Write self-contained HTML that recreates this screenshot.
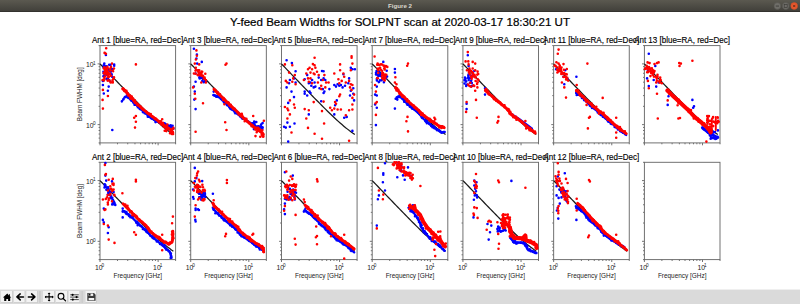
<!DOCTYPE html>
<html><head><meta charset="utf-8"><style>
html,body{margin:0;padding:0;width:800px;height:304px;overflow:hidden;background:#fff}
svg{display:block}
text{font-family:"Liberation Sans", sans-serif;fill:#000}
</style></head><body>
<svg width="800" height="304" viewBox="0 0 800 304">
<defs>
<linearGradient id="tb" x1="0" y1="0" x2="0" y2="1">
<stop offset="0" stop-color="#5b5950"/><stop offset="1" stop-color="#3f3e39"/>
</linearGradient>
</defs>
<rect x="0" y="0" width="800" height="12" fill="url(#tb)"/>
<rect x="0" y="11" width="800" height="1" fill="#33322e"/>
<text x="400" y="8.3" text-anchor="middle" font-size="5.6" font-weight="bold" style="fill:#dcd8cf" textLength="24" lengthAdjust="spacingAndGlyphs">Figure 2</text>
<circle cx="777.4" cy="6" r="3.4" fill="#6f6e69" stroke="#55544f" stroke-width="0.6"/>
<rect x="775.8" y="5.6" width="3.2" height="0.9" fill="#3c3b37"/>
<circle cx="785.7" cy="6" r="3.4" fill="#6f6e69" stroke="#55544f" stroke-width="0.6"/>
<rect x="784.2" y="4.5" width="3" height="3" fill="none" stroke="#3c3b37" stroke-width="0.7"/>
<circle cx="794.2" cy="6" r="3.4" fill="#e8582d" stroke="#c94a25" stroke-width="0.5"/>
<path d="M793.1 4.9l2.2 2.2M795.3 4.9l-2.2 2.2" stroke="#5a2a1a" stroke-width="0.8"/>
<text x="400" y="25.9" text-anchor="middle" font-size="10.8" textLength="340" lengthAdjust="spacingAndGlyphs" stroke="#000" stroke-width="0.2">Y-feed Beam Widths for SOLPNT scan at 2020-03-17 18:30:21 UT</text>
<path d="M100.00 142.90v2.4 M158.11 142.90v2.4 M117.49 142.90v1.4 M127.72 142.90v1.4 M134.98 142.90v1.4 M140.62 142.90v1.4 M145.22 142.90v1.4 M149.11 142.90v1.4 M152.48 142.90v1.4 M155.45 142.90v1.4 M175.60 142.90v1.4 M100.00 124.62h-2.4 M100.00 63.88h-2.4 M100.00 142.90h-1.4 M100.00 138.09h-1.4 M100.00 134.03h-1.4 M100.00 130.50h-1.4 M100.00 127.40h-1.4 M100.00 106.33h-1.4 M100.00 95.64h-1.4 M100.00 88.05h-1.4 M100.00 82.17h-1.4 M100.00 77.36h-1.4 M100.00 73.29h-1.4 M100.00 69.77h-1.4 M100.00 66.66h-1.4 M100.00 45.60h-1.4" stroke="#000" stroke-width="0.55" fill="none"/>
<rect x="100.00" y="45.60" width="75.6" height="97.3" fill="none" stroke="#6a6a6a" stroke-width="0.95"/>
<text x="137.60" y="43.40" text-anchor="middle" font-size="8.4" textLength="91.2" lengthAdjust="spacingAndGlyphs" stroke="#000" stroke-width="0.15">Ant 1 [blue=RA, red=Dec]</text>
<text x="85.90" y="66.88" font-size="6.8" style="fill:#222">10</text><text x="93.00" y="64.68" font-size="4.7" style="fill:#222">1</text>
<text x="85.90" y="127.62" font-size="6.8" style="fill:#222">10</text><text x="93.00" y="125.42" font-size="4.7" style="fill:#222">0</text>
<text transform="translate(82.20 94.35) rotate(-90)" text-anchor="middle" font-size="6.6" textLength="54" lengthAdjust="spacingAndGlyphs" style="fill:#222">Beam FWHM [deg]</text>
<path d="M190.73 142.90v2.4 M248.84 142.90v2.4 M208.23 142.90v1.4 M218.46 142.90v1.4 M225.72 142.90v1.4 M231.35 142.90v1.4 M235.95 142.90v1.4 M239.84 142.90v1.4 M243.21 142.90v1.4 M246.18 142.90v1.4 M266.33 142.90v1.4 M190.73 124.62h-2.4 M190.73 63.88h-2.4 M190.73 142.90h-1.4 M190.73 138.09h-1.4 M190.73 134.03h-1.4 M190.73 130.50h-1.4 M190.73 127.40h-1.4 M190.73 106.33h-1.4 M190.73 95.64h-1.4 M190.73 88.05h-1.4 M190.73 82.17h-1.4 M190.73 77.36h-1.4 M190.73 73.29h-1.4 M190.73 69.77h-1.4 M190.73 66.66h-1.4 M190.73 45.60h-1.4" stroke="#000" stroke-width="0.55" fill="none"/>
<rect x="190.73" y="45.60" width="75.6" height="97.3" fill="none" stroke="#6a6a6a" stroke-width="0.95"/>
<text x="228.33" y="43.40" text-anchor="middle" font-size="8.4" textLength="91.2" lengthAdjust="spacingAndGlyphs" stroke="#000" stroke-width="0.15">Ant 3 [blue=RA, red=Dec]</text>
<path d="M281.47 142.90v2.4 M339.57 142.90v2.4 M298.96 142.90v1.4 M309.19 142.90v1.4 M316.45 142.90v1.4 M322.08 142.90v1.4 M326.68 142.90v1.4 M330.57 142.90v1.4 M333.94 142.90v1.4 M336.91 142.90v1.4 M357.07 142.90v1.4 M281.47 124.62h-2.4 M281.47 63.88h-2.4 M281.47 142.90h-1.4 M281.47 138.09h-1.4 M281.47 134.03h-1.4 M281.47 130.50h-1.4 M281.47 127.40h-1.4 M281.47 106.33h-1.4 M281.47 95.64h-1.4 M281.47 88.05h-1.4 M281.47 82.17h-1.4 M281.47 77.36h-1.4 M281.47 73.29h-1.4 M281.47 69.77h-1.4 M281.47 66.66h-1.4 M281.47 45.60h-1.4" stroke="#000" stroke-width="0.55" fill="none"/>
<rect x="281.47" y="45.60" width="75.6" height="97.3" fill="none" stroke="#6a6a6a" stroke-width="0.95"/>
<text x="319.07" y="43.40" text-anchor="middle" font-size="8.4" textLength="91.2" lengthAdjust="spacingAndGlyphs" stroke="#000" stroke-width="0.15">Ant 5 [blue=RA, red=Dec]</text>
<path d="M372.20 142.90v2.4 M430.31 142.90v2.4 M389.69 142.90v1.4 M399.92 142.90v1.4 M407.18 142.90v1.4 M412.81 142.90v1.4 M417.42 142.90v1.4 M421.31 142.90v1.4 M424.68 142.90v1.4 M427.65 142.90v1.4 M447.80 142.90v1.4 M372.20 124.62h-2.4 M372.20 63.88h-2.4 M372.20 142.90h-1.4 M372.20 138.09h-1.4 M372.20 134.03h-1.4 M372.20 130.50h-1.4 M372.20 127.40h-1.4 M372.20 106.33h-1.4 M372.20 95.64h-1.4 M372.20 88.05h-1.4 M372.20 82.17h-1.4 M372.20 77.36h-1.4 M372.20 73.29h-1.4 M372.20 69.77h-1.4 M372.20 66.66h-1.4 M372.20 45.60h-1.4" stroke="#000" stroke-width="0.55" fill="none"/>
<rect x="372.20" y="45.60" width="75.6" height="97.3" fill="none" stroke="#6a6a6a" stroke-width="0.95"/>
<text x="409.80" y="43.40" text-anchor="middle" font-size="8.4" textLength="91.2" lengthAdjust="spacingAndGlyphs" stroke="#000" stroke-width="0.15">Ant 7 [blue=RA, red=Dec]</text>
<path d="M462.93 142.90v2.4 M521.04 142.90v2.4 M480.42 142.90v1.4 M490.66 142.90v1.4 M497.92 142.90v1.4 M503.55 142.90v1.4 M508.15 142.90v1.4 M512.04 142.90v1.4 M515.41 142.90v1.4 M518.38 142.90v1.4 M538.53 142.90v1.4 M462.93 124.62h-2.4 M462.93 63.88h-2.4 M462.93 142.90h-1.4 M462.93 138.09h-1.4 M462.93 134.03h-1.4 M462.93 130.50h-1.4 M462.93 127.40h-1.4 M462.93 106.33h-1.4 M462.93 95.64h-1.4 M462.93 88.05h-1.4 M462.93 82.17h-1.4 M462.93 77.36h-1.4 M462.93 73.29h-1.4 M462.93 69.77h-1.4 M462.93 66.66h-1.4 M462.93 45.60h-1.4" stroke="#000" stroke-width="0.55" fill="none"/>
<rect x="462.93" y="45.60" width="75.6" height="97.3" fill="none" stroke="#6a6a6a" stroke-width="0.95"/>
<text x="500.53" y="43.40" text-anchor="middle" font-size="8.4" textLength="91.2" lengthAdjust="spacingAndGlyphs" stroke="#000" stroke-width="0.15">Ant 9 [blue=RA, red=Dec]</text>
<path d="M553.66 142.90v2.4 M611.77 142.90v2.4 M571.16 142.90v1.4 M581.39 142.90v1.4 M588.65 142.90v1.4 M594.28 142.90v1.4 M598.88 142.90v1.4 M602.77 142.90v1.4 M606.14 142.90v1.4 M609.11 142.90v1.4 M629.26 142.90v1.4 M553.66 124.62h-2.4 M553.66 63.88h-2.4 M553.66 142.90h-1.4 M553.66 138.09h-1.4 M553.66 134.03h-1.4 M553.66 130.50h-1.4 M553.66 127.40h-1.4 M553.66 106.33h-1.4 M553.66 95.64h-1.4 M553.66 88.05h-1.4 M553.66 82.17h-1.4 M553.66 77.36h-1.4 M553.66 73.29h-1.4 M553.66 69.77h-1.4 M553.66 66.66h-1.4 M553.66 45.60h-1.4" stroke="#000" stroke-width="0.55" fill="none"/>
<rect x="553.66" y="45.60" width="75.6" height="97.3" fill="none" stroke="#6a6a6a" stroke-width="0.95"/>
<text x="591.26" y="43.40" text-anchor="middle" font-size="8.4" textLength="95.8" lengthAdjust="spacingAndGlyphs" stroke="#000" stroke-width="0.15">Ant 11 [blue=RA, red=Dec]</text>
<path d="M644.40 142.90v2.4 M702.51 142.90v2.4 M661.89 142.90v1.4 M672.12 142.90v1.4 M679.38 142.90v1.4 M685.01 142.90v1.4 M689.61 142.90v1.4 M693.50 142.90v1.4 M696.87 142.90v1.4 M699.85 142.90v1.4 M720.00 142.90v1.4 M644.40 124.62h-2.4 M644.40 63.88h-2.4 M644.40 142.90h-1.4 M644.40 138.09h-1.4 M644.40 134.03h-1.4 M644.40 130.50h-1.4 M644.40 127.40h-1.4 M644.40 106.33h-1.4 M644.40 95.64h-1.4 M644.40 88.05h-1.4 M644.40 82.17h-1.4 M644.40 77.36h-1.4 M644.40 73.29h-1.4 M644.40 69.77h-1.4 M644.40 66.66h-1.4 M644.40 45.60h-1.4" stroke="#000" stroke-width="0.55" fill="none"/>
<rect x="644.40" y="45.60" width="75.6" height="97.3" fill="none" stroke="#6a6a6a" stroke-width="0.95"/>
<text x="682.00" y="43.40" text-anchor="middle" font-size="8.4" textLength="95.8" lengthAdjust="spacingAndGlyphs" stroke="#000" stroke-width="0.15">Ant 13 [blue=RA, red=Dec]</text>
<path d="M100.00 259.60v2.4 M158.11 259.60v2.4 M117.49 259.60v1.4 M127.72 259.60v1.4 M134.98 259.60v1.4 M140.62 259.60v1.4 M145.22 259.60v1.4 M149.11 259.60v1.4 M152.48 259.60v1.4 M155.45 259.60v1.4 M175.60 259.60v1.4 M100.00 241.32h-2.4 M100.00 180.58h-2.4 M100.00 259.60h-1.4 M100.00 254.79h-1.4 M100.00 250.73h-1.4 M100.00 247.20h-1.4 M100.00 244.10h-1.4 M100.00 223.03h-1.4 M100.00 212.34h-1.4 M100.00 204.75h-1.4 M100.00 198.87h-1.4 M100.00 194.06h-1.4 M100.00 189.99h-1.4 M100.00 186.47h-1.4 M100.00 183.36h-1.4 M100.00 162.30h-1.4" stroke="#000" stroke-width="0.55" fill="none"/>
<rect x="100.00" y="162.30" width="75.6" height="97.3" fill="none" stroke="#6a6a6a" stroke-width="0.95"/>
<text x="137.60" y="160.10" text-anchor="middle" font-size="8.4" textLength="91.2" lengthAdjust="spacingAndGlyphs" stroke="#000" stroke-width="0.15">Ant 2 [blue=RA, red=Dec]</text>
<text x="85.90" y="183.58" font-size="6.8" style="fill:#222">10</text><text x="93.00" y="181.38" font-size="4.7" style="fill:#222">1</text>
<text x="85.90" y="244.32" font-size="6.8" style="fill:#222">10</text><text x="93.00" y="242.12" font-size="4.7" style="fill:#222">0</text>
<text transform="translate(82.20 211.05) rotate(-90)" text-anchor="middle" font-size="6.6" textLength="54" lengthAdjust="spacingAndGlyphs" style="fill:#222">Beam FWHM [deg]</text>
<text x="95.00" y="269.90" font-size="6.8" style="fill:#222">10</text><text x="101.60" y="267.30" font-size="4.7" style="fill:#222">0</text>
<text x="153.11" y="269.90" font-size="6.8" style="fill:#222">10</text><text x="159.71" y="267.30" font-size="4.7" style="fill:#222">1</text>
<text x="137.80" y="277.90" text-anchor="middle" font-size="6.5" textLength="48.6" lengthAdjust="spacingAndGlyphs" style="fill:#222">Frequency [GHz]</text>
<path d="M190.73 259.60v2.4 M248.84 259.60v2.4 M208.23 259.60v1.4 M218.46 259.60v1.4 M225.72 259.60v1.4 M231.35 259.60v1.4 M235.95 259.60v1.4 M239.84 259.60v1.4 M243.21 259.60v1.4 M246.18 259.60v1.4 M266.33 259.60v1.4 M190.73 241.32h-2.4 M190.73 180.58h-2.4 M190.73 259.60h-1.4 M190.73 254.79h-1.4 M190.73 250.73h-1.4 M190.73 247.20h-1.4 M190.73 244.10h-1.4 M190.73 223.03h-1.4 M190.73 212.34h-1.4 M190.73 204.75h-1.4 M190.73 198.87h-1.4 M190.73 194.06h-1.4 M190.73 189.99h-1.4 M190.73 186.47h-1.4 M190.73 183.36h-1.4 M190.73 162.30h-1.4" stroke="#000" stroke-width="0.55" fill="none"/>
<rect x="190.73" y="162.30" width="75.6" height="97.3" fill="none" stroke="#6a6a6a" stroke-width="0.95"/>
<text x="228.33" y="160.10" text-anchor="middle" font-size="8.4" textLength="91.2" lengthAdjust="spacingAndGlyphs" stroke="#000" stroke-width="0.15">Ant 4 [blue=RA, red=Dec]</text>
<text x="185.73" y="269.90" font-size="6.8" style="fill:#222">10</text><text x="192.33" y="267.30" font-size="4.7" style="fill:#222">0</text>
<text x="243.84" y="269.90" font-size="6.8" style="fill:#222">10</text><text x="250.44" y="267.30" font-size="4.7" style="fill:#222">1</text>
<text x="228.53" y="277.90" text-anchor="middle" font-size="6.5" textLength="48.6" lengthAdjust="spacingAndGlyphs" style="fill:#222">Frequency [GHz]</text>
<path d="M281.47 259.60v2.4 M339.57 259.60v2.4 M298.96 259.60v1.4 M309.19 259.60v1.4 M316.45 259.60v1.4 M322.08 259.60v1.4 M326.68 259.60v1.4 M330.57 259.60v1.4 M333.94 259.60v1.4 M336.91 259.60v1.4 M357.07 259.60v1.4 M281.47 241.32h-2.4 M281.47 180.58h-2.4 M281.47 259.60h-1.4 M281.47 254.79h-1.4 M281.47 250.73h-1.4 M281.47 247.20h-1.4 M281.47 244.10h-1.4 M281.47 223.03h-1.4 M281.47 212.34h-1.4 M281.47 204.75h-1.4 M281.47 198.87h-1.4 M281.47 194.06h-1.4 M281.47 189.99h-1.4 M281.47 186.47h-1.4 M281.47 183.36h-1.4 M281.47 162.30h-1.4" stroke="#000" stroke-width="0.55" fill="none"/>
<rect x="281.47" y="162.30" width="75.6" height="97.3" fill="none" stroke="#6a6a6a" stroke-width="0.95"/>
<text x="319.07" y="160.10" text-anchor="middle" font-size="8.4" textLength="91.2" lengthAdjust="spacingAndGlyphs" stroke="#000" stroke-width="0.15">Ant 6 [blue=RA, red=Dec]</text>
<text x="276.47" y="269.90" font-size="6.8" style="fill:#222">10</text><text x="283.07" y="267.30" font-size="4.7" style="fill:#222">0</text>
<text x="334.57" y="269.90" font-size="6.8" style="fill:#222">10</text><text x="341.17" y="267.30" font-size="4.7" style="fill:#222">1</text>
<text x="319.27" y="277.90" text-anchor="middle" font-size="6.5" textLength="48.6" lengthAdjust="spacingAndGlyphs" style="fill:#222">Frequency [GHz]</text>
<path d="M372.20 259.60v2.4 M430.31 259.60v2.4 M389.69 259.60v1.4 M399.92 259.60v1.4 M407.18 259.60v1.4 M412.81 259.60v1.4 M417.42 259.60v1.4 M421.31 259.60v1.4 M424.68 259.60v1.4 M427.65 259.60v1.4 M447.80 259.60v1.4 M372.20 241.32h-2.4 M372.20 180.58h-2.4 M372.20 259.60h-1.4 M372.20 254.79h-1.4 M372.20 250.73h-1.4 M372.20 247.20h-1.4 M372.20 244.10h-1.4 M372.20 223.03h-1.4 M372.20 212.34h-1.4 M372.20 204.75h-1.4 M372.20 198.87h-1.4 M372.20 194.06h-1.4 M372.20 189.99h-1.4 M372.20 186.47h-1.4 M372.20 183.36h-1.4 M372.20 162.30h-1.4" stroke="#000" stroke-width="0.55" fill="none"/>
<rect x="372.20" y="162.30" width="75.6" height="97.3" fill="none" stroke="#6a6a6a" stroke-width="0.95"/>
<text x="409.80" y="160.10" text-anchor="middle" font-size="8.4" textLength="91.2" lengthAdjust="spacingAndGlyphs" stroke="#000" stroke-width="0.15">Ant 8 [blue=RA, red=Dec]</text>
<text x="367.20" y="269.90" font-size="6.8" style="fill:#222">10</text><text x="373.80" y="267.30" font-size="4.7" style="fill:#222">0</text>
<text x="425.31" y="269.90" font-size="6.8" style="fill:#222">10</text><text x="431.91" y="267.30" font-size="4.7" style="fill:#222">1</text>
<text x="410.00" y="277.90" text-anchor="middle" font-size="6.5" textLength="48.6" lengthAdjust="spacingAndGlyphs" style="fill:#222">Frequency [GHz]</text>
<path d="M462.93 259.60v2.4 M521.04 259.60v2.4 M480.42 259.60v1.4 M490.66 259.60v1.4 M497.92 259.60v1.4 M503.55 259.60v1.4 M508.15 259.60v1.4 M512.04 259.60v1.4 M515.41 259.60v1.4 M518.38 259.60v1.4 M538.53 259.60v1.4 M462.93 241.32h-2.4 M462.93 180.58h-2.4 M462.93 259.60h-1.4 M462.93 254.79h-1.4 M462.93 250.73h-1.4 M462.93 247.20h-1.4 M462.93 244.10h-1.4 M462.93 223.03h-1.4 M462.93 212.34h-1.4 M462.93 204.75h-1.4 M462.93 198.87h-1.4 M462.93 194.06h-1.4 M462.93 189.99h-1.4 M462.93 186.47h-1.4 M462.93 183.36h-1.4 M462.93 162.30h-1.4" stroke="#000" stroke-width="0.55" fill="none"/>
<rect x="462.93" y="162.30" width="75.6" height="97.3" fill="none" stroke="#6a6a6a" stroke-width="0.95"/>
<text x="500.53" y="160.10" text-anchor="middle" font-size="8.4" textLength="95.8" lengthAdjust="spacingAndGlyphs" stroke="#000" stroke-width="0.15">Ant 10 [blue=RA, red=Dec]</text>
<text x="457.93" y="269.90" font-size="6.8" style="fill:#222">10</text><text x="464.53" y="267.30" font-size="4.7" style="fill:#222">0</text>
<text x="516.04" y="269.90" font-size="6.8" style="fill:#222">10</text><text x="522.64" y="267.30" font-size="4.7" style="fill:#222">1</text>
<text x="500.73" y="277.90" text-anchor="middle" font-size="6.5" textLength="48.6" lengthAdjust="spacingAndGlyphs" style="fill:#222">Frequency [GHz]</text>
<path d="M553.66 259.60v2.4 M611.77 259.60v2.4 M571.16 259.60v1.4 M581.39 259.60v1.4 M588.65 259.60v1.4 M594.28 259.60v1.4 M598.88 259.60v1.4 M602.77 259.60v1.4 M606.14 259.60v1.4 M609.11 259.60v1.4 M629.26 259.60v1.4 M553.66 241.32h-2.4 M553.66 180.58h-2.4 M553.66 259.60h-1.4 M553.66 254.79h-1.4 M553.66 250.73h-1.4 M553.66 247.20h-1.4 M553.66 244.10h-1.4 M553.66 223.03h-1.4 M553.66 212.34h-1.4 M553.66 204.75h-1.4 M553.66 198.87h-1.4 M553.66 194.06h-1.4 M553.66 189.99h-1.4 M553.66 186.47h-1.4 M553.66 183.36h-1.4 M553.66 162.30h-1.4" stroke="#000" stroke-width="0.55" fill="none"/>
<rect x="553.66" y="162.30" width="75.6" height="97.3" fill="none" stroke="#6a6a6a" stroke-width="0.95"/>
<text x="591.26" y="160.10" text-anchor="middle" font-size="8.4" textLength="95.8" lengthAdjust="spacingAndGlyphs" stroke="#000" stroke-width="0.15">Ant 12 [blue=RA, red=Dec]</text>
<text x="548.66" y="269.90" font-size="6.8" style="fill:#222">10</text><text x="555.26" y="267.30" font-size="4.7" style="fill:#222">0</text>
<text x="606.77" y="269.90" font-size="6.8" style="fill:#222">10</text><text x="613.37" y="267.30" font-size="4.7" style="fill:#222">1</text>
<text x="591.46" y="277.90" text-anchor="middle" font-size="6.5" textLength="48.6" lengthAdjust="spacingAndGlyphs" style="fill:#222">Frequency [GHz]</text>
<path d="M644.40 259.60v2.4 M702.51 259.60v2.4 M661.89 259.60v1.4 M672.12 259.60v1.4 M679.38 259.60v1.4 M685.01 259.60v1.4 M689.61 259.60v1.4 M693.50 259.60v1.4 M696.87 259.60v1.4 M699.85 259.60v1.4 M720.00 259.60v1.4 M644.40 241.32h-2.4 M644.40 180.58h-2.4 M644.40 259.60h-1.4 M644.40 254.79h-1.4 M644.40 250.73h-1.4 M644.40 247.20h-1.4 M644.40 244.10h-1.4 M644.40 223.03h-1.4 M644.40 212.34h-1.4 M644.40 204.75h-1.4 M644.40 198.87h-1.4 M644.40 194.06h-1.4 M644.40 189.99h-1.4 M644.40 186.47h-1.4 M644.40 183.36h-1.4 M644.40 162.30h-1.4" stroke="#000" stroke-width="0.55" fill="none"/>
<rect x="644.40" y="162.30" width="75.6" height="97.3" fill="none" stroke="#6a6a6a" stroke-width="0.95"/>
<text x="639.40" y="269.90" font-size="6.8" style="fill:#222">10</text><text x="646.00" y="267.30" font-size="4.7" style="fill:#222">0</text>
<text x="697.51" y="269.90" font-size="6.8" style="fill:#222">10</text><text x="704.11" y="267.30" font-size="4.7" style="fill:#222">1</text>
<text x="682.20" y="277.90" text-anchor="middle" font-size="6.5" textLength="48.6" lengthAdjust="spacingAndGlyphs" style="fill:#222">Frequency [GHz]</text>
<path d="M100.00 63.86 L101.83 65.77 L103.67 67.69 L105.50 69.60 L107.34 71.51 L109.17 73.42 L111.00 75.33 L112.84 77.24 L114.67 79.14 L116.51 81.05 L118.34 82.95 L120.17 84.85 L122.01 86.75 L123.84 88.65 L125.68 90.54 L127.51 92.43 L129.34 94.32 L131.18 96.20 L133.01 98.07 L134.85 99.94 L136.68 101.80 L138.51 103.65 L140.35 105.50 L142.18 107.33 L144.01 109.15 L145.85 110.95 L147.68 112.74 L149.52 114.51 L151.35 116.26 L153.18 117.99 L155.02 119.69 L156.85 121.36 L158.69 122.99 L160.52 124.59 L162.35 126.15 L164.19 127.67 L166.02 129.13 L167.86 130.55 L169.69 131.91 L171.52 133.21 L173.36 134.45 M190.73 63.86 L192.57 65.77 L194.40 67.69 L196.23 69.60 L198.07 71.51 L199.90 73.42 L201.74 75.33 L203.57 77.24 L205.40 79.14 L207.24 81.05 L209.07 82.95 L210.91 84.85 L212.74 86.75 L214.57 88.65 L216.41 90.54 L218.24 92.43 L220.08 94.32 L221.91 96.20 L223.74 98.07 L225.58 99.94 L227.41 101.80 L229.25 103.65 L231.08 105.50 L232.91 107.33 L234.75 109.15 L236.58 110.95 L238.42 112.74 L240.25 114.51 L242.08 116.26 L243.92 117.99 L245.75 119.69 L247.59 121.36 L249.42 122.99 L251.25 124.59 L253.09 126.15 L254.92 127.67 L256.76 129.13 L258.59 130.55 L260.42 131.91 L262.26 133.21 L264.09 134.45 M281.47 63.86 L283.30 65.77 L285.13 67.69 L286.97 69.60 L288.80 71.51 L290.64 73.42 L292.47 75.33 L294.30 77.24 L296.14 79.14 L297.97 81.05 L299.81 82.95 L301.64 84.85 L303.47 86.75 L305.31 88.65 L307.14 90.54 L308.98 92.43 L310.81 94.32 L312.64 96.20 L314.48 98.07 L316.31 99.94 L318.15 101.80 L319.98 103.65 L321.81 105.50 L323.65 107.33 L325.48 109.15 L327.31 110.95 L329.15 112.74 L330.98 114.51 L332.82 116.26 L334.65 117.99 L336.48 119.69 L338.32 121.36 L340.15 122.99 L341.99 124.59 L343.82 126.15 L345.65 127.67 L347.49 129.13 L349.32 130.55 L351.16 131.91 L352.99 133.21 L354.82 134.45 M372.20 63.86 L374.03 65.77 L375.87 67.69 L377.70 69.60 L379.53 71.51 L381.37 73.42 L383.20 75.33 L385.04 77.24 L386.87 79.14 L388.70 81.05 L390.54 82.95 L392.37 84.85 L394.21 86.75 L396.04 88.65 L397.87 90.54 L399.71 92.43 L401.54 94.32 L403.38 96.20 L405.21 98.07 L407.04 99.94 L408.88 101.80 L410.71 103.65 L412.55 105.50 L414.38 107.33 L416.21 109.15 L418.05 110.95 L419.88 112.74 L421.72 114.51 L423.55 116.26 L425.38 117.99 L427.22 119.69 L429.05 121.36 L430.89 122.99 L432.72 124.59 L434.55 126.15 L436.39 127.67 L438.22 129.13 L440.06 130.55 L441.89 131.91 L443.72 133.21 L445.56 134.45 M462.93 63.86 L464.77 65.77 L466.60 67.69 L468.43 69.60 L470.27 71.51 L472.10 73.42 L473.94 75.33 L475.77 77.24 L477.60 79.14 L479.44 81.05 L481.27 82.95 L483.11 84.85 L484.94 86.75 L486.77 88.65 L488.61 90.54 L490.44 92.43 L492.28 94.32 L494.11 96.20 L495.94 98.07 L497.78 99.94 L499.61 101.80 L501.45 103.65 L503.28 105.50 L505.11 107.33 L506.95 109.15 L508.78 110.95 L510.61 112.74 L512.45 114.51 L514.28 116.26 L516.12 117.99 L517.95 119.69 L519.78 121.36 L521.62 122.99 L523.45 124.59 L525.29 126.15 L527.12 127.67 L528.95 129.13 L530.79 130.55 L532.62 131.91 L534.46 133.21 L536.29 134.45 M553.66 63.86 L555.50 65.77 L557.33 67.69 L559.17 69.60 L561.00 71.51 L562.83 73.42 L564.67 75.33 L566.50 77.24 L568.34 79.14 L570.17 81.05 L572.00 82.95 L573.84 84.85 L575.67 86.75 L577.51 88.65 L579.34 90.54 L581.17 92.43 L583.01 94.32 L584.84 96.20 L586.68 98.07 L588.51 99.94 L590.34 101.80 L592.18 103.65 L594.01 105.50 L595.85 107.33 L597.68 109.15 L599.51 110.95 L601.35 112.74 L603.18 114.51 L605.02 116.26 L606.85 117.99 L608.68 119.69 L610.52 121.36 L612.35 122.99 L614.19 124.59 L616.02 126.15 L617.85 127.67 L619.69 129.13 L621.52 130.55 L623.36 131.91 L625.19 133.21 L627.02 134.45 M644.40 63.86 L646.23 65.77 L648.07 67.69 L649.90 69.60 L651.73 71.51 L653.57 73.42 L655.40 75.33 L657.24 77.24 L659.07 79.14 L660.90 81.05 L662.74 82.95 L664.57 84.85 L666.41 86.75 L668.24 88.65 L670.07 90.54 L671.91 92.43 L673.74 94.32 L675.58 96.20 L677.41 98.07 L679.24 99.94 L681.08 101.80 L682.91 103.65 L684.75 105.50 L686.58 107.33 L688.41 109.15 L690.25 110.95 L692.08 112.74 L693.91 114.51 L695.75 116.26 L697.58 117.99 L699.42 119.69 L701.25 121.36 L703.08 122.99 L704.92 124.59 L706.75 126.15 L708.59 127.67 L710.42 129.13 L712.25 130.55 L714.09 131.91 L715.92 133.21 L717.76 134.45 M100.00 180.56 L101.83 182.47 L103.67 184.39 L105.50 186.30 L107.34 188.21 L109.17 190.12 L111.00 192.03 L112.84 193.94 L114.67 195.84 L116.51 197.75 L118.34 199.65 L120.17 201.55 L122.01 203.45 L123.84 205.35 L125.68 207.24 L127.51 209.13 L129.34 211.02 L131.18 212.90 L133.01 214.77 L134.85 216.64 L136.68 218.50 L138.51 220.35 L140.35 222.20 L142.18 224.03 L144.01 225.85 L145.85 227.65 L147.68 229.44 L149.52 231.21 L151.35 232.96 L153.18 234.69 L155.02 236.39 L156.85 238.06 L158.69 239.69 L160.52 241.29 L162.35 242.85 L164.19 244.37 L166.02 245.83 L167.86 247.25 L169.69 248.61 L171.52 249.91 L173.36 251.15 M190.73 180.56 L192.57 182.47 L194.40 184.39 L196.23 186.30 L198.07 188.21 L199.90 190.12 L201.74 192.03 L203.57 193.94 L205.40 195.84 L207.24 197.75 L209.07 199.65 L210.91 201.55 L212.74 203.45 L214.57 205.35 L216.41 207.24 L218.24 209.13 L220.08 211.02 L221.91 212.90 L223.74 214.77 L225.58 216.64 L227.41 218.50 L229.25 220.35 L231.08 222.20 L232.91 224.03 L234.75 225.85 L236.58 227.65 L238.42 229.44 L240.25 231.21 L242.08 232.96 L243.92 234.69 L245.75 236.39 L247.59 238.06 L249.42 239.69 L251.25 241.29 L253.09 242.85 L254.92 244.37 L256.76 245.83 L258.59 247.25 L260.42 248.61 L262.26 249.91 L264.09 251.15 M281.47 180.56 L283.30 182.47 L285.13 184.39 L286.97 186.30 L288.80 188.21 L290.64 190.12 L292.47 192.03 L294.30 193.94 L296.14 195.84 L297.97 197.75 L299.81 199.65 L301.64 201.55 L303.47 203.45 L305.31 205.35 L307.14 207.24 L308.98 209.13 L310.81 211.02 L312.64 212.90 L314.48 214.77 L316.31 216.64 L318.15 218.50 L319.98 220.35 L321.81 222.20 L323.65 224.03 L325.48 225.85 L327.31 227.65 L329.15 229.44 L330.98 231.21 L332.82 232.96 L334.65 234.69 L336.48 236.39 L338.32 238.06 L340.15 239.69 L341.99 241.29 L343.82 242.85 L345.65 244.37 L347.49 245.83 L349.32 247.25 L351.16 248.61 L352.99 249.91 L354.82 251.15 M372.20 180.56 L374.03 182.47 L375.87 184.39 L377.70 186.30 L379.53 188.21 L381.37 190.12 L383.20 192.03 L385.04 193.94 L386.87 195.84 L388.70 197.75 L390.54 199.65 L392.37 201.55 L394.21 203.45 L396.04 205.35 L397.87 207.24 L399.71 209.13 L401.54 211.02 L403.38 212.90 L405.21 214.77 L407.04 216.64 L408.88 218.50 L410.71 220.35 L412.55 222.20 L414.38 224.03 L416.21 225.85 L418.05 227.65 L419.88 229.44 L421.72 231.21 L423.55 232.96 L425.38 234.69 L427.22 236.39 L429.05 238.06 L430.89 239.69 L432.72 241.29 L434.55 242.85 L436.39 244.37 L438.22 245.83 L440.06 247.25 L441.89 248.61 L443.72 249.91 L445.56 251.15 M462.93 180.56 L464.77 182.47 L466.60 184.39 L468.43 186.30 L470.27 188.21 L472.10 190.12 L473.94 192.03 L475.77 193.94 L477.60 195.84 L479.44 197.75 L481.27 199.65 L483.11 201.55 L484.94 203.45 L486.77 205.35 L488.61 207.24 L490.44 209.13 L492.28 211.02 L494.11 212.90 L495.94 214.77 L497.78 216.64 L499.61 218.50 L501.45 220.35 L503.28 222.20 L505.11 224.03 L506.95 225.85 L508.78 227.65 L510.61 229.44 L512.45 231.21 L514.28 232.96 L516.12 234.69 L517.95 236.39 L519.78 238.06 L521.62 239.69 L523.45 241.29 L525.29 242.85 L527.12 244.37 L528.95 245.83 L530.79 247.25 L532.62 248.61 L534.46 249.91 L536.29 251.15 M553.66 180.56 L555.50 182.47 L557.33 184.39 L559.17 186.30 L561.00 188.21 L562.83 190.12 L564.67 192.03 L566.50 193.94 L568.34 195.84 L570.17 197.75 L572.00 199.65 L573.84 201.55 L575.67 203.45 L577.51 205.35 L579.34 207.24 L581.17 209.13 L583.01 211.02 L584.84 212.90 L586.68 214.77 L588.51 216.64 L590.34 218.50 L592.18 220.35 L594.01 222.20 L595.85 224.03 L597.68 225.85 L599.51 227.65 L601.35 229.44 L603.18 231.21 L605.02 232.96 L606.85 234.69 L608.68 236.39 L610.52 238.06 L612.35 239.69 L614.19 241.29 L616.02 242.85 L617.85 244.37 L619.69 245.83 L621.52 247.25 L623.36 248.61 L625.19 249.91 L627.02 251.15" stroke="#1a1a1a" stroke-width="1.25" fill="none"/>
<path d="M121.8 101.6 L124.7 96.8" stroke="#0000ff" stroke-width="1.80" fill="none" stroke-linecap="round" stroke-linejoin="round"/>
<path d="M127.1 96.3 L136.6 105.1 L143.2 111.1 L149.1 116.5 L156.2 121.2 L163.3 123.6 L170.4 126.5 L173.4 128.9" stroke="#0000ff" stroke-width="2.30" fill="none" stroke-linecap="round" stroke-linejoin="round"/>
<path d="M213.4 95.1 L220.5 98.0 L227.6 105.1 L234.7 111.7 L241.3 117.1 L248.4 121.8 L255.5 126.0 L262.6 127.7" stroke="#0000ff" stroke-width="2.30" fill="none" stroke-linecap="round" stroke-linejoin="round"/>
<path d="M396.7 97.4 L400.3 96.8 L409.8 105.7 L418.1 112.8 L423.5 118.8 L431.8 126.0 L441.3 132.5 L444.8 131.9" stroke="#0000ff" stroke-width="2.30" fill="none" stroke-linecap="round" stroke-linejoin="round"/>
<path d="M512.1 114.2 L519.2 118.8 L532.2 128.5" stroke="#0000ff" stroke-width="1.80" fill="none" stroke-linecap="round" stroke-linejoin="round"/>
<path d="M576.4 92.0 L590.6 105.5 L608.4 121.0 L626.2 135.0" stroke="#0000ff" stroke-width="2.20" fill="none" stroke-linecap="round" stroke-linejoin="round"/>
<path d="M702.4 127.7 L711.0 134.5 L717.8 137.5" stroke="#0000ff" stroke-width="3.00" fill="none" stroke-linecap="round" stroke-linejoin="round"/>
<path d="M123.0 210.9 L129.5 215.0 L137.8 223.3 L146.1 230.4 L150.3 235.3 L157.4 241.2 L164.5 247.1 L169.8 251.8 L171.6 257.8" stroke="#0000ff" stroke-width="2.30" fill="none" stroke-linecap="round" stroke-linejoin="round"/>
<path d="M213.4 209.1 L219.3 215.0 L228.8 223.3 L237.1 230.4 L241.3 235.8 L248.4 240.0 L255.5 245.3 L262.6 250.1" stroke="#0000ff" stroke-width="2.30" fill="none" stroke-linecap="round" stroke-linejoin="round"/>
<path d="M304.4 210.3 L311.5 215.0 L319.8 223.3 L328.1 231.0 L332.3 235.8 L339.4 241.2 L346.5 245.9 L354.2 252.4" stroke="#0000ff" stroke-width="2.30" fill="none" stroke-linecap="round" stroke-linejoin="round"/>
<path d="M408.6 207.9 L414.5 213.8 L419.2 221.0 L421.6 228.1 L426.8 234.7 L434.0 241.8 L438.7 245.3 L444.6 250.7" stroke="#0000ff" stroke-width="2.20" fill="none" stroke-linecap="round" stroke-linejoin="round"/>
<path d="M510.3 237.4 L513.9 242.2 L523.4 242.7 L525.5 245.0 L527.7 249.4 L536.4 253.0" stroke="#0000ff" stroke-width="2.60" fill="none" stroke-linecap="round" stroke-linejoin="round"/>
<path d="M576.4 207.3 L583.5 212.7 L591.8 222.1 L600.1 229.3 L604.3 234.7 L611.4 240.0 L618.5 244.1 L624.4 247.1" stroke="#0000ff" stroke-width="2.30" fill="none" stroke-linecap="round" stroke-linejoin="round"/>
<path d="M104.6 54.9a1.3 1.3 0 1 0 2.6 0a1.3 1.3 0 1 0 -2.6 0M103.0 63.6a1.3 1.3 0 1 0 2.6 0a1.3 1.3 0 1 0 -2.6 0M101.6 80.9a1.3 1.3 0 1 0 2.6 0a1.3 1.3 0 1 0 -2.6 0M101.6 85.0a1.3 1.3 0 1 0 2.6 0a1.3 1.3 0 1 0 -2.6 0M107.4 86.6a1.3 1.3 0 1 0 2.6 0a1.3 1.3 0 1 0 -2.6 0M106.6 90.7a1.3 1.3 0 1 0 2.6 0a1.3 1.3 0 1 0 -2.6 0M105.4 66.4a1.3 1.3 0 1 0 2.6 0a1.3 1.3 0 1 0 -2.6 0M109.1 64.9a1.3 1.3 0 1 0 2.6 0a1.3 1.3 0 1 0 -2.6 0M107.8 70.5a1.3 1.3 0 1 0 2.6 0a1.3 1.3 0 1 0 -2.6 0M102.3 73.2a1.3 1.3 0 1 0 2.6 0a1.3 1.3 0 1 0 -2.6 0M102.1 71.8a1.3 1.3 0 1 0 2.6 0a1.3 1.3 0 1 0 -2.6 0M102.4 65.3a1.3 1.3 0 1 0 2.6 0a1.3 1.3 0 1 0 -2.6 0M106.5 79.2a1.3 1.3 0 1 0 2.6 0a1.3 1.3 0 1 0 -2.6 0M103.1 67.8a1.3 1.3 0 1 0 2.6 0a1.3 1.3 0 1 0 -2.6 0M108.9 81.5a1.3 1.3 0 1 0 2.6 0a1.3 1.3 0 1 0 -2.6 0M108.3 71.1a1.3 1.3 0 1 0 2.6 0a1.3 1.3 0 1 0 -2.6 0M112.9 64.5a1.3 1.3 0 1 0 2.6 0a1.3 1.3 0 1 0 -2.6 0M111.5 69.1a1.3 1.3 0 1 0 2.6 0a1.3 1.3 0 1 0 -2.6 0M103.3 65.8a1.3 1.3 0 1 0 2.6 0a1.3 1.3 0 1 0 -2.6 0M105.2 79.0a1.3 1.3 0 1 0 2.6 0a1.3 1.3 0 1 0 -2.6 0M103.7 74.6a1.3 1.3 0 1 0 2.6 0a1.3 1.3 0 1 0 -2.6 0M109.0 70.6a1.3 1.3 0 1 0 2.6 0a1.3 1.3 0 1 0 -2.6 0M107.9 64.8a1.3 1.3 0 1 0 2.6 0a1.3 1.3 0 1 0 -2.6 0M102.3 67.5a1.3 1.3 0 1 0 2.6 0a1.3 1.3 0 1 0 -2.6 0M109.5 71.7a1.3 1.3 0 1 0 2.6 0a1.3 1.3 0 1 0 -2.6 0M105.3 74.7a1.3 1.3 0 1 0 2.6 0a1.3 1.3 0 1 0 -2.6 0M106.9 69.3a1.3 1.3 0 1 0 2.6 0a1.3 1.3 0 1 0 -2.6 0M110.8 76.8a1.3 1.3 0 1 0 2.6 0a1.3 1.3 0 1 0 -2.6 0M104.5 74.4a1.3 1.3 0 1 0 2.6 0a1.3 1.3 0 1 0 -2.6 0M107.7 80.1a1.3 1.3 0 1 0 2.6 0a1.3 1.3 0 1 0 -2.6 0M110.0 69.0a1.3 1.3 0 1 0 2.6 0a1.3 1.3 0 1 0 -2.6 0M112.9 65.8a1.3 1.3 0 1 0 2.6 0a1.3 1.3 0 1 0 -2.6 0M106.5 77.9a1.3 1.3 0 1 0 2.6 0a1.3 1.3 0 1 0 -2.6 0M103.4 72.8a1.3 1.3 0 1 0 2.6 0a1.3 1.3 0 1 0 -2.6 0M102.1 76.2a1.3 1.3 0 1 0 2.6 0a1.3 1.3 0 1 0 -2.6 0M110.4 74.4a1.3 1.3 0 1 0 2.6 0a1.3 1.3 0 1 0 -2.6 0M102.5 93.5a1.3 1.3 0 1 0 2.6 0a1.3 1.3 0 1 0 -2.6 0M111.0 130.0a1.3 1.3 0 1 0 2.6 0a1.3 1.3 0 1 0 -2.6 0M120.6 101.2a1.3 1.3 0 1 0 2.6 0a1.3 1.3 0 1 0 -2.6 0M122.2 99.3a1.3 1.3 0 1 0 2.6 0a1.3 1.3 0 1 0 -2.6 0M123.9 97.1a1.3 1.3 0 1 0 2.6 0a1.3 1.3 0 1 0 -2.6 0M125.5 95.5a1.3 1.3 0 1 0 2.6 0a1.3 1.3 0 1 0 -2.6 0M171.3 125.8a1.3 1.3 0 1 0 2.6 0a1.3 1.3 0 1 0 -2.6 0M166.0 129.0a1.3 1.3 0 1 0 2.6 0a1.3 1.3 0 1 0 -2.6 0M169.3 125.7a1.3 1.3 0 1 0 2.6 0a1.3 1.3 0 1 0 -2.6 0M169.4 125.2a1.3 1.3 0 1 0 2.6 0a1.3 1.3 0 1 0 -2.6 0M169.3 129.1a1.3 1.3 0 1 0 2.6 0a1.3 1.3 0 1 0 -2.6 0M171.5 128.0a1.3 1.3 0 1 0 2.6 0a1.3 1.3 0 1 0 -2.6 0M167.6 126.6a1.3 1.3 0 1 0 2.6 0a1.3 1.3 0 1 0 -2.6 0M166.9 128.3a1.3 1.3 0 1 0 2.6 0a1.3 1.3 0 1 0 -2.6 0M169.3 128.3a1.3 1.3 0 1 0 2.6 0a1.3 1.3 0 1 0 -2.6 0M168.0 126.0a1.3 1.3 0 1 0 2.6 0a1.3 1.3 0 1 0 -2.6 0M192.6 48.8a1.3 1.3 0 1 0 2.6 0a1.3 1.3 0 1 0 -2.6 0M195.6 54.5a1.3 1.3 0 1 0 2.6 0a1.3 1.3 0 1 0 -2.6 0M195.1 58.6a1.3 1.3 0 1 0 2.6 0a1.3 1.3 0 1 0 -2.6 0M195.9 63.6a1.3 1.3 0 1 0 2.6 0a1.3 1.3 0 1 0 -2.6 0M200.5 61.9a1.3 1.3 0 1 0 2.6 0a1.3 1.3 0 1 0 -2.6 0M194.3 73.5a1.3 1.3 0 1 0 2.6 0a1.3 1.3 0 1 0 -2.6 0M199.6 77.9a1.3 1.3 0 1 0 2.6 0a1.3 1.3 0 1 0 -2.6 0M202.5 82.2a1.3 1.3 0 1 0 2.6 0a1.3 1.3 0 1 0 -2.6 0M194.3 81.7a1.3 1.3 0 1 0 2.6 0a1.3 1.3 0 1 0 -2.6 0M192.6 86.6a1.3 1.3 0 1 0 2.6 0a1.3 1.3 0 1 0 -2.6 0M193.5 91.6a1.3 1.3 0 1 0 2.6 0a1.3 1.3 0 1 0 -2.6 0M212.4 91.6a1.3 1.3 0 1 0 2.6 0a1.3 1.3 0 1 0 -2.6 0M198.3 76.1a1.3 1.3 0 1 0 2.6 0a1.3 1.3 0 1 0 -2.6 0M203.8 81.0a1.3 1.3 0 1 0 2.6 0a1.3 1.3 0 1 0 -2.6 0M201.5 78.0a1.3 1.3 0 1 0 2.6 0a1.3 1.3 0 1 0 -2.6 0M198.5 77.5a1.3 1.3 0 1 0 2.6 0a1.3 1.3 0 1 0 -2.6 0M203.7 81.3a1.3 1.3 0 1 0 2.6 0a1.3 1.3 0 1 0 -2.6 0M204.5 81.2a1.3 1.3 0 1 0 2.6 0a1.3 1.3 0 1 0 -2.6 0M198.8 78.0a1.3 1.3 0 1 0 2.6 0a1.3 1.3 0 1 0 -2.6 0M198.5 75.7a1.3 1.3 0 1 0 2.6 0a1.3 1.3 0 1 0 -2.6 0M201.8 78.9a1.3 1.3 0 1 0 2.6 0a1.3 1.3 0 1 0 -2.6 0M203.6 81.0a1.3 1.3 0 1 0 2.6 0a1.3 1.3 0 1 0 -2.6 0M198.4 78.4a1.3 1.3 0 1 0 2.6 0a1.3 1.3 0 1 0 -2.6 0M201.0 81.0a1.3 1.3 0 1 0 2.6 0a1.3 1.3 0 1 0 -2.6 0M198.6 76.2a1.3 1.3 0 1 0 2.6 0a1.3 1.3 0 1 0 -2.6 0M198.0 77.7a1.3 1.3 0 1 0 2.6 0a1.3 1.3 0 1 0 -2.6 0M193.0 99.6a1.3 1.3 0 1 0 2.6 0a1.3 1.3 0 1 0 -2.6 0M194.3 109.1a1.3 1.3 0 1 0 2.6 0a1.3 1.3 0 1 0 -2.6 0M212.4 95.0a1.3 1.3 0 1 0 2.6 0a1.3 1.3 0 1 0 -2.6 0M252.6 129.1a1.3 1.3 0 1 0 2.6 0a1.3 1.3 0 1 0 -2.6 0M261.0 129.0a1.3 1.3 0 1 0 2.6 0a1.3 1.3 0 1 0 -2.6 0M253.1 123.2a1.3 1.3 0 1 0 2.6 0a1.3 1.3 0 1 0 -2.6 0M252.4 127.4a1.3 1.3 0 1 0 2.6 0a1.3 1.3 0 1 0 -2.6 0M255.0 122.0a1.3 1.3 0 1 0 2.6 0a1.3 1.3 0 1 0 -2.6 0M256.8 128.5a1.3 1.3 0 1 0 2.6 0a1.3 1.3 0 1 0 -2.6 0M261.3 123.1a1.3 1.3 0 1 0 2.6 0a1.3 1.3 0 1 0 -2.6 0M253.6 128.5a1.3 1.3 0 1 0 2.6 0a1.3 1.3 0 1 0 -2.6 0M258.5 126.7a1.3 1.3 0 1 0 2.6 0a1.3 1.3 0 1 0 -2.6 0M252.9 121.5a1.3 1.3 0 1 0 2.6 0a1.3 1.3 0 1 0 -2.6 0M259.8 124.5a1.3 1.3 0 1 0 2.6 0a1.3 1.3 0 1 0 -2.6 0M252.7 128.7a1.3 1.3 0 1 0 2.6 0a1.3 1.3 0 1 0 -2.6 0M259.2 127.6a1.3 1.3 0 1 0 2.6 0a1.3 1.3 0 1 0 -2.6 0M252.9 128.0a1.3 1.3 0 1 0 2.6 0a1.3 1.3 0 1 0 -2.6 0M285.3 60.3a1.3 1.3 0 1 0 2.6 0a1.3 1.3 0 1 0 -2.6 0M290.6 63.1a1.3 1.3 0 1 0 2.6 0a1.3 1.3 0 1 0 -2.6 0M294.3 71.3a1.3 1.3 0 1 0 2.6 0a1.3 1.3 0 1 0 -2.6 0M292.7 78.4a1.3 1.3 0 1 0 2.6 0a1.3 1.3 0 1 0 -2.6 0M288.6 80.0a1.3 1.3 0 1 0 2.6 0a1.3 1.3 0 1 0 -2.6 0M287.8 83.3a1.3 1.3 0 1 0 2.6 0a1.3 1.3 0 1 0 -2.6 0M294.3 82.5a1.3 1.3 0 1 0 2.6 0a1.3 1.3 0 1 0 -2.6 0M285.3 87.4a1.3 1.3 0 1 0 2.6 0a1.3 1.3 0 1 0 -2.6 0M290.2 91.6a1.3 1.3 0 1 0 2.6 0a1.3 1.3 0 1 0 -2.6 0M303.4 79.2a1.3 1.3 0 1 0 2.6 0a1.3 1.3 0 1 0 -2.6 0M305.9 75.1a1.3 1.3 0 1 0 2.6 0a1.3 1.3 0 1 0 -2.6 0M307.5 83.3a1.3 1.3 0 1 0 2.6 0a1.3 1.3 0 1 0 -2.6 0M309.2 82.5a1.3 1.3 0 1 0 2.6 0a1.3 1.3 0 1 0 -2.6 0M310.8 80.0a1.3 1.3 0 1 0 2.6 0a1.3 1.3 0 1 0 -2.6 0M310.0 85.8a1.3 1.3 0 1 0 2.6 0a1.3 1.3 0 1 0 -2.6 0M312.4 87.4a1.3 1.3 0 1 0 2.6 0a1.3 1.3 0 1 0 -2.6 0M314.1 86.6a1.3 1.3 0 1 0 2.6 0a1.3 1.3 0 1 0 -2.6 0M313.3 82.5a1.3 1.3 0 1 0 2.6 0a1.3 1.3 0 1 0 -2.6 0M317.4 77.6a1.3 1.3 0 1 0 2.6 0a1.3 1.3 0 1 0 -2.6 0M320.7 71.0a1.3 1.3 0 1 0 2.6 0a1.3 1.3 0 1 0 -2.6 0M322.3 71.3a1.3 1.3 0 1 0 2.6 0a1.3 1.3 0 1 0 -2.6 0M319.9 80.0a1.3 1.3 0 1 0 2.6 0a1.3 1.3 0 1 0 -2.6 0M322.3 78.4a1.3 1.3 0 1 0 2.6 0a1.3 1.3 0 1 0 -2.6 0M324.0 80.0a1.3 1.3 0 1 0 2.6 0a1.3 1.3 0 1 0 -2.6 0M318.2 88.3a1.3 1.3 0 1 0 2.6 0a1.3 1.3 0 1 0 -2.6 0M321.5 89.1a1.3 1.3 0 1 0 2.6 0a1.3 1.3 0 1 0 -2.6 0M323.1 91.6a1.3 1.3 0 1 0 2.6 0a1.3 1.3 0 1 0 -2.6 0M328.1 89.1a1.3 1.3 0 1 0 2.6 0a1.3 1.3 0 1 0 -2.6 0M333.0 85.0a1.3 1.3 0 1 0 2.6 0a1.3 1.3 0 1 0 -2.6 0M334.7 86.6a1.3 1.3 0 1 0 2.6 0a1.3 1.3 0 1 0 -2.6 0M336.3 84.2a1.3 1.3 0 1 0 2.6 0a1.3 1.3 0 1 0 -2.6 0M338.0 85.8a1.3 1.3 0 1 0 2.6 0a1.3 1.3 0 1 0 -2.6 0M339.6 85.0a1.3 1.3 0 1 0 2.6 0a1.3 1.3 0 1 0 -2.6 0M341.3 87.4a1.3 1.3 0 1 0 2.6 0a1.3 1.3 0 1 0 -2.6 0M342.1 74.3a1.3 1.3 0 1 0 2.6 0a1.3 1.3 0 1 0 -2.6 0M343.7 85.8a1.3 1.3 0 1 0 2.6 0a1.3 1.3 0 1 0 -2.6 0M347.8 78.4a1.3 1.3 0 1 0 2.6 0a1.3 1.3 0 1 0 -2.6 0M347.0 83.3a1.3 1.3 0 1 0 2.6 0a1.3 1.3 0 1 0 -2.6 0M349.5 67.7a1.3 1.3 0 1 0 2.6 0a1.3 1.3 0 1 0 -2.6 0M351.1 69.3a1.3 1.3 0 1 0 2.6 0a1.3 1.3 0 1 0 -2.6 0M353.6 69.3a1.3 1.3 0 1 0 2.6 0a1.3 1.3 0 1 0 -2.6 0M352.0 88.3a1.3 1.3 0 1 0 2.6 0a1.3 1.3 0 1 0 -2.6 0M349.5 90.7a1.3 1.3 0 1 0 2.6 0a1.3 1.3 0 1 0 -2.6 0M308.3 91.6a1.3 1.3 0 1 0 2.6 0a1.3 1.3 0 1 0 -2.6 0M303.4 91.6a1.3 1.3 0 1 0 2.6 0a1.3 1.3 0 1 0 -2.6 0M292.7 97.1a1.3 1.3 0 1 0 2.6 0a1.3 1.3 0 1 0 -2.6 0M286.9 102.9a1.3 1.3 0 1 0 2.6 0a1.3 1.3 0 1 0 -2.6 0M303.4 93.8a1.3 1.3 0 1 0 2.6 0a1.3 1.3 0 1 0 -2.6 0M305.9 95.5a1.3 1.3 0 1 0 2.6 0a1.3 1.3 0 1 0 -2.6 0M309.2 93.0a1.3 1.3 0 1 0 2.6 0a1.3 1.3 0 1 0 -2.6 0M319.9 101.2a1.3 1.3 0 1 0 2.6 0a1.3 1.3 0 1 0 -2.6 0M307.5 114.4a1.3 1.3 0 1 0 2.6 0a1.3 1.3 0 1 0 -2.6 0M335.5 100.4a1.3 1.3 0 1 0 2.6 0a1.3 1.3 0 1 0 -2.6 0M333.8 105.3a1.3 1.3 0 1 0 2.6 0a1.3 1.3 0 1 0 -2.6 0M333.0 114.4a1.3 1.3 0 1 0 2.6 0a1.3 1.3 0 1 0 -2.6 0M342.9 117.7a1.3 1.3 0 1 0 2.6 0a1.3 1.3 0 1 0 -2.6 0M345.4 116.9a1.3 1.3 0 1 0 2.6 0a1.3 1.3 0 1 0 -2.6 0M348.7 95.5a1.3 1.3 0 1 0 2.6 0a1.3 1.3 0 1 0 -2.6 0M352.0 93.8a1.3 1.3 0 1 0 2.6 0a1.3 1.3 0 1 0 -2.6 0M352.8 100.4a1.3 1.3 0 1 0 2.6 0a1.3 1.3 0 1 0 -2.6 0M351.1 130.9a1.3 1.3 0 1 0 2.6 0a1.3 1.3 0 1 0 -2.6 0M286.1 122.6a1.3 1.3 0 1 0 2.6 0a1.3 1.3 0 1 0 -2.6 0M284.5 127.6a1.3 1.3 0 1 0 2.6 0a1.3 1.3 0 1 0 -2.6 0M282.8 126.7a1.3 1.3 0 1 0 2.6 0a1.3 1.3 0 1 0 -2.6 0M288.6 126.7a1.3 1.3 0 1 0 2.6 0a1.3 1.3 0 1 0 -2.6 0M293.2 123.5a1.3 1.3 0 1 0 2.6 0a1.3 1.3 0 1 0 -2.6 0M286.9 141.6a1.3 1.3 0 1 0 2.6 0a1.3 1.3 0 1 0 -2.6 0M322.3 93.0a1.3 1.3 0 1 0 2.6 0a1.3 1.3 0 1 0 -2.6 0M382.0 61.9a1.3 1.3 0 1 0 2.6 0a1.3 1.3 0 1 0 -2.6 0M393.6 69.0a1.3 1.3 0 1 0 2.6 0a1.3 1.3 0 1 0 -2.6 0M393.6 72.6a1.3 1.3 0 1 0 2.6 0a1.3 1.3 0 1 0 -2.6 0M375.5 86.6a1.3 1.3 0 1 0 2.6 0a1.3 1.3 0 1 0 -2.6 0M385.4 70.7a1.3 1.3 0 1 0 2.6 0a1.3 1.3 0 1 0 -2.6 0M384.1 75.0a1.3 1.3 0 1 0 2.6 0a1.3 1.3 0 1 0 -2.6 0M380.3 80.3a1.3 1.3 0 1 0 2.6 0a1.3 1.3 0 1 0 -2.6 0M379.2 76.0a1.3 1.3 0 1 0 2.6 0a1.3 1.3 0 1 0 -2.6 0M382.6 82.3a1.3 1.3 0 1 0 2.6 0a1.3 1.3 0 1 0 -2.6 0M378.6 80.3a1.3 1.3 0 1 0 2.6 0a1.3 1.3 0 1 0 -2.6 0M382.8 77.7a1.3 1.3 0 1 0 2.6 0a1.3 1.3 0 1 0 -2.6 0M379.3 73.9a1.3 1.3 0 1 0 2.6 0a1.3 1.3 0 1 0 -2.6 0M375.3 71.0a1.3 1.3 0 1 0 2.6 0a1.3 1.3 0 1 0 -2.6 0M375.5 79.1a1.3 1.3 0 1 0 2.6 0a1.3 1.3 0 1 0 -2.6 0M377.6 71.5a1.3 1.3 0 1 0 2.6 0a1.3 1.3 0 1 0 -2.6 0M375.6 80.4a1.3 1.3 0 1 0 2.6 0a1.3 1.3 0 1 0 -2.6 0M384.7 78.2a1.3 1.3 0 1 0 2.6 0a1.3 1.3 0 1 0 -2.6 0M377.9 72.5a1.3 1.3 0 1 0 2.6 0a1.3 1.3 0 1 0 -2.6 0M378.0 75.4a1.3 1.3 0 1 0 2.6 0a1.3 1.3 0 1 0 -2.6 0M376.5 75.2a1.3 1.3 0 1 0 2.6 0a1.3 1.3 0 1 0 -2.6 0M377.7 82.0a1.3 1.3 0 1 0 2.6 0a1.3 1.3 0 1 0 -2.6 0M385.8 76.5a1.3 1.3 0 1 0 2.6 0a1.3 1.3 0 1 0 -2.6 0M377.5 82.1a1.3 1.3 0 1 0 2.6 0a1.3 1.3 0 1 0 -2.6 0M378.2 74.0a1.3 1.3 0 1 0 2.6 0a1.3 1.3 0 1 0 -2.6 0M374.7 74.4a1.3 1.3 0 1 0 2.6 0a1.3 1.3 0 1 0 -2.6 0M380.1 76.0a1.3 1.3 0 1 0 2.6 0a1.3 1.3 0 1 0 -2.6 0M377.0 76.0a1.3 1.3 0 1 0 2.6 0a1.3 1.3 0 1 0 -2.6 0M374.7 72.8a1.3 1.3 0 1 0 2.6 0a1.3 1.3 0 1 0 -2.6 0M375.7 74.6a1.3 1.3 0 1 0 2.6 0a1.3 1.3 0 1 0 -2.6 0M373.8 94.6a1.3 1.3 0 1 0 2.6 0a1.3 1.3 0 1 0 -2.6 0M375.5 95.5a1.3 1.3 0 1 0 2.6 0a1.3 1.3 0 1 0 -2.6 0M373.8 104.5a1.3 1.3 0 1 0 2.6 0a1.3 1.3 0 1 0 -2.6 0M375.5 107.8a1.3 1.3 0 1 0 2.6 0a1.3 1.3 0 1 0 -2.6 0M393.6 108.6a1.3 1.3 0 1 0 2.6 0a1.3 1.3 0 1 0 -2.6 0M394.4 98.8a1.3 1.3 0 1 0 2.6 0a1.3 1.3 0 1 0 -2.6 0M396.0 99.6a1.3 1.3 0 1 0 2.6 0a1.3 1.3 0 1 0 -2.6 0M374.6 125.1a1.3 1.3 0 1 0 2.6 0a1.3 1.3 0 1 0 -2.6 0M466.5 55.3a1.3 1.3 0 1 0 2.6 0a1.3 1.3 0 1 0 -2.6 0M473.0 71.0a1.3 1.3 0 1 0 2.6 0a1.3 1.3 0 1 0 -2.6 0M467.3 66.0a1.3 1.3 0 1 0 2.6 0a1.3 1.3 0 1 0 -2.6 0M483.7 88.3a1.3 1.3 0 1 0 2.6 0a1.3 1.3 0 1 0 -2.6 0M467.8 74.4a1.3 1.3 0 1 0 2.6 0a1.3 1.3 0 1 0 -2.6 0M463.7 77.6a1.3 1.3 0 1 0 2.6 0a1.3 1.3 0 1 0 -2.6 0M468.7 82.8a1.3 1.3 0 1 0 2.6 0a1.3 1.3 0 1 0 -2.6 0M468.7 77.9a1.3 1.3 0 1 0 2.6 0a1.3 1.3 0 1 0 -2.6 0M467.4 80.0a1.3 1.3 0 1 0 2.6 0a1.3 1.3 0 1 0 -2.6 0M467.0 75.7a1.3 1.3 0 1 0 2.6 0a1.3 1.3 0 1 0 -2.6 0M470.5 76.7a1.3 1.3 0 1 0 2.6 0a1.3 1.3 0 1 0 -2.6 0M471.2 85.8a1.3 1.3 0 1 0 2.6 0a1.3 1.3 0 1 0 -2.6 0M463.3 79.9a1.3 1.3 0 1 0 2.6 0a1.3 1.3 0 1 0 -2.6 0M469.9 86.2a1.3 1.3 0 1 0 2.6 0a1.3 1.3 0 1 0 -2.6 0M466.9 77.6a1.3 1.3 0 1 0 2.6 0a1.3 1.3 0 1 0 -2.6 0M464.9 85.9a1.3 1.3 0 1 0 2.6 0a1.3 1.3 0 1 0 -2.6 0M464.9 81.5a1.3 1.3 0 1 0 2.6 0a1.3 1.3 0 1 0 -2.6 0M464.3 80.7a1.3 1.3 0 1 0 2.6 0a1.3 1.3 0 1 0 -2.6 0M471.0 75.9a1.3 1.3 0 1 0 2.6 0a1.3 1.3 0 1 0 -2.6 0M469.9 80.6a1.3 1.3 0 1 0 2.6 0a1.3 1.3 0 1 0 -2.6 0M470.5 83.0a1.3 1.3 0 1 0 2.6 0a1.3 1.3 0 1 0 -2.6 0M465.1 85.4a1.3 1.3 0 1 0 2.6 0a1.3 1.3 0 1 0 -2.6 0M467.2 74.6a1.3 1.3 0 1 0 2.6 0a1.3 1.3 0 1 0 -2.6 0M463.2 80.3a1.3 1.3 0 1 0 2.6 0a1.3 1.3 0 1 0 -2.6 0M466.9 78.0a1.3 1.3 0 1 0 2.6 0a1.3 1.3 0 1 0 -2.6 0M464.3 78.5a1.3 1.3 0 1 0 2.6 0a1.3 1.3 0 1 0 -2.6 0M465.8 84.6a1.3 1.3 0 1 0 2.6 0a1.3 1.3 0 1 0 -2.6 0M463.2 83.5a1.3 1.3 0 1 0 2.6 0a1.3 1.3 0 1 0 -2.6 0M470.1 75.8a1.3 1.3 0 1 0 2.6 0a1.3 1.3 0 1 0 -2.6 0M465.3 103.7a1.3 1.3 0 1 0 2.6 0a1.3 1.3 0 1 0 -2.6 0M465.3 109.1a1.3 1.3 0 1 0 2.6 0a1.3 1.3 0 1 0 -2.6 0M483.7 94.6a1.3 1.3 0 1 0 2.6 0a1.3 1.3 0 1 0 -2.6 0M554.8 69.3a1.3 1.3 0 1 0 2.6 0a1.3 1.3 0 1 0 -2.6 0M563.9 70.2a1.3 1.3 0 1 0 2.6 0a1.3 1.3 0 1 0 -2.6 0M562.2 76.7a1.3 1.3 0 1 0 2.6 0a1.3 1.3 0 1 0 -2.6 0M566.3 79.2a1.3 1.3 0 1 0 2.6 0a1.3 1.3 0 1 0 -2.6 0M575.1 76.7a1.3 1.3 0 1 0 2.6 0a1.3 1.3 0 1 0 -2.6 0M563.0 84.2a1.3 1.3 0 1 0 2.6 0a1.3 1.3 0 1 0 -2.6 0M575.4 95.0a1.3 1.3 0 1 0 2.6 0a1.3 1.3 0 1 0 -2.6 0M647.5 53.7a1.3 1.3 0 1 0 2.6 0a1.3 1.3 0 1 0 -2.6 0M654.0 66.0a1.3 1.3 0 1 0 2.6 0a1.3 1.3 0 1 0 -2.6 0M646.6 70.2a1.3 1.3 0 1 0 2.6 0a1.3 1.3 0 1 0 -2.6 0M645.8 78.4a1.3 1.3 0 1 0 2.6 0a1.3 1.3 0 1 0 -2.6 0M657.3 82.5a1.3 1.3 0 1 0 2.6 0a1.3 1.3 0 1 0 -2.6 0M647.5 86.1a1.3 1.3 0 1 0 2.6 0a1.3 1.3 0 1 0 -2.6 0M654.9 86.6a1.3 1.3 0 1 0 2.6 0a1.3 1.3 0 1 0 -2.6 0M652.4 80.0a1.3 1.3 0 1 0 2.6 0a1.3 1.3 0 1 0 -2.6 0M666.4 104.9a1.3 1.3 0 1 0 2.6 0a1.3 1.3 0 1 0 -2.6 0M667.2 96.3a1.3 1.3 0 1 0 2.6 0a1.3 1.3 0 1 0 -2.6 0M691.1 99.9a1.3 1.3 0 1 0 2.6 0a1.3 1.3 0 1 0 -2.6 0M692.7 106.2a1.3 1.3 0 1 0 2.6 0a1.3 1.3 0 1 0 -2.6 0M691.9 107.8a1.3 1.3 0 1 0 2.6 0a1.3 1.3 0 1 0 -2.6 0M677.1 100.4a1.3 1.3 0 1 0 2.6 0a1.3 1.3 0 1 0 -2.6 0M709.8 137.4a1.3 1.3 0 1 0 2.6 0a1.3 1.3 0 1 0 -2.6 0M714.0 139.0a1.3 1.3 0 1 0 2.6 0a1.3 1.3 0 1 0 -2.6 0M708.6 134.3a1.3 1.3 0 1 0 2.6 0a1.3 1.3 0 1 0 -2.6 0M715.6 137.6a1.3 1.3 0 1 0 2.6 0a1.3 1.3 0 1 0 -2.6 0M716.6 130.4a1.3 1.3 0 1 0 2.6 0a1.3 1.3 0 1 0 -2.6 0M710.4 131.1a1.3 1.3 0 1 0 2.6 0a1.3 1.3 0 1 0 -2.6 0M709.4 138.8a1.3 1.3 0 1 0 2.6 0a1.3 1.3 0 1 0 -2.6 0M713.3 138.5a1.3 1.3 0 1 0 2.6 0a1.3 1.3 0 1 0 -2.6 0M711.2 137.9a1.3 1.3 0 1 0 2.6 0a1.3 1.3 0 1 0 -2.6 0M712.0 132.4a1.3 1.3 0 1 0 2.6 0a1.3 1.3 0 1 0 -2.6 0M715.2 138.6a1.3 1.3 0 1 0 2.6 0a1.3 1.3 0 1 0 -2.6 0M708.6 135.4a1.3 1.3 0 1 0 2.6 0a1.3 1.3 0 1 0 -2.6 0M713.7 132.0a1.3 1.3 0 1 0 2.6 0a1.3 1.3 0 1 0 -2.6 0M711.2 131.3a1.3 1.3 0 1 0 2.6 0a1.3 1.3 0 1 0 -2.6 0M709.6 132.3a1.3 1.3 0 1 0 2.6 0a1.3 1.3 0 1 0 -2.6 0M713.5 135.9a1.3 1.3 0 1 0 2.6 0a1.3 1.3 0 1 0 -2.6 0M104.1 163.0a1.3 1.3 0 1 0 2.6 0a1.3 1.3 0 1 0 -2.6 0M104.1 175.6a1.3 1.3 0 1 0 2.6 0a1.3 1.3 0 1 0 -2.6 0M104.9 180.6a1.3 1.3 0 1 0 2.6 0a1.3 1.3 0 1 0 -2.6 0M110.7 181.4a1.3 1.3 0 1 0 2.6 0a1.3 1.3 0 1 0 -2.6 0M106.6 194.6a1.3 1.3 0 1 0 2.6 0a1.3 1.3 0 1 0 -2.6 0M112.3 192.1a1.3 1.3 0 1 0 2.6 0a1.3 1.3 0 1 0 -2.6 0M111.5 203.6a1.3 1.3 0 1 0 2.6 0a1.3 1.3 0 1 0 -2.6 0M102.5 208.6a1.3 1.3 0 1 0 2.6 0a1.3 1.3 0 1 0 -2.6 0M121.4 208.6a1.3 1.3 0 1 0 2.6 0a1.3 1.3 0 1 0 -2.6 0M109.4 192.0a1.3 1.3 0 1 0 2.6 0a1.3 1.3 0 1 0 -2.6 0M107.5 190.3a1.3 1.3 0 1 0 2.6 0a1.3 1.3 0 1 0 -2.6 0M112.6 204.0a1.3 1.3 0 1 0 2.6 0a1.3 1.3 0 1 0 -2.6 0M110.9 204.4a1.3 1.3 0 1 0 2.6 0a1.3 1.3 0 1 0 -2.6 0M110.0 196.4a1.3 1.3 0 1 0 2.6 0a1.3 1.3 0 1 0 -2.6 0M111.4 201.2a1.3 1.3 0 1 0 2.6 0a1.3 1.3 0 1 0 -2.6 0M112.1 200.9a1.3 1.3 0 1 0 2.6 0a1.3 1.3 0 1 0 -2.6 0M105.1 189.7a1.3 1.3 0 1 0 2.6 0a1.3 1.3 0 1 0 -2.6 0M108.1 192.8a1.3 1.3 0 1 0 2.6 0a1.3 1.3 0 1 0 -2.6 0M110.9 198.8a1.3 1.3 0 1 0 2.6 0a1.3 1.3 0 1 0 -2.6 0M109.2 195.5a1.3 1.3 0 1 0 2.6 0a1.3 1.3 0 1 0 -2.6 0M112.7 202.1a1.3 1.3 0 1 0 2.6 0a1.3 1.3 0 1 0 -2.6 0M108.5 195.0a1.3 1.3 0 1 0 2.6 0a1.3 1.3 0 1 0 -2.6 0M107.0 192.5a1.3 1.3 0 1 0 2.6 0a1.3 1.3 0 1 0 -2.6 0M109.1 198.1a1.3 1.3 0 1 0 2.6 0a1.3 1.3 0 1 0 -2.6 0M103.5 184.4a1.3 1.3 0 1 0 2.6 0a1.3 1.3 0 1 0 -2.6 0M106.4 187.6a1.3 1.3 0 1 0 2.6 0a1.3 1.3 0 1 0 -2.6 0M108.7 194.8a1.3 1.3 0 1 0 2.6 0a1.3 1.3 0 1 0 -2.6 0M105.8 187.6a1.3 1.3 0 1 0 2.6 0a1.3 1.3 0 1 0 -2.6 0M103.8 186.9a1.3 1.3 0 1 0 2.6 0a1.3 1.3 0 1 0 -2.6 0M104.2 185.2a1.3 1.3 0 1 0 2.6 0a1.3 1.3 0 1 0 -2.6 0M111.0 198.0a1.3 1.3 0 1 0 2.6 0a1.3 1.3 0 1 0 -2.6 0M103.6 185.7a1.3 1.3 0 1 0 2.6 0a1.3 1.3 0 1 0 -2.6 0M114.0 204.9a1.3 1.3 0 1 0 2.6 0a1.3 1.3 0 1 0 -2.6 0M112.9 202.6a1.3 1.3 0 1 0 2.6 0a1.3 1.3 0 1 0 -2.6 0M107.0 188.4a1.3 1.3 0 1 0 2.6 0a1.3 1.3 0 1 0 -2.6 0M113.3 203.3a1.3 1.3 0 1 0 2.6 0a1.3 1.3 0 1 0 -2.6 0M111.6 200.1a1.3 1.3 0 1 0 2.6 0a1.3 1.3 0 1 0 -2.6 0M107.3 191.0a1.3 1.3 0 1 0 2.6 0a1.3 1.3 0 1 0 -2.6 0M111.9 204.2a1.3 1.3 0 1 0 2.6 0a1.3 1.3 0 1 0 -2.6 0M103.2 187.5a1.3 1.3 0 1 0 2.6 0a1.3 1.3 0 1 0 -2.6 0M105.9 190.0a1.3 1.3 0 1 0 2.6 0a1.3 1.3 0 1 0 -2.6 0M107.6 191.1a1.3 1.3 0 1 0 2.6 0a1.3 1.3 0 1 0 -2.6 0M106.9 187.3a1.3 1.3 0 1 0 2.6 0a1.3 1.3 0 1 0 -2.6 0M101.6 219.9a1.3 1.3 0 1 0 2.6 0a1.3 1.3 0 1 0 -2.6 0M102.5 222.3a1.3 1.3 0 1 0 2.6 0a1.3 1.3 0 1 0 -2.6 0M107.4 227.3a1.3 1.3 0 1 0 2.6 0a1.3 1.3 0 1 0 -2.6 0M106.6 233.0a1.3 1.3 0 1 0 2.6 0a1.3 1.3 0 1 0 -2.6 0M121.4 217.4a1.3 1.3 0 1 0 2.6 0a1.3 1.3 0 1 0 -2.6 0M121.4 211.6a1.3 1.3 0 1 0 2.6 0a1.3 1.3 0 1 0 -2.6 0M193.5 167.9a1.3 1.3 0 1 0 2.6 0a1.3 1.3 0 1 0 -2.6 0M195.1 178.1a1.3 1.3 0 1 0 2.6 0a1.3 1.3 0 1 0 -2.6 0M193.5 181.4a1.3 1.3 0 1 0 2.6 0a1.3 1.3 0 1 0 -2.6 0M200.9 181.1a1.3 1.3 0 1 0 2.6 0a1.3 1.3 0 1 0 -2.6 0M191.8 189.6a1.3 1.3 0 1 0 2.6 0a1.3 1.3 0 1 0 -2.6 0M191.8 197.0a1.3 1.3 0 1 0 2.6 0a1.3 1.3 0 1 0 -2.6 0M192.3 198.7a1.3 1.3 0 1 0 2.6 0a1.3 1.3 0 1 0 -2.6 0M211.6 193.7a1.3 1.3 0 1 0 2.6 0a1.3 1.3 0 1 0 -2.6 0M194.3 208.6a1.3 1.3 0 1 0 2.6 0a1.3 1.3 0 1 0 -2.6 0M196.8 209.4a1.3 1.3 0 1 0 2.6 0a1.3 1.3 0 1 0 -2.6 0M211.6 207.7a1.3 1.3 0 1 0 2.6 0a1.3 1.3 0 1 0 -2.6 0M204.0 196.9a1.3 1.3 0 1 0 2.6 0a1.3 1.3 0 1 0 -2.6 0M201.7 194.7a1.3 1.3 0 1 0 2.6 0a1.3 1.3 0 1 0 -2.6 0M196.8 192.4a1.3 1.3 0 1 0 2.6 0a1.3 1.3 0 1 0 -2.6 0M197.9 197.2a1.3 1.3 0 1 0 2.6 0a1.3 1.3 0 1 0 -2.6 0M200.0 196.3a1.3 1.3 0 1 0 2.6 0a1.3 1.3 0 1 0 -2.6 0M203.4 193.2a1.3 1.3 0 1 0 2.6 0a1.3 1.3 0 1 0 -2.6 0M198.4 197.5a1.3 1.3 0 1 0 2.6 0a1.3 1.3 0 1 0 -2.6 0M196.9 192.1a1.3 1.3 0 1 0 2.6 0a1.3 1.3 0 1 0 -2.6 0M199.4 193.0a1.3 1.3 0 1 0 2.6 0a1.3 1.3 0 1 0 -2.6 0M199.4 193.9a1.3 1.3 0 1 0 2.6 0a1.3 1.3 0 1 0 -2.6 0M201.1 196.9a1.3 1.3 0 1 0 2.6 0a1.3 1.3 0 1 0 -2.6 0M198.3 197.2a1.3 1.3 0 1 0 2.6 0a1.3 1.3 0 1 0 -2.6 0M200.3 193.2a1.3 1.3 0 1 0 2.6 0a1.3 1.3 0 1 0 -2.6 0M203.7 194.1a1.3 1.3 0 1 0 2.6 0a1.3 1.3 0 1 0 -2.6 0M197.9 192.9a1.3 1.3 0 1 0 2.6 0a1.3 1.3 0 1 0 -2.6 0M201.5 199.3a1.3 1.3 0 1 0 2.6 0a1.3 1.3 0 1 0 -2.6 0M202.5 195.4a1.3 1.3 0 1 0 2.6 0a1.3 1.3 0 1 0 -2.6 0M198.7 192.2a1.3 1.3 0 1 0 2.6 0a1.3 1.3 0 1 0 -2.6 0M201.5 196.7a1.3 1.3 0 1 0 2.6 0a1.3 1.3 0 1 0 -2.6 0M199.3 197.4a1.3 1.3 0 1 0 2.6 0a1.3 1.3 0 1 0 -2.6 0M200.0 199.8a1.3 1.3 0 1 0 2.6 0a1.3 1.3 0 1 0 -2.6 0M202.2 194.1a1.3 1.3 0 1 0 2.6 0a1.3 1.3 0 1 0 -2.6 0M203.4 192.5a1.3 1.3 0 1 0 2.6 0a1.3 1.3 0 1 0 -2.6 0M200.7 195.4a1.3 1.3 0 1 0 2.6 0a1.3 1.3 0 1 0 -2.6 0M198.5 192.6a1.3 1.3 0 1 0 2.6 0a1.3 1.3 0 1 0 -2.6 0M202.5 192.2a1.3 1.3 0 1 0 2.6 0a1.3 1.3 0 1 0 -2.6 0M200.8 199.8a1.3 1.3 0 1 0 2.6 0a1.3 1.3 0 1 0 -2.6 0M197.8 193.7a1.3 1.3 0 1 0 2.6 0a1.3 1.3 0 1 0 -2.6 0M201.3 196.3a1.3 1.3 0 1 0 2.6 0a1.3 1.3 0 1 0 -2.6 0M201.5 198.8a1.3 1.3 0 1 0 2.6 0a1.3 1.3 0 1 0 -2.6 0M194.0 219.9a1.3 1.3 0 1 0 2.6 0a1.3 1.3 0 1 0 -2.6 0M194.3 221.5a1.3 1.3 0 1 0 2.6 0a1.3 1.3 0 1 0 -2.6 0M194.3 210.0a1.3 1.3 0 1 0 2.6 0a1.3 1.3 0 1 0 -2.6 0M197.6 210.0a1.3 1.3 0 1 0 2.6 0a1.3 1.3 0 1 0 -2.6 0M214.0 213.3a1.3 1.3 0 1 0 2.6 0a1.3 1.3 0 1 0 -2.6 0M283.6 172.3a1.3 1.3 0 1 0 2.6 0a1.3 1.3 0 1 0 -2.6 0M291.5 175.6a1.3 1.3 0 1 0 2.6 0a1.3 1.3 0 1 0 -2.6 0M285.3 185.5a1.3 1.3 0 1 0 2.6 0a1.3 1.3 0 1 0 -2.6 0M288.6 188.8a1.3 1.3 0 1 0 2.6 0a1.3 1.3 0 1 0 -2.6 0M291.9 189.6a1.3 1.3 0 1 0 2.6 0a1.3 1.3 0 1 0 -2.6 0M283.6 198.7a1.3 1.3 0 1 0 2.6 0a1.3 1.3 0 1 0 -2.6 0M285.3 199.5a1.3 1.3 0 1 0 2.6 0a1.3 1.3 0 1 0 -2.6 0M293.5 199.5a1.3 1.3 0 1 0 2.6 0a1.3 1.3 0 1 0 -2.6 0M283.6 203.6a1.3 1.3 0 1 0 2.6 0a1.3 1.3 0 1 0 -2.6 0M282.8 209.4a1.3 1.3 0 1 0 2.6 0a1.3 1.3 0 1 0 -2.6 0M304.2 208.6a1.3 1.3 0 1 0 2.6 0a1.3 1.3 0 1 0 -2.6 0M293.3 191.6a1.3 1.3 0 1 0 2.6 0a1.3 1.3 0 1 0 -2.6 0M290.6 193.3a1.3 1.3 0 1 0 2.6 0a1.3 1.3 0 1 0 -2.6 0M293.6 192.4a1.3 1.3 0 1 0 2.6 0a1.3 1.3 0 1 0 -2.6 0M294.7 192.7a1.3 1.3 0 1 0 2.6 0a1.3 1.3 0 1 0 -2.6 0M288.1 197.1a1.3 1.3 0 1 0 2.6 0a1.3 1.3 0 1 0 -2.6 0M290.6 190.8a1.3 1.3 0 1 0 2.6 0a1.3 1.3 0 1 0 -2.6 0M291.9 190.5a1.3 1.3 0 1 0 2.6 0a1.3 1.3 0 1 0 -2.6 0M293.2 197.1a1.3 1.3 0 1 0 2.6 0a1.3 1.3 0 1 0 -2.6 0M293.2 196.3a1.3 1.3 0 1 0 2.6 0a1.3 1.3 0 1 0 -2.6 0M289.3 193.9a1.3 1.3 0 1 0 2.6 0a1.3 1.3 0 1 0 -2.6 0M289.7 199.2a1.3 1.3 0 1 0 2.6 0a1.3 1.3 0 1 0 -2.6 0M286.9 199.1a1.3 1.3 0 1 0 2.6 0a1.3 1.3 0 1 0 -2.6 0M286.3 191.8a1.3 1.3 0 1 0 2.6 0a1.3 1.3 0 1 0 -2.6 0M288.5 199.3a1.3 1.3 0 1 0 2.6 0a1.3 1.3 0 1 0 -2.6 0M290.6 193.7a1.3 1.3 0 1 0 2.6 0a1.3 1.3 0 1 0 -2.6 0M283.6 214.1a1.3 1.3 0 1 0 2.6 0a1.3 1.3 0 1 0 -2.6 0M302.6 211.6a1.3 1.3 0 1 0 2.6 0a1.3 1.3 0 1 0 -2.6 0M383.7 163.3a1.3 1.3 0 1 0 2.6 0a1.3 1.3 0 1 0 -2.6 0M382.0 173.2a1.3 1.3 0 1 0 2.6 0a1.3 1.3 0 1 0 -2.6 0M382.0 174.8a1.3 1.3 0 1 0 2.6 0a1.3 1.3 0 1 0 -2.6 0M381.6 182.2a1.3 1.3 0 1 0 2.6 0a1.3 1.3 0 1 0 -2.6 0M383.7 190.5a1.3 1.3 0 1 0 2.6 0a1.3 1.3 0 1 0 -2.6 0M377.6 195.4a1.3 1.3 0 1 0 2.6 0a1.3 1.3 0 1 0 -2.6 0M376.6 199.2a1.3 1.3 0 1 0 2.6 0a1.3 1.3 0 1 0 -2.6 0M405.9 174.8a1.3 1.3 0 1 0 2.6 0a1.3 1.3 0 1 0 -2.6 0M406.7 167.4a1.3 1.3 0 1 0 2.6 0a1.3 1.3 0 1 0 -2.6 0M396.0 177.3a1.3 1.3 0 1 0 2.6 0a1.3 1.3 0 1 0 -2.6 0M403.4 179.8a1.3 1.3 0 1 0 2.6 0a1.3 1.3 0 1 0 -2.6 0M411.7 205.3a1.3 1.3 0 1 0 2.6 0a1.3 1.3 0 1 0 -2.6 0M407.6 207.7a1.3 1.3 0 1 0 2.6 0a1.3 1.3 0 1 0 -2.6 0M400.4 167.2a1.3 1.3 0 1 0 2.6 0a1.3 1.3 0 1 0 -2.6 0M399.9 170.3a1.3 1.3 0 1 0 2.6 0a1.3 1.3 0 1 0 -2.6 0M399.8 165.9a1.3 1.3 0 1 0 2.6 0a1.3 1.3 0 1 0 -2.6 0M398.6 168.6a1.3 1.3 0 1 0 2.6 0a1.3 1.3 0 1 0 -2.6 0M399.4 171.0a1.3 1.3 0 1 0 2.6 0a1.3 1.3 0 1 0 -2.6 0M401.7 175.4a1.3 1.3 0 1 0 2.6 0a1.3 1.3 0 1 0 -2.6 0M409.9 176.3a1.3 1.3 0 1 0 2.6 0a1.3 1.3 0 1 0 -2.6 0M408.0 175.1a1.3 1.3 0 1 0 2.6 0a1.3 1.3 0 1 0 -2.6 0M406.5 174.7a1.3 1.3 0 1 0 2.6 0a1.3 1.3 0 1 0 -2.6 0M396.9 162.7a1.3 1.3 0 1 0 2.6 0a1.3 1.3 0 1 0 -2.6 0M375.5 225.6a1.3 1.3 0 1 0 2.6 0a1.3 1.3 0 1 0 -2.6 0M473.0 180.6a1.3 1.3 0 1 0 2.6 0a1.3 1.3 0 1 0 -2.6 0M475.2 182.2a1.3 1.3 0 1 0 2.6 0a1.3 1.3 0 1 0 -2.6 0M473.0 185.5a1.3 1.3 0 1 0 2.6 0a1.3 1.3 0 1 0 -2.6 0M473.9 188.8a1.3 1.3 0 1 0 2.6 0a1.3 1.3 0 1 0 -2.6 0M474.7 191.3a1.3 1.3 0 1 0 2.6 0a1.3 1.3 0 1 0 -2.6 0M473.5 195.4a1.3 1.3 0 1 0 2.6 0a1.3 1.3 0 1 0 -2.6 0M475.5 195.4a1.3 1.3 0 1 0 2.6 0a1.3 1.3 0 1 0 -2.6 0M475.8 197.5a1.3 1.3 0 1 0 2.6 0a1.3 1.3 0 1 0 -2.6 0M472.6 199.8a1.3 1.3 0 1 0 2.6 0a1.3 1.3 0 1 0 -2.6 0M510.1 180.9a1.3 1.3 0 1 0 2.6 0a1.3 1.3 0 1 0 -2.6 0M472.2 217.4a1.3 1.3 0 1 0 2.6 0a1.3 1.3 0 1 0 -2.6 0M486.2 224.0a1.3 1.3 0 1 0 2.6 0a1.3 1.3 0 1 0 -2.6 0M490.0 225.6a1.3 1.3 0 1 0 2.6 0a1.3 1.3 0 1 0 -2.6 0M488.7 232.2a1.3 1.3 0 1 0 2.6 0a1.3 1.3 0 1 0 -2.6 0M487.4 239.6a1.3 1.3 0 1 0 2.6 0a1.3 1.3 0 1 0 -2.6 0M496.9 226.5a1.3 1.3 0 1 0 2.6 0a1.3 1.3 0 1 0 -2.6 0M496.1 228.9a1.3 1.3 0 1 0 2.6 0a1.3 1.3 0 1 0 -2.6 0M498.6 230.6a1.3 1.3 0 1 0 2.6 0a1.3 1.3 0 1 0 -2.6 0M503.5 228.9a1.3 1.3 0 1 0 2.6 0a1.3 1.3 0 1 0 -2.6 0M501.8 230.8a1.3 1.3 0 1 0 2.6 0a1.3 1.3 0 1 0 -2.6 0M501.5 230.7a1.3 1.3 0 1 0 2.6 0a1.3 1.3 0 1 0 -2.6 0M498.0 230.6a1.3 1.3 0 1 0 2.6 0a1.3 1.3 0 1 0 -2.6 0M500.2 231.3a1.3 1.3 0 1 0 2.6 0a1.3 1.3 0 1 0 -2.6 0M497.0 227.0a1.3 1.3 0 1 0 2.6 0a1.3 1.3 0 1 0 -2.6 0M496.4 231.4a1.3 1.3 0 1 0 2.6 0a1.3 1.3 0 1 0 -2.6 0M504.4 230.5a1.3 1.3 0 1 0 2.6 0a1.3 1.3 0 1 0 -2.6 0M499.4 231.7a1.3 1.3 0 1 0 2.6 0a1.3 1.3 0 1 0 -2.6 0M503.2 229.8a1.3 1.3 0 1 0 2.6 0a1.3 1.3 0 1 0 -2.6 0M498.4 227.9a1.3 1.3 0 1 0 2.6 0a1.3 1.3 0 1 0 -2.6 0M563.5 173.2a1.3 1.3 0 1 0 2.6 0a1.3 1.3 0 1 0 -2.6 0M556.5 176.5a1.3 1.3 0 1 0 2.6 0a1.3 1.3 0 1 0 -2.6 0M555.3 186.3a1.3 1.3 0 1 0 2.6 0a1.3 1.3 0 1 0 -2.6 0M558.1 189.6a1.3 1.3 0 1 0 2.6 0a1.3 1.3 0 1 0 -2.6 0M564.7 191.3a1.3 1.3 0 1 0 2.6 0a1.3 1.3 0 1 0 -2.6 0M555.3 195.4a1.3 1.3 0 1 0 2.6 0a1.3 1.3 0 1 0 -2.6 0M557.3 197.9a1.3 1.3 0 1 0 2.6 0a1.3 1.3 0 1 0 -2.6 0M556.5 207.7a1.3 1.3 0 1 0 2.6 0a1.3 1.3 0 1 0 -2.6 0M564.2 195.7a1.3 1.3 0 1 0 2.6 0a1.3 1.3 0 1 0 -2.6 0M560.0 192.6a1.3 1.3 0 1 0 2.6 0a1.3 1.3 0 1 0 -2.6 0M564.9 200.5a1.3 1.3 0 1 0 2.6 0a1.3 1.3 0 1 0 -2.6 0M562.3 190.1a1.3 1.3 0 1 0 2.6 0a1.3 1.3 0 1 0 -2.6 0M565.4 200.2a1.3 1.3 0 1 0 2.6 0a1.3 1.3 0 1 0 -2.6 0M560.2 197.4a1.3 1.3 0 1 0 2.6 0a1.3 1.3 0 1 0 -2.6 0M566.2 201.9a1.3 1.3 0 1 0 2.6 0a1.3 1.3 0 1 0 -2.6 0M562.8 195.9a1.3 1.3 0 1 0 2.6 0a1.3 1.3 0 1 0 -2.6 0M563.4 191.6a1.3 1.3 0 1 0 2.6 0a1.3 1.3 0 1 0 -2.6 0M559.8 191.5a1.3 1.3 0 1 0 2.6 0a1.3 1.3 0 1 0 -2.6 0M564.5 194.2a1.3 1.3 0 1 0 2.6 0a1.3 1.3 0 1 0 -2.6 0M563.2 194.8a1.3 1.3 0 1 0 2.6 0a1.3 1.3 0 1 0 -2.6 0M562.8 191.0a1.3 1.3 0 1 0 2.6 0a1.3 1.3 0 1 0 -2.6 0M558.5 203.6a1.3 1.3 0 1 0 2.6 0a1.3 1.3 0 1 0 -2.6 0M561.5 190.4a1.3 1.3 0 1 0 2.6 0a1.3 1.3 0 1 0 -2.6 0M576.7 208.7a1.3 1.3 0 1 0 2.6 0a1.3 1.3 0 1 0 -2.6 0M575.1 208.1a1.3 1.3 0 1 0 2.6 0a1.3 1.3 0 1 0 -2.6 0M575.7 207.8a1.3 1.3 0 1 0 2.6 0a1.3 1.3 0 1 0 -2.6 0M574.6 206.2a1.3 1.3 0 1 0 2.6 0a1.3 1.3 0 1 0 -2.6 0M577.8 208.9a1.3 1.3 0 1 0 2.6 0a1.3 1.3 0 1 0 -2.6 0M557.0 218.6a1.3 1.3 0 1 0 2.6 0a1.3 1.3 0 1 0 -2.6 0M575.1 219.9a1.3 1.3 0 1 0 2.6 0a1.3 1.3 0 1 0 -2.6 0M555.6 210.5a1.3 1.3 0 1 0 2.6 0a1.3 1.3 0 1 0 -2.6 0M128.9 99.1a1.3 1.3 0 1 0 2.6 0a1.3 1.3 0 1 0 -2.6 0M130.2 100.7a1.3 1.3 0 1 0 2.6 0a1.3 1.3 0 1 0 -2.6 0M127.4 97.8a1.3 1.3 0 1 0 2.6 0a1.3 1.3 0 1 0 -2.6 0M132.0 102.5a1.3 1.3 0 1 0 2.6 0a1.3 1.3 0 1 0 -2.6 0M126.0 96.4a1.3 1.3 0 1 0 2.6 0a1.3 1.3 0 1 0 -2.6 0M126.4 96.4a1.3 1.3 0 1 0 2.6 0a1.3 1.3 0 1 0 -2.6 0M134.5 104.6a1.3 1.3 0 1 0 2.6 0a1.3 1.3 0 1 0 -2.6 0M133.2 104.8a1.3 1.3 0 1 0 2.6 0a1.3 1.3 0 1 0 -2.6 0M134.0 104.4a1.3 1.3 0 1 0 2.6 0a1.3 1.3 0 1 0 -2.6 0M126.4 97.5a1.3 1.3 0 1 0 2.6 0a1.3 1.3 0 1 0 -2.6 0M134.4 104.8a1.3 1.3 0 1 0 2.6 0a1.3 1.3 0 1 0 -2.6 0M138.7 107.4a1.3 1.3 0 1 0 2.6 0a1.3 1.3 0 1 0 -2.6 0M137.4 107.3a1.3 1.3 0 1 0 2.6 0a1.3 1.3 0 1 0 -2.6 0M139.8 108.5a1.3 1.3 0 1 0 2.6 0a1.3 1.3 0 1 0 -2.6 0M136.2 106.0a1.3 1.3 0 1 0 2.6 0a1.3 1.3 0 1 0 -2.6 0M139.9 109.5a1.3 1.3 0 1 0 2.6 0a1.3 1.3 0 1 0 -2.6 0M138.5 108.9a1.3 1.3 0 1 0 2.6 0a1.3 1.3 0 1 0 -2.6 0M136.5 107.3a1.3 1.3 0 1 0 2.6 0a1.3 1.3 0 1 0 -2.6 0M137.9 107.7a1.3 1.3 0 1 0 2.6 0a1.3 1.3 0 1 0 -2.6 0M146.6 115.9a1.3 1.3 0 1 0 2.6 0a1.3 1.3 0 1 0 -2.6 0M143.7 113.1a1.3 1.3 0 1 0 2.6 0a1.3 1.3 0 1 0 -2.6 0M143.4 113.2a1.3 1.3 0 1 0 2.6 0a1.3 1.3 0 1 0 -2.6 0M146.5 116.8a1.3 1.3 0 1 0 2.6 0a1.3 1.3 0 1 0 -2.6 0M141.6 112.1a1.3 1.3 0 1 0 2.6 0a1.3 1.3 0 1 0 -2.6 0M147.3 115.8a1.3 1.3 0 1 0 2.6 0a1.3 1.3 0 1 0 -2.6 0M144.9 113.5a1.3 1.3 0 1 0 2.6 0a1.3 1.3 0 1 0 -2.6 0M149.8 117.8a1.3 1.3 0 1 0 2.6 0a1.3 1.3 0 1 0 -2.6 0M150.2 118.5a1.3 1.3 0 1 0 2.6 0a1.3 1.3 0 1 0 -2.6 0M154.2 122.1a1.3 1.3 0 1 0 2.6 0a1.3 1.3 0 1 0 -2.6 0M148.5 116.9a1.3 1.3 0 1 0 2.6 0a1.3 1.3 0 1 0 -2.6 0M149.8 118.0a1.3 1.3 0 1 0 2.6 0a1.3 1.3 0 1 0 -2.6 0M153.0 119.8a1.3 1.3 0 1 0 2.6 0a1.3 1.3 0 1 0 -2.6 0M149.8 118.0a1.3 1.3 0 1 0 2.6 0a1.3 1.3 0 1 0 -2.6 0M160.6 123.1a1.3 1.3 0 1 0 2.6 0a1.3 1.3 0 1 0 -2.6 0M157.3 122.0a1.3 1.3 0 1 0 2.6 0a1.3 1.3 0 1 0 -2.6 0M160.8 123.2a1.3 1.3 0 1 0 2.6 0a1.3 1.3 0 1 0 -2.6 0M158.6 122.7a1.3 1.3 0 1 0 2.6 0a1.3 1.3 0 1 0 -2.6 0M161.2 123.9a1.3 1.3 0 1 0 2.6 0a1.3 1.3 0 1 0 -2.6 0M156.5 121.5a1.3 1.3 0 1 0 2.6 0a1.3 1.3 0 1 0 -2.6 0M163.3 124.0a1.3 1.3 0 1 0 2.6 0a1.3 1.3 0 1 0 -2.6 0M167.5 125.8a1.3 1.3 0 1 0 2.6 0a1.3 1.3 0 1 0 -2.6 0M162.7 123.5a1.3 1.3 0 1 0 2.6 0a1.3 1.3 0 1 0 -2.6 0M162.8 123.4a1.3 1.3 0 1 0 2.6 0a1.3 1.3 0 1 0 -2.6 0M164.1 124.0a1.3 1.3 0 1 0 2.6 0a1.3 1.3 0 1 0 -2.6 0M163.7 123.6a1.3 1.3 0 1 0 2.6 0a1.3 1.3 0 1 0 -2.6 0M171.9 128.0a1.3 1.3 0 1 0 2.6 0a1.3 1.3 0 1 0 -2.6 0M170.8 127.9a1.3 1.3 0 1 0 2.6 0a1.3 1.3 0 1 0 -2.6 0M171.2 128.4a1.3 1.3 0 1 0 2.6 0a1.3 1.3 0 1 0 -2.6 0M214.1 95.7a1.3 1.3 0 1 0 2.6 0a1.3 1.3 0 1 0 -2.6 0M216.1 96.3a1.3 1.3 0 1 0 2.6 0a1.3 1.3 0 1 0 -2.6 0M218.8 97.5a1.3 1.3 0 1 0 2.6 0a1.3 1.3 0 1 0 -2.6 0M215.9 96.4a1.3 1.3 0 1 0 2.6 0a1.3 1.3 0 1 0 -2.6 0M215.0 96.7a1.3 1.3 0 1 0 2.6 0a1.3 1.3 0 1 0 -2.6 0M214.3 95.9a1.3 1.3 0 1 0 2.6 0a1.3 1.3 0 1 0 -2.6 0M223.4 102.9a1.3 1.3 0 1 0 2.6 0a1.3 1.3 0 1 0 -2.6 0M225.7 105.1a1.3 1.3 0 1 0 2.6 0a1.3 1.3 0 1 0 -2.6 0M222.9 101.6a1.3 1.3 0 1 0 2.6 0a1.3 1.3 0 1 0 -2.6 0M222.6 102.2a1.3 1.3 0 1 0 2.6 0a1.3 1.3 0 1 0 -2.6 0M220.1 99.2a1.3 1.3 0 1 0 2.6 0a1.3 1.3 0 1 0 -2.6 0M221.2 100.2a1.3 1.3 0 1 0 2.6 0a1.3 1.3 0 1 0 -2.6 0M222.2 100.8a1.3 1.3 0 1 0 2.6 0a1.3 1.3 0 1 0 -2.6 0M219.6 98.9a1.3 1.3 0 1 0 2.6 0a1.3 1.3 0 1 0 -2.6 0M222.8 102.1a1.3 1.3 0 1 0 2.6 0a1.3 1.3 0 1 0 -2.6 0M230.7 108.4a1.3 1.3 0 1 0 2.6 0a1.3 1.3 0 1 0 -2.6 0M230.8 109.6a1.3 1.3 0 1 0 2.6 0a1.3 1.3 0 1 0 -2.6 0M229.1 108.7a1.3 1.3 0 1 0 2.6 0a1.3 1.3 0 1 0 -2.6 0M230.5 108.4a1.3 1.3 0 1 0 2.6 0a1.3 1.3 0 1 0 -2.6 0M228.8 106.9a1.3 1.3 0 1 0 2.6 0a1.3 1.3 0 1 0 -2.6 0M227.9 106.8a1.3 1.3 0 1 0 2.6 0a1.3 1.3 0 1 0 -2.6 0M228.6 108.1a1.3 1.3 0 1 0 2.6 0a1.3 1.3 0 1 0 -2.6 0M230.1 109.3a1.3 1.3 0 1 0 2.6 0a1.3 1.3 0 1 0 -2.6 0M239.1 116.4a1.3 1.3 0 1 0 2.6 0a1.3 1.3 0 1 0 -2.6 0M235.3 112.6a1.3 1.3 0 1 0 2.6 0a1.3 1.3 0 1 0 -2.6 0M235.4 113.1a1.3 1.3 0 1 0 2.6 0a1.3 1.3 0 1 0 -2.6 0M240.1 116.8a1.3 1.3 0 1 0 2.6 0a1.3 1.3 0 1 0 -2.6 0M233.9 113.2a1.3 1.3 0 1 0 2.6 0a1.3 1.3 0 1 0 -2.6 0M233.6 112.4a1.3 1.3 0 1 0 2.6 0a1.3 1.3 0 1 0 -2.6 0M234.1 111.7a1.3 1.3 0 1 0 2.6 0a1.3 1.3 0 1 0 -2.6 0M243.2 118.3a1.3 1.3 0 1 0 2.6 0a1.3 1.3 0 1 0 -2.6 0M240.6 117.9a1.3 1.3 0 1 0 2.6 0a1.3 1.3 0 1 0 -2.6 0M241.2 118.8a1.3 1.3 0 1 0 2.6 0a1.3 1.3 0 1 0 -2.6 0M241.2 117.7a1.3 1.3 0 1 0 2.6 0a1.3 1.3 0 1 0 -2.6 0M242.6 118.3a1.3 1.3 0 1 0 2.6 0a1.3 1.3 0 1 0 -2.6 0M244.0 120.5a1.3 1.3 0 1 0 2.6 0a1.3 1.3 0 1 0 -2.6 0M245.9 121.3a1.3 1.3 0 1 0 2.6 0a1.3 1.3 0 1 0 -2.6 0M252.6 124.4a1.3 1.3 0 1 0 2.6 0a1.3 1.3 0 1 0 -2.6 0M252.4 125.0a1.3 1.3 0 1 0 2.6 0a1.3 1.3 0 1 0 -2.6 0M253.0 124.6a1.3 1.3 0 1 0 2.6 0a1.3 1.3 0 1 0 -2.6 0M252.0 125.0a1.3 1.3 0 1 0 2.6 0a1.3 1.3 0 1 0 -2.6 0M253.4 125.3a1.3 1.3 0 1 0 2.6 0a1.3 1.3 0 1 0 -2.6 0M247.1 121.9a1.3 1.3 0 1 0 2.6 0a1.3 1.3 0 1 0 -2.6 0M251.0 123.3a1.3 1.3 0 1 0 2.6 0a1.3 1.3 0 1 0 -2.6 0M261.1 127.2a1.3 1.3 0 1 0 2.6 0a1.3 1.3 0 1 0 -2.6 0M259.8 127.1a1.3 1.3 0 1 0 2.6 0a1.3 1.3 0 1 0 -2.6 0M260.5 127.1a1.3 1.3 0 1 0 2.6 0a1.3 1.3 0 1 0 -2.6 0M257.5 126.5a1.3 1.3 0 1 0 2.6 0a1.3 1.3 0 1 0 -2.6 0M257.5 126.7a1.3 1.3 0 1 0 2.6 0a1.3 1.3 0 1 0 -2.6 0M257.1 126.3a1.3 1.3 0 1 0 2.6 0a1.3 1.3 0 1 0 -2.6 0M395.6 97.5a1.3 1.3 0 1 0 2.6 0a1.3 1.3 0 1 0 -2.6 0M398.4 95.8a1.3 1.3 0 1 0 2.6 0a1.3 1.3 0 1 0 -2.6 0M396.9 96.5a1.3 1.3 0 1 0 2.6 0a1.3 1.3 0 1 0 -2.6 0M404.9 102.3a1.3 1.3 0 1 0 2.6 0a1.3 1.3 0 1 0 -2.6 0M407.7 105.2a1.3 1.3 0 1 0 2.6 0a1.3 1.3 0 1 0 -2.6 0M407.4 104.1a1.3 1.3 0 1 0 2.6 0a1.3 1.3 0 1 0 -2.6 0M406.1 104.8a1.3 1.3 0 1 0 2.6 0a1.3 1.3 0 1 0 -2.6 0M402.6 98.8a1.3 1.3 0 1 0 2.6 0a1.3 1.3 0 1 0 -2.6 0M404.2 100.6a1.3 1.3 0 1 0 2.6 0a1.3 1.3 0 1 0 -2.6 0M408.0 105.3a1.3 1.3 0 1 0 2.6 0a1.3 1.3 0 1 0 -2.6 0M405.5 103.6a1.3 1.3 0 1 0 2.6 0a1.3 1.3 0 1 0 -2.6 0M401.4 98.5a1.3 1.3 0 1 0 2.6 0a1.3 1.3 0 1 0 -2.6 0M402.9 101.8a1.3 1.3 0 1 0 2.6 0a1.3 1.3 0 1 0 -2.6 0M406.5 103.9a1.3 1.3 0 1 0 2.6 0a1.3 1.3 0 1 0 -2.6 0M411.3 108.5a1.3 1.3 0 1 0 2.6 0a1.3 1.3 0 1 0 -2.6 0M409.8 107.3a1.3 1.3 0 1 0 2.6 0a1.3 1.3 0 1 0 -2.6 0M413.2 109.6a1.3 1.3 0 1 0 2.6 0a1.3 1.3 0 1 0 -2.6 0M409.8 106.1a1.3 1.3 0 1 0 2.6 0a1.3 1.3 0 1 0 -2.6 0M411.9 108.5a1.3 1.3 0 1 0 2.6 0a1.3 1.3 0 1 0 -2.6 0M408.6 106.7a1.3 1.3 0 1 0 2.6 0a1.3 1.3 0 1 0 -2.6 0M411.0 108.7a1.3 1.3 0 1 0 2.6 0a1.3 1.3 0 1 0 -2.6 0M410.4 107.6a1.3 1.3 0 1 0 2.6 0a1.3 1.3 0 1 0 -2.6 0M410.2 107.7a1.3 1.3 0 1 0 2.6 0a1.3 1.3 0 1 0 -2.6 0M417.2 112.9a1.3 1.3 0 1 0 2.6 0a1.3 1.3 0 1 0 -2.6 0M417.9 113.5a1.3 1.3 0 1 0 2.6 0a1.3 1.3 0 1 0 -2.6 0M420.4 117.3a1.3 1.3 0 1 0 2.6 0a1.3 1.3 0 1 0 -2.6 0M421.1 118.0a1.3 1.3 0 1 0 2.6 0a1.3 1.3 0 1 0 -2.6 0M418.2 113.0a1.3 1.3 0 1 0 2.6 0a1.3 1.3 0 1 0 -2.6 0M420.9 117.9a1.3 1.3 0 1 0 2.6 0a1.3 1.3 0 1 0 -2.6 0M418.0 113.4a1.3 1.3 0 1 0 2.6 0a1.3 1.3 0 1 0 -2.6 0M424.9 122.0a1.3 1.3 0 1 0 2.6 0a1.3 1.3 0 1 0 -2.6 0M429.9 125.9a1.3 1.3 0 1 0 2.6 0a1.3 1.3 0 1 0 -2.6 0M425.6 123.3a1.3 1.3 0 1 0 2.6 0a1.3 1.3 0 1 0 -2.6 0M424.3 120.2a1.3 1.3 0 1 0 2.6 0a1.3 1.3 0 1 0 -2.6 0M428.0 123.9a1.3 1.3 0 1 0 2.6 0a1.3 1.3 0 1 0 -2.6 0M424.0 121.1a1.3 1.3 0 1 0 2.6 0a1.3 1.3 0 1 0 -2.6 0M425.5 121.1a1.3 1.3 0 1 0 2.6 0a1.3 1.3 0 1 0 -2.6 0M424.4 120.4a1.3 1.3 0 1 0 2.6 0a1.3 1.3 0 1 0 -2.6 0M429.6 124.9a1.3 1.3 0 1 0 2.6 0a1.3 1.3 0 1 0 -2.6 0M432.0 126.3a1.3 1.3 0 1 0 2.6 0a1.3 1.3 0 1 0 -2.6 0M433.1 127.7a1.3 1.3 0 1 0 2.6 0a1.3 1.3 0 1 0 -2.6 0M438.1 130.6a1.3 1.3 0 1 0 2.6 0a1.3 1.3 0 1 0 -2.6 0M435.6 130.1a1.3 1.3 0 1 0 2.6 0a1.3 1.3 0 1 0 -2.6 0M433.5 127.9a1.3 1.3 0 1 0 2.6 0a1.3 1.3 0 1 0 -2.6 0M432.1 127.3a1.3 1.3 0 1 0 2.6 0a1.3 1.3 0 1 0 -2.6 0M438.8 131.3a1.3 1.3 0 1 0 2.6 0a1.3 1.3 0 1 0 -2.6 0M431.2 127.3a1.3 1.3 0 1 0 2.6 0a1.3 1.3 0 1 0 -2.6 0M436.1 129.3a1.3 1.3 0 1 0 2.6 0a1.3 1.3 0 1 0 -2.6 0M433.1 128.3a1.3 1.3 0 1 0 2.6 0a1.3 1.3 0 1 0 -2.6 0M440.2 132.3a1.3 1.3 0 1 0 2.6 0a1.3 1.3 0 1 0 -2.6 0M440.5 132.8a1.3 1.3 0 1 0 2.6 0a1.3 1.3 0 1 0 -2.6 0M442.5 132.0a1.3 1.3 0 1 0 2.6 0a1.3 1.3 0 1 0 -2.6 0M588.5 105.6a1.3 1.3 0 1 0 2.6 0a1.3 1.3 0 1 0 -2.6 0M586.7 102.8a1.3 1.3 0 1 0 2.6 0a1.3 1.3 0 1 0 -2.6 0M576.2 92.6a1.3 1.3 0 1 0 2.6 0a1.3 1.3 0 1 0 -2.6 0M579.7 95.6a1.3 1.3 0 1 0 2.6 0a1.3 1.3 0 1 0 -2.6 0M582.8 100.1a1.3 1.3 0 1 0 2.6 0a1.3 1.3 0 1 0 -2.6 0M584.4 100.6a1.3 1.3 0 1 0 2.6 0a1.3 1.3 0 1 0 -2.6 0M579.7 95.6a1.3 1.3 0 1 0 2.6 0a1.3 1.3 0 1 0 -2.6 0M574.9 93.0a1.3 1.3 0 1 0 2.6 0a1.3 1.3 0 1 0 -2.6 0M577.9 94.4a1.3 1.3 0 1 0 2.6 0a1.3 1.3 0 1 0 -2.6 0M576.6 92.8a1.3 1.3 0 1 0 2.6 0a1.3 1.3 0 1 0 -2.6 0M584.8 100.6a1.3 1.3 0 1 0 2.6 0a1.3 1.3 0 1 0 -2.6 0M580.7 98.0a1.3 1.3 0 1 0 2.6 0a1.3 1.3 0 1 0 -2.6 0M582.9 98.8a1.3 1.3 0 1 0 2.6 0a1.3 1.3 0 1 0 -2.6 0M576.9 93.4a1.3 1.3 0 1 0 2.6 0a1.3 1.3 0 1 0 -2.6 0M577.3 94.8a1.3 1.3 0 1 0 2.6 0a1.3 1.3 0 1 0 -2.6 0M577.0 93.2a1.3 1.3 0 1 0 2.6 0a1.3 1.3 0 1 0 -2.6 0M587.3 103.6a1.3 1.3 0 1 0 2.6 0a1.3 1.3 0 1 0 -2.6 0M598.6 113.9a1.3 1.3 0 1 0 2.6 0a1.3 1.3 0 1 0 -2.6 0M594.2 108.9a1.3 1.3 0 1 0 2.6 0a1.3 1.3 0 1 0 -2.6 0M593.3 109.0a1.3 1.3 0 1 0 2.6 0a1.3 1.3 0 1 0 -2.6 0M599.2 114.7a1.3 1.3 0 1 0 2.6 0a1.3 1.3 0 1 0 -2.6 0M599.5 114.9a1.3 1.3 0 1 0 2.6 0a1.3 1.3 0 1 0 -2.6 0M590.8 106.6a1.3 1.3 0 1 0 2.6 0a1.3 1.3 0 1 0 -2.6 0M597.1 112.4a1.3 1.3 0 1 0 2.6 0a1.3 1.3 0 1 0 -2.6 0M605.1 118.3a1.3 1.3 0 1 0 2.6 0a1.3 1.3 0 1 0 -2.6 0M602.9 117.1a1.3 1.3 0 1 0 2.6 0a1.3 1.3 0 1 0 -2.6 0M590.8 107.9a1.3 1.3 0 1 0 2.6 0a1.3 1.3 0 1 0 -2.6 0M591.1 107.0a1.3 1.3 0 1 0 2.6 0a1.3 1.3 0 1 0 -2.6 0M604.2 118.2a1.3 1.3 0 1 0 2.6 0a1.3 1.3 0 1 0 -2.6 0M606.3 120.5a1.3 1.3 0 1 0 2.6 0a1.3 1.3 0 1 0 -2.6 0M599.3 114.3a1.3 1.3 0 1 0 2.6 0a1.3 1.3 0 1 0 -2.6 0M603.3 117.3a1.3 1.3 0 1 0 2.6 0a1.3 1.3 0 1 0 -2.6 0M590.3 106.4a1.3 1.3 0 1 0 2.6 0a1.3 1.3 0 1 0 -2.6 0M589.3 106.1a1.3 1.3 0 1 0 2.6 0a1.3 1.3 0 1 0 -2.6 0M599.8 114.8a1.3 1.3 0 1 0 2.6 0a1.3 1.3 0 1 0 -2.6 0M601.6 116.8a1.3 1.3 0 1 0 2.6 0a1.3 1.3 0 1 0 -2.6 0M596.5 112.5a1.3 1.3 0 1 0 2.6 0a1.3 1.3 0 1 0 -2.6 0M605.1 118.7a1.3 1.3 0 1 0 2.6 0a1.3 1.3 0 1 0 -2.6 0M616.6 129.5a1.3 1.3 0 1 0 2.6 0a1.3 1.3 0 1 0 -2.6 0M610.4 123.0a1.3 1.3 0 1 0 2.6 0a1.3 1.3 0 1 0 -2.6 0M620.6 131.1a1.3 1.3 0 1 0 2.6 0a1.3 1.3 0 1 0 -2.6 0M618.8 131.1a1.3 1.3 0 1 0 2.6 0a1.3 1.3 0 1 0 -2.6 0M621.6 132.8a1.3 1.3 0 1 0 2.6 0a1.3 1.3 0 1 0 -2.6 0M620.0 131.6a1.3 1.3 0 1 0 2.6 0a1.3 1.3 0 1 0 -2.6 0M624.0 134.3a1.3 1.3 0 1 0 2.6 0a1.3 1.3 0 1 0 -2.6 0M617.9 129.3a1.3 1.3 0 1 0 2.6 0a1.3 1.3 0 1 0 -2.6 0M609.4 121.7a1.3 1.3 0 1 0 2.6 0a1.3 1.3 0 1 0 -2.6 0M609.3 122.4a1.3 1.3 0 1 0 2.6 0a1.3 1.3 0 1 0 -2.6 0M623.7 133.8a1.3 1.3 0 1 0 2.6 0a1.3 1.3 0 1 0 -2.6 0M610.7 123.4a1.3 1.3 0 1 0 2.6 0a1.3 1.3 0 1 0 -2.6 0M614.8 127.5a1.3 1.3 0 1 0 2.6 0a1.3 1.3 0 1 0 -2.6 0M609.5 122.2a1.3 1.3 0 1 0 2.6 0a1.3 1.3 0 1 0 -2.6 0M607.1 121.8a1.3 1.3 0 1 0 2.6 0a1.3 1.3 0 1 0 -2.6 0M610.1 124.0a1.3 1.3 0 1 0 2.6 0a1.3 1.3 0 1 0 -2.6 0M617.1 128.6a1.3 1.3 0 1 0 2.6 0a1.3 1.3 0 1 0 -2.6 0M613.4 126.9a1.3 1.3 0 1 0 2.6 0a1.3 1.3 0 1 0 -2.6 0M609.4 123.4a1.3 1.3 0 1 0 2.6 0a1.3 1.3 0 1 0 -2.6 0M619.6 130.3a1.3 1.3 0 1 0 2.6 0a1.3 1.3 0 1 0 -2.6 0M706.9 132.8a1.3 1.3 0 1 0 2.6 0a1.3 1.3 0 1 0 -2.6 0M703.2 128.9a1.3 1.3 0 1 0 2.6 0a1.3 1.3 0 1 0 -2.6 0M706.1 132.0a1.3 1.3 0 1 0 2.6 0a1.3 1.3 0 1 0 -2.6 0M708.7 133.4a1.3 1.3 0 1 0 2.6 0a1.3 1.3 0 1 0 -2.6 0M707.6 132.4a1.3 1.3 0 1 0 2.6 0a1.3 1.3 0 1 0 -2.6 0M709.5 134.1a1.3 1.3 0 1 0 2.6 0a1.3 1.3 0 1 0 -2.6 0M708.2 133.1a1.3 1.3 0 1 0 2.6 0a1.3 1.3 0 1 0 -2.6 0M708.7 133.5a1.3 1.3 0 1 0 2.6 0a1.3 1.3 0 1 0 -2.6 0M702.5 129.2a1.3 1.3 0 1 0 2.6 0a1.3 1.3 0 1 0 -2.6 0M713.1 136.7a1.3 1.3 0 1 0 2.6 0a1.3 1.3 0 1 0 -2.6 0M716.2 136.7a1.3 1.3 0 1 0 2.6 0a1.3 1.3 0 1 0 -2.6 0M711.3 134.7a1.3 1.3 0 1 0 2.6 0a1.3 1.3 0 1 0 -2.6 0M713.7 137.3a1.3 1.3 0 1 0 2.6 0a1.3 1.3 0 1 0 -2.6 0M712.6 135.5a1.3 1.3 0 1 0 2.6 0a1.3 1.3 0 1 0 -2.6 0M710.3 134.2a1.3 1.3 0 1 0 2.6 0a1.3 1.3 0 1 0 -2.6 0M127.1 214.2a1.3 1.3 0 1 0 2.6 0a1.3 1.3 0 1 0 -2.6 0M124.6 213.3a1.3 1.3 0 1 0 2.6 0a1.3 1.3 0 1 0 -2.6 0M127.3 214.9a1.3 1.3 0 1 0 2.6 0a1.3 1.3 0 1 0 -2.6 0M125.2 213.9a1.3 1.3 0 1 0 2.6 0a1.3 1.3 0 1 0 -2.6 0M125.1 212.0a1.3 1.3 0 1 0 2.6 0a1.3 1.3 0 1 0 -2.6 0M123.3 211.3a1.3 1.3 0 1 0 2.6 0a1.3 1.3 0 1 0 -2.6 0M135.9 221.9a1.3 1.3 0 1 0 2.6 0a1.3 1.3 0 1 0 -2.6 0M134.9 222.6a1.3 1.3 0 1 0 2.6 0a1.3 1.3 0 1 0 -2.6 0M129.0 217.3a1.3 1.3 0 1 0 2.6 0a1.3 1.3 0 1 0 -2.6 0M131.5 216.6a1.3 1.3 0 1 0 2.6 0a1.3 1.3 0 1 0 -2.6 0M127.7 215.9a1.3 1.3 0 1 0 2.6 0a1.3 1.3 0 1 0 -2.6 0M127.7 215.7a1.3 1.3 0 1 0 2.6 0a1.3 1.3 0 1 0 -2.6 0M135.4 222.9a1.3 1.3 0 1 0 2.6 0a1.3 1.3 0 1 0 -2.6 0M128.5 216.3a1.3 1.3 0 1 0 2.6 0a1.3 1.3 0 1 0 -2.6 0M129.7 216.3a1.3 1.3 0 1 0 2.6 0a1.3 1.3 0 1 0 -2.6 0M131.2 217.7a1.3 1.3 0 1 0 2.6 0a1.3 1.3 0 1 0 -2.6 0M144.3 229.7a1.3 1.3 0 1 0 2.6 0a1.3 1.3 0 1 0 -2.6 0M145.3 229.5a1.3 1.3 0 1 0 2.6 0a1.3 1.3 0 1 0 -2.6 0M136.7 223.6a1.3 1.3 0 1 0 2.6 0a1.3 1.3 0 1 0 -2.6 0M141.6 228.9a1.3 1.3 0 1 0 2.6 0a1.3 1.3 0 1 0 -2.6 0M137.1 223.3a1.3 1.3 0 1 0 2.6 0a1.3 1.3 0 1 0 -2.6 0M140.1 226.3a1.3 1.3 0 1 0 2.6 0a1.3 1.3 0 1 0 -2.6 0M136.4 225.2a1.3 1.3 0 1 0 2.6 0a1.3 1.3 0 1 0 -2.6 0M139.0 225.7a1.3 1.3 0 1 0 2.6 0a1.3 1.3 0 1 0 -2.6 0M143.5 229.9a1.3 1.3 0 1 0 2.6 0a1.3 1.3 0 1 0 -2.6 0M145.1 231.3a1.3 1.3 0 1 0 2.6 0a1.3 1.3 0 1 0 -2.6 0M146.3 232.7a1.3 1.3 0 1 0 2.6 0a1.3 1.3 0 1 0 -2.6 0M144.9 231.6a1.3 1.3 0 1 0 2.6 0a1.3 1.3 0 1 0 -2.6 0M148.1 233.9a1.3 1.3 0 1 0 2.6 0a1.3 1.3 0 1 0 -2.6 0M146.3 232.1a1.3 1.3 0 1 0 2.6 0a1.3 1.3 0 1 0 -2.6 0M152.3 238.5a1.3 1.3 0 1 0 2.6 0a1.3 1.3 0 1 0 -2.6 0M150.7 236.4a1.3 1.3 0 1 0 2.6 0a1.3 1.3 0 1 0 -2.6 0M155.5 241.5a1.3 1.3 0 1 0 2.6 0a1.3 1.3 0 1 0 -2.6 0M151.3 236.5a1.3 1.3 0 1 0 2.6 0a1.3 1.3 0 1 0 -2.6 0M150.3 236.3a1.3 1.3 0 1 0 2.6 0a1.3 1.3 0 1 0 -2.6 0M149.2 235.7a1.3 1.3 0 1 0 2.6 0a1.3 1.3 0 1 0 -2.6 0M153.0 237.9a1.3 1.3 0 1 0 2.6 0a1.3 1.3 0 1 0 -2.6 0M151.3 237.7a1.3 1.3 0 1 0 2.6 0a1.3 1.3 0 1 0 -2.6 0M156.4 241.0a1.3 1.3 0 1 0 2.6 0a1.3 1.3 0 1 0 -2.6 0M160.4 243.9a1.3 1.3 0 1 0 2.6 0a1.3 1.3 0 1 0 -2.6 0M160.3 244.0a1.3 1.3 0 1 0 2.6 0a1.3 1.3 0 1 0 -2.6 0M163.2 245.3a1.3 1.3 0 1 0 2.6 0a1.3 1.3 0 1 0 -2.6 0M161.4 245.2a1.3 1.3 0 1 0 2.6 0a1.3 1.3 0 1 0 -2.6 0M158.9 243.9a1.3 1.3 0 1 0 2.6 0a1.3 1.3 0 1 0 -2.6 0M163.2 246.6a1.3 1.3 0 1 0 2.6 0a1.3 1.3 0 1 0 -2.6 0M158.8 243.9a1.3 1.3 0 1 0 2.6 0a1.3 1.3 0 1 0 -2.6 0M163.9 247.8a1.3 1.3 0 1 0 2.6 0a1.3 1.3 0 1 0 -2.6 0M166.4 250.0a1.3 1.3 0 1 0 2.6 0a1.3 1.3 0 1 0 -2.6 0M168.1 251.4a1.3 1.3 0 1 0 2.6 0a1.3 1.3 0 1 0 -2.6 0M164.7 249.4a1.3 1.3 0 1 0 2.6 0a1.3 1.3 0 1 0 -2.6 0M164.4 248.3a1.3 1.3 0 1 0 2.6 0a1.3 1.3 0 1 0 -2.6 0M167.5 251.2a1.3 1.3 0 1 0 2.6 0a1.3 1.3 0 1 0 -2.6 0M169.8 256.5a1.3 1.3 0 1 0 2.6 0a1.3 1.3 0 1 0 -2.6 0M169.8 255.9a1.3 1.3 0 1 0 2.6 0a1.3 1.3 0 1 0 -2.6 0M169.5 253.6a1.3 1.3 0 1 0 2.6 0a1.3 1.3 0 1 0 -2.6 0M169.6 253.5a1.3 1.3 0 1 0 2.6 0a1.3 1.3 0 1 0 -2.6 0M169.4 257.9a1.3 1.3 0 1 0 2.6 0a1.3 1.3 0 1 0 -2.6 0M212.5 209.1a1.3 1.3 0 1 0 2.6 0a1.3 1.3 0 1 0 -2.6 0M217.0 213.2a1.3 1.3 0 1 0 2.6 0a1.3 1.3 0 1 0 -2.6 0M216.5 213.8a1.3 1.3 0 1 0 2.6 0a1.3 1.3 0 1 0 -2.6 0M212.4 209.7a1.3 1.3 0 1 0 2.6 0a1.3 1.3 0 1 0 -2.6 0M216.8 214.0a1.3 1.3 0 1 0 2.6 0a1.3 1.3 0 1 0 -2.6 0M216.5 213.6a1.3 1.3 0 1 0 2.6 0a1.3 1.3 0 1 0 -2.6 0M214.9 212.9a1.3 1.3 0 1 0 2.6 0a1.3 1.3 0 1 0 -2.6 0M224.6 221.1a1.3 1.3 0 1 0 2.6 0a1.3 1.3 0 1 0 -2.6 0M222.1 219.6a1.3 1.3 0 1 0 2.6 0a1.3 1.3 0 1 0 -2.6 0M221.8 218.7a1.3 1.3 0 1 0 2.6 0a1.3 1.3 0 1 0 -2.6 0M222.9 220.5a1.3 1.3 0 1 0 2.6 0a1.3 1.3 0 1 0 -2.6 0M226.3 222.2a1.3 1.3 0 1 0 2.6 0a1.3 1.3 0 1 0 -2.6 0M219.6 216.0a1.3 1.3 0 1 0 2.6 0a1.3 1.3 0 1 0 -2.6 0M217.7 215.4a1.3 1.3 0 1 0 2.6 0a1.3 1.3 0 1 0 -2.6 0M227.4 223.2a1.3 1.3 0 1 0 2.6 0a1.3 1.3 0 1 0 -2.6 0M220.7 217.9a1.3 1.3 0 1 0 2.6 0a1.3 1.3 0 1 0 -2.6 0M220.2 217.4a1.3 1.3 0 1 0 2.6 0a1.3 1.3 0 1 0 -2.6 0M223.2 218.9a1.3 1.3 0 1 0 2.6 0a1.3 1.3 0 1 0 -2.6 0M230.7 226.6a1.3 1.3 0 1 0 2.6 0a1.3 1.3 0 1 0 -2.6 0M234.6 229.6a1.3 1.3 0 1 0 2.6 0a1.3 1.3 0 1 0 -2.6 0M234.0 229.2a1.3 1.3 0 1 0 2.6 0a1.3 1.3 0 1 0 -2.6 0M229.4 224.5a1.3 1.3 0 1 0 2.6 0a1.3 1.3 0 1 0 -2.6 0M228.2 223.3a1.3 1.3 0 1 0 2.6 0a1.3 1.3 0 1 0 -2.6 0M231.4 226.5a1.3 1.3 0 1 0 2.6 0a1.3 1.3 0 1 0 -2.6 0M231.8 226.5a1.3 1.3 0 1 0 2.6 0a1.3 1.3 0 1 0 -2.6 0M234.3 228.8a1.3 1.3 0 1 0 2.6 0a1.3 1.3 0 1 0 -2.6 0M228.8 225.2a1.3 1.3 0 1 0 2.6 0a1.3 1.3 0 1 0 -2.6 0M236.3 230.5a1.3 1.3 0 1 0 2.6 0a1.3 1.3 0 1 0 -2.6 0M237.5 231.8a1.3 1.3 0 1 0 2.6 0a1.3 1.3 0 1 0 -2.6 0M238.3 233.4a1.3 1.3 0 1 0 2.6 0a1.3 1.3 0 1 0 -2.6 0M237.3 232.1a1.3 1.3 0 1 0 2.6 0a1.3 1.3 0 1 0 -2.6 0M236.3 232.5a1.3 1.3 0 1 0 2.6 0a1.3 1.3 0 1 0 -2.6 0M238.6 234.4a1.3 1.3 0 1 0 2.6 0a1.3 1.3 0 1 0 -2.6 0M243.6 237.2a1.3 1.3 0 1 0 2.6 0a1.3 1.3 0 1 0 -2.6 0M247.1 238.9a1.3 1.3 0 1 0 2.6 0a1.3 1.3 0 1 0 -2.6 0M240.2 236.3a1.3 1.3 0 1 0 2.6 0a1.3 1.3 0 1 0 -2.6 0M243.1 237.5a1.3 1.3 0 1 0 2.6 0a1.3 1.3 0 1 0 -2.6 0M246.2 239.3a1.3 1.3 0 1 0 2.6 0a1.3 1.3 0 1 0 -2.6 0M240.6 235.9a1.3 1.3 0 1 0 2.6 0a1.3 1.3 0 1 0 -2.6 0M246.6 239.5a1.3 1.3 0 1 0 2.6 0a1.3 1.3 0 1 0 -2.6 0M251.0 243.1a1.3 1.3 0 1 0 2.6 0a1.3 1.3 0 1 0 -2.6 0M252.2 243.1a1.3 1.3 0 1 0 2.6 0a1.3 1.3 0 1 0 -2.6 0M252.0 243.5a1.3 1.3 0 1 0 2.6 0a1.3 1.3 0 1 0 -2.6 0M252.9 244.7a1.3 1.3 0 1 0 2.6 0a1.3 1.3 0 1 0 -2.6 0M248.0 241.0a1.3 1.3 0 1 0 2.6 0a1.3 1.3 0 1 0 -2.6 0M247.9 240.4a1.3 1.3 0 1 0 2.6 0a1.3 1.3 0 1 0 -2.6 0M247.6 240.7a1.3 1.3 0 1 0 2.6 0a1.3 1.3 0 1 0 -2.6 0M257.8 246.3a1.3 1.3 0 1 0 2.6 0a1.3 1.3 0 1 0 -2.6 0M258.9 248.4a1.3 1.3 0 1 0 2.6 0a1.3 1.3 0 1 0 -2.6 0M258.5 249.5a1.3 1.3 0 1 0 2.6 0a1.3 1.3 0 1 0 -2.6 0M254.9 246.6a1.3 1.3 0 1 0 2.6 0a1.3 1.3 0 1 0 -2.6 0M254.3 245.7a1.3 1.3 0 1 0 2.6 0a1.3 1.3 0 1 0 -2.6 0M260.2 249.2a1.3 1.3 0 1 0 2.6 0a1.3 1.3 0 1 0 -2.6 0M258.1 248.4a1.3 1.3 0 1 0 2.6 0a1.3 1.3 0 1 0 -2.6 0M304.9 211.3a1.3 1.3 0 1 0 2.6 0a1.3 1.3 0 1 0 -2.6 0M307.3 213.2a1.3 1.3 0 1 0 2.6 0a1.3 1.3 0 1 0 -2.6 0M307.5 213.2a1.3 1.3 0 1 0 2.6 0a1.3 1.3 0 1 0 -2.6 0M307.9 213.7a1.3 1.3 0 1 0 2.6 0a1.3 1.3 0 1 0 -2.6 0M309.1 213.8a1.3 1.3 0 1 0 2.6 0a1.3 1.3 0 1 0 -2.6 0M306.3 212.5a1.3 1.3 0 1 0 2.6 0a1.3 1.3 0 1 0 -2.6 0M309.8 214.7a1.3 1.3 0 1 0 2.6 0a1.3 1.3 0 1 0 -2.6 0M313.7 218.3a1.3 1.3 0 1 0 2.6 0a1.3 1.3 0 1 0 -2.6 0M312.1 217.1a1.3 1.3 0 1 0 2.6 0a1.3 1.3 0 1 0 -2.6 0M316.4 221.0a1.3 1.3 0 1 0 2.6 0a1.3 1.3 0 1 0 -2.6 0M313.2 217.7a1.3 1.3 0 1 0 2.6 0a1.3 1.3 0 1 0 -2.6 0M311.3 216.2a1.3 1.3 0 1 0 2.6 0a1.3 1.3 0 1 0 -2.6 0M312.7 218.0a1.3 1.3 0 1 0 2.6 0a1.3 1.3 0 1 0 -2.6 0M317.7 223.7a1.3 1.3 0 1 0 2.6 0a1.3 1.3 0 1 0 -2.6 0M314.2 219.0a1.3 1.3 0 1 0 2.6 0a1.3 1.3 0 1 0 -2.6 0M314.2 219.3a1.3 1.3 0 1 0 2.6 0a1.3 1.3 0 1 0 -2.6 0M317.2 220.5a1.3 1.3 0 1 0 2.6 0a1.3 1.3 0 1 0 -2.6 0M323.6 228.4a1.3 1.3 0 1 0 2.6 0a1.3 1.3 0 1 0 -2.6 0M325.1 230.3a1.3 1.3 0 1 0 2.6 0a1.3 1.3 0 1 0 -2.6 0M324.6 229.9a1.3 1.3 0 1 0 2.6 0a1.3 1.3 0 1 0 -2.6 0M321.1 226.3a1.3 1.3 0 1 0 2.6 0a1.3 1.3 0 1 0 -2.6 0M319.3 225.1a1.3 1.3 0 1 0 2.6 0a1.3 1.3 0 1 0 -2.6 0M324.8 228.9a1.3 1.3 0 1 0 2.6 0a1.3 1.3 0 1 0 -2.6 0M319.2 224.8a1.3 1.3 0 1 0 2.6 0a1.3 1.3 0 1 0 -2.6 0M326.7 229.5a1.3 1.3 0 1 0 2.6 0a1.3 1.3 0 1 0 -2.6 0M324.4 229.4a1.3 1.3 0 1 0 2.6 0a1.3 1.3 0 1 0 -2.6 0M323.9 227.3a1.3 1.3 0 1 0 2.6 0a1.3 1.3 0 1 0 -2.6 0M328.3 233.4a1.3 1.3 0 1 0 2.6 0a1.3 1.3 0 1 0 -2.6 0M331.1 234.7a1.3 1.3 0 1 0 2.6 0a1.3 1.3 0 1 0 -2.6 0M327.6 232.8a1.3 1.3 0 1 0 2.6 0a1.3 1.3 0 1 0 -2.6 0M330.9 235.4a1.3 1.3 0 1 0 2.6 0a1.3 1.3 0 1 0 -2.6 0M326.6 232.1a1.3 1.3 0 1 0 2.6 0a1.3 1.3 0 1 0 -2.6 0M332.9 237.0a1.3 1.3 0 1 0 2.6 0a1.3 1.3 0 1 0 -2.6 0M336.9 240.4a1.3 1.3 0 1 0 2.6 0a1.3 1.3 0 1 0 -2.6 0M334.0 238.5a1.3 1.3 0 1 0 2.6 0a1.3 1.3 0 1 0 -2.6 0M333.3 236.2a1.3 1.3 0 1 0 2.6 0a1.3 1.3 0 1 0 -2.6 0M335.8 239.5a1.3 1.3 0 1 0 2.6 0a1.3 1.3 0 1 0 -2.6 0M336.5 239.1a1.3 1.3 0 1 0 2.6 0a1.3 1.3 0 1 0 -2.6 0M336.3 240.5a1.3 1.3 0 1 0 2.6 0a1.3 1.3 0 1 0 -2.6 0M335.3 240.2a1.3 1.3 0 1 0 2.6 0a1.3 1.3 0 1 0 -2.6 0M341.2 242.8a1.3 1.3 0 1 0 2.6 0a1.3 1.3 0 1 0 -2.6 0M339.0 241.1a1.3 1.3 0 1 0 2.6 0a1.3 1.3 0 1 0 -2.6 0M340.9 242.1a1.3 1.3 0 1 0 2.6 0a1.3 1.3 0 1 0 -2.6 0M342.1 244.4a1.3 1.3 0 1 0 2.6 0a1.3 1.3 0 1 0 -2.6 0M338.6 240.6a1.3 1.3 0 1 0 2.6 0a1.3 1.3 0 1 0 -2.6 0M341.4 243.7a1.3 1.3 0 1 0 2.6 0a1.3 1.3 0 1 0 -2.6 0M343.9 245.0a1.3 1.3 0 1 0 2.6 0a1.3 1.3 0 1 0 -2.6 0M348.7 248.3a1.3 1.3 0 1 0 2.6 0a1.3 1.3 0 1 0 -2.6 0M348.0 247.8a1.3 1.3 0 1 0 2.6 0a1.3 1.3 0 1 0 -2.6 0M347.2 246.8a1.3 1.3 0 1 0 2.6 0a1.3 1.3 0 1 0 -2.6 0M349.5 250.5a1.3 1.3 0 1 0 2.6 0a1.3 1.3 0 1 0 -2.6 0M347.2 248.1a1.3 1.3 0 1 0 2.6 0a1.3 1.3 0 1 0 -2.6 0M350.5 250.6a1.3 1.3 0 1 0 2.6 0a1.3 1.3 0 1 0 -2.6 0M348.9 248.4a1.3 1.3 0 1 0 2.6 0a1.3 1.3 0 1 0 -2.6 0M346.6 246.1a1.3 1.3 0 1 0 2.6 0a1.3 1.3 0 1 0 -2.6 0M349.9 251.0a1.3 1.3 0 1 0 2.6 0a1.3 1.3 0 1 0 -2.6 0M409.2 211.3a1.3 1.3 0 1 0 2.6 0a1.3 1.3 0 1 0 -2.6 0M412.6 212.5a1.3 1.3 0 1 0 2.6 0a1.3 1.3 0 1 0 -2.6 0M409.6 209.3a1.3 1.3 0 1 0 2.6 0a1.3 1.3 0 1 0 -2.6 0M408.2 208.8a1.3 1.3 0 1 0 2.6 0a1.3 1.3 0 1 0 -2.6 0M411.0 210.8a1.3 1.3 0 1 0 2.6 0a1.3 1.3 0 1 0 -2.6 0M411.3 211.9a1.3 1.3 0 1 0 2.6 0a1.3 1.3 0 1 0 -2.6 0M409.7 209.8a1.3 1.3 0 1 0 2.6 0a1.3 1.3 0 1 0 -2.6 0M417.8 220.2a1.3 1.3 0 1 0 2.6 0a1.3 1.3 0 1 0 -2.6 0M416.2 218.3a1.3 1.3 0 1 0 2.6 0a1.3 1.3 0 1 0 -2.6 0M414.4 215.7a1.3 1.3 0 1 0 2.6 0a1.3 1.3 0 1 0 -2.6 0M417.2 219.7a1.3 1.3 0 1 0 2.6 0a1.3 1.3 0 1 0 -2.6 0M416.4 217.5a1.3 1.3 0 1 0 2.6 0a1.3 1.3 0 1 0 -2.6 0M413.7 216.2a1.3 1.3 0 1 0 2.6 0a1.3 1.3 0 1 0 -2.6 0M413.9 215.9a1.3 1.3 0 1 0 2.6 0a1.3 1.3 0 1 0 -2.6 0M419.5 226.4a1.3 1.3 0 1 0 2.6 0a1.3 1.3 0 1 0 -2.6 0M420.2 225.6a1.3 1.3 0 1 0 2.6 0a1.3 1.3 0 1 0 -2.6 0M417.7 221.9a1.3 1.3 0 1 0 2.6 0a1.3 1.3 0 1 0 -2.6 0M419.4 222.9a1.3 1.3 0 1 0 2.6 0a1.3 1.3 0 1 0 -2.6 0M420.4 225.2a1.3 1.3 0 1 0 2.6 0a1.3 1.3 0 1 0 -2.6 0M419.5 225.9a1.3 1.3 0 1 0 2.6 0a1.3 1.3 0 1 0 -2.6 0M425.6 234.0a1.3 1.3 0 1 0 2.6 0a1.3 1.3 0 1 0 -2.6 0M424.4 232.8a1.3 1.3 0 1 0 2.6 0a1.3 1.3 0 1 0 -2.6 0M424.2 233.7a1.3 1.3 0 1 0 2.6 0a1.3 1.3 0 1 0 -2.6 0M421.8 230.6a1.3 1.3 0 1 0 2.6 0a1.3 1.3 0 1 0 -2.6 0M422.4 232.2a1.3 1.3 0 1 0 2.6 0a1.3 1.3 0 1 0 -2.6 0M423.4 231.2a1.3 1.3 0 1 0 2.6 0a1.3 1.3 0 1 0 -2.6 0M421.7 228.4a1.3 1.3 0 1 0 2.6 0a1.3 1.3 0 1 0 -2.6 0M427.6 237.4a1.3 1.3 0 1 0 2.6 0a1.3 1.3 0 1 0 -2.6 0M429.0 238.4a1.3 1.3 0 1 0 2.6 0a1.3 1.3 0 1 0 -2.6 0M431.9 240.5a1.3 1.3 0 1 0 2.6 0a1.3 1.3 0 1 0 -2.6 0M428.8 237.2a1.3 1.3 0 1 0 2.6 0a1.3 1.3 0 1 0 -2.6 0M429.7 238.7a1.3 1.3 0 1 0 2.6 0a1.3 1.3 0 1 0 -2.6 0M430.5 241.0a1.3 1.3 0 1 0 2.6 0a1.3 1.3 0 1 0 -2.6 0M431.2 241.0a1.3 1.3 0 1 0 2.6 0a1.3 1.3 0 1 0 -2.6 0M430.5 240.5a1.3 1.3 0 1 0 2.6 0a1.3 1.3 0 1 0 -2.6 0M428.5 238.8a1.3 1.3 0 1 0 2.6 0a1.3 1.3 0 1 0 -2.6 0M436.6 243.9a1.3 1.3 0 1 0 2.6 0a1.3 1.3 0 1 0 -2.6 0M436.9 244.2a1.3 1.3 0 1 0 2.6 0a1.3 1.3 0 1 0 -2.6 0M433.8 241.6a1.3 1.3 0 1 0 2.6 0a1.3 1.3 0 1 0 -2.6 0M436.1 244.1a1.3 1.3 0 1 0 2.6 0a1.3 1.3 0 1 0 -2.6 0M434.4 242.3a1.3 1.3 0 1 0 2.6 0a1.3 1.3 0 1 0 -2.6 0M438.3 245.1a1.3 1.3 0 1 0 2.6 0a1.3 1.3 0 1 0 -2.6 0M439.4 246.4a1.3 1.3 0 1 0 2.6 0a1.3 1.3 0 1 0 -2.6 0M438.6 246.5a1.3 1.3 0 1 0 2.6 0a1.3 1.3 0 1 0 -2.6 0M441.2 249.1a1.3 1.3 0 1 0 2.6 0a1.3 1.3 0 1 0 -2.6 0M443.1 250.7a1.3 1.3 0 1 0 2.6 0a1.3 1.3 0 1 0 -2.6 0M441.8 248.8a1.3 1.3 0 1 0 2.6 0a1.3 1.3 0 1 0 -2.6 0M437.7 245.9a1.3 1.3 0 1 0 2.6 0a1.3 1.3 0 1 0 -2.6 0M512.0 242.0a1.3 1.3 0 1 0 2.6 0a1.3 1.3 0 1 0 -2.6 0M512.7 240.6a1.3 1.3 0 1 0 2.6 0a1.3 1.3 0 1 0 -2.6 0M509.3 238.1a1.3 1.3 0 1 0 2.6 0a1.3 1.3 0 1 0 -2.6 0M509.9 237.5a1.3 1.3 0 1 0 2.6 0a1.3 1.3 0 1 0 -2.6 0M510.0 238.2a1.3 1.3 0 1 0 2.6 0a1.3 1.3 0 1 0 -2.6 0M514.9 243.6a1.3 1.3 0 1 0 2.6 0a1.3 1.3 0 1 0 -2.6 0M519.3 242.7a1.3 1.3 0 1 0 2.6 0a1.3 1.3 0 1 0 -2.6 0M521.5 243.3a1.3 1.3 0 1 0 2.6 0a1.3 1.3 0 1 0 -2.6 0M519.6 242.5a1.3 1.3 0 1 0 2.6 0a1.3 1.3 0 1 0 -2.6 0M516.2 242.8a1.3 1.3 0 1 0 2.6 0a1.3 1.3 0 1 0 -2.6 0M513.9 241.3a1.3 1.3 0 1 0 2.6 0a1.3 1.3 0 1 0 -2.6 0M512.7 242.4a1.3 1.3 0 1 0 2.6 0a1.3 1.3 0 1 0 -2.6 0M516.2 243.1a1.3 1.3 0 1 0 2.6 0a1.3 1.3 0 1 0 -2.6 0M521.8 243.0a1.3 1.3 0 1 0 2.6 0a1.3 1.3 0 1 0 -2.6 0M523.7 243.2a1.3 1.3 0 1 0 2.6 0a1.3 1.3 0 1 0 -2.6 0M523.8 245.4a1.3 1.3 0 1 0 2.6 0a1.3 1.3 0 1 0 -2.6 0M524.8 245.1a1.3 1.3 0 1 0 2.6 0a1.3 1.3 0 1 0 -2.6 0M525.7 246.0a1.3 1.3 0 1 0 2.6 0a1.3 1.3 0 1 0 -2.6 0M526.0 246.8a1.3 1.3 0 1 0 2.6 0a1.3 1.3 0 1 0 -2.6 0M531.9 251.8a1.3 1.3 0 1 0 2.6 0a1.3 1.3 0 1 0 -2.6 0M534.1 253.0a1.3 1.3 0 1 0 2.6 0a1.3 1.3 0 1 0 -2.6 0M529.5 251.3a1.3 1.3 0 1 0 2.6 0a1.3 1.3 0 1 0 -2.6 0M527.3 250.3a1.3 1.3 0 1 0 2.6 0a1.3 1.3 0 1 0 -2.6 0M528.4 249.4a1.3 1.3 0 1 0 2.6 0a1.3 1.3 0 1 0 -2.6 0M531.9 251.9a1.3 1.3 0 1 0 2.6 0a1.3 1.3 0 1 0 -2.6 0M532.6 251.8a1.3 1.3 0 1 0 2.6 0a1.3 1.3 0 1 0 -2.6 0M532.7 252.1a1.3 1.3 0 1 0 2.6 0a1.3 1.3 0 1 0 -2.6 0M576.8 207.2a1.3 1.3 0 1 0 2.6 0a1.3 1.3 0 1 0 -2.6 0M581.1 210.8a1.3 1.3 0 1 0 2.6 0a1.3 1.3 0 1 0 -2.6 0M575.0 207.5a1.3 1.3 0 1 0 2.6 0a1.3 1.3 0 1 0 -2.6 0M579.9 211.1a1.3 1.3 0 1 0 2.6 0a1.3 1.3 0 1 0 -2.6 0M579.7 210.1a1.3 1.3 0 1 0 2.6 0a1.3 1.3 0 1 0 -2.6 0M578.0 209.4a1.3 1.3 0 1 0 2.6 0a1.3 1.3 0 1 0 -2.6 0M579.8 210.1a1.3 1.3 0 1 0 2.6 0a1.3 1.3 0 1 0 -2.6 0M580.9 210.5a1.3 1.3 0 1 0 2.6 0a1.3 1.3 0 1 0 -2.6 0M588.2 220.7a1.3 1.3 0 1 0 2.6 0a1.3 1.3 0 1 0 -2.6 0M588.5 219.1a1.3 1.3 0 1 0 2.6 0a1.3 1.3 0 1 0 -2.6 0M582.8 212.7a1.3 1.3 0 1 0 2.6 0a1.3 1.3 0 1 0 -2.6 0M586.4 216.2a1.3 1.3 0 1 0 2.6 0a1.3 1.3 0 1 0 -2.6 0M589.1 221.3a1.3 1.3 0 1 0 2.6 0a1.3 1.3 0 1 0 -2.6 0M585.0 217.6a1.3 1.3 0 1 0 2.6 0a1.3 1.3 0 1 0 -2.6 0M588.1 219.3a1.3 1.3 0 1 0 2.6 0a1.3 1.3 0 1 0 -2.6 0M584.8 216.3a1.3 1.3 0 1 0 2.6 0a1.3 1.3 0 1 0 -2.6 0M584.6 216.0a1.3 1.3 0 1 0 2.6 0a1.3 1.3 0 1 0 -2.6 0M590.1 222.1a1.3 1.3 0 1 0 2.6 0a1.3 1.3 0 1 0 -2.6 0M587.0 219.4a1.3 1.3 0 1 0 2.6 0a1.3 1.3 0 1 0 -2.6 0M597.7 227.9a1.3 1.3 0 1 0 2.6 0a1.3 1.3 0 1 0 -2.6 0M598.7 229.3a1.3 1.3 0 1 0 2.6 0a1.3 1.3 0 1 0 -2.6 0M592.8 223.6a1.3 1.3 0 1 0 2.6 0a1.3 1.3 0 1 0 -2.6 0M593.7 225.3a1.3 1.3 0 1 0 2.6 0a1.3 1.3 0 1 0 -2.6 0M597.8 228.5a1.3 1.3 0 1 0 2.6 0a1.3 1.3 0 1 0 -2.6 0M598.4 228.4a1.3 1.3 0 1 0 2.6 0a1.3 1.3 0 1 0 -2.6 0M596.4 228.3a1.3 1.3 0 1 0 2.6 0a1.3 1.3 0 1 0 -2.6 0M597.8 228.6a1.3 1.3 0 1 0 2.6 0a1.3 1.3 0 1 0 -2.6 0M591.8 222.4a1.3 1.3 0 1 0 2.6 0a1.3 1.3 0 1 0 -2.6 0M602.5 233.6a1.3 1.3 0 1 0 2.6 0a1.3 1.3 0 1 0 -2.6 0M599.8 231.7a1.3 1.3 0 1 0 2.6 0a1.3 1.3 0 1 0 -2.6 0M600.8 232.4a1.3 1.3 0 1 0 2.6 0a1.3 1.3 0 1 0 -2.6 0M601.1 232.1a1.3 1.3 0 1 0 2.6 0a1.3 1.3 0 1 0 -2.6 0M602.4 232.1a1.3 1.3 0 1 0 2.6 0a1.3 1.3 0 1 0 -2.6 0M600.7 231.3a1.3 1.3 0 1 0 2.6 0a1.3 1.3 0 1 0 -2.6 0M609.8 239.2a1.3 1.3 0 1 0 2.6 0a1.3 1.3 0 1 0 -2.6 0M604.4 234.2a1.3 1.3 0 1 0 2.6 0a1.3 1.3 0 1 0 -2.6 0M604.7 235.6a1.3 1.3 0 1 0 2.6 0a1.3 1.3 0 1 0 -2.6 0M602.5 235.6a1.3 1.3 0 1 0 2.6 0a1.3 1.3 0 1 0 -2.6 0M605.0 235.8a1.3 1.3 0 1 0 2.6 0a1.3 1.3 0 1 0 -2.6 0M605.1 234.4a1.3 1.3 0 1 0 2.6 0a1.3 1.3 0 1 0 -2.6 0M606.3 236.8a1.3 1.3 0 1 0 2.6 0a1.3 1.3 0 1 0 -2.6 0M615.8 242.4a1.3 1.3 0 1 0 2.6 0a1.3 1.3 0 1 0 -2.6 0M615.4 243.1a1.3 1.3 0 1 0 2.6 0a1.3 1.3 0 1 0 -2.6 0M610.1 240.5a1.3 1.3 0 1 0 2.6 0a1.3 1.3 0 1 0 -2.6 0M615.0 242.9a1.3 1.3 0 1 0 2.6 0a1.3 1.3 0 1 0 -2.6 0M616.8 244.3a1.3 1.3 0 1 0 2.6 0a1.3 1.3 0 1 0 -2.6 0M615.0 242.1a1.3 1.3 0 1 0 2.6 0a1.3 1.3 0 1 0 -2.6 0M614.5 242.1a1.3 1.3 0 1 0 2.6 0a1.3 1.3 0 1 0 -2.6 0M621.3 246.1a1.3 1.3 0 1 0 2.6 0a1.3 1.3 0 1 0 -2.6 0M617.5 244.5a1.3 1.3 0 1 0 2.6 0a1.3 1.3 0 1 0 -2.6 0M617.4 244.0a1.3 1.3 0 1 0 2.6 0a1.3 1.3 0 1 0 -2.6 0M617.8 244.6a1.3 1.3 0 1 0 2.6 0a1.3 1.3 0 1 0 -2.6 0M619.8 246.3a1.3 1.3 0 1 0 2.6 0a1.3 1.3 0 1 0 -2.6 0" fill="#0000ff"/>
<path d="M123.0 88.5 L128.3 94.5 L136.6 103.4 L143.7 109.9 L149.1 114.1 L156.2 119.4 L163.3 124.8 L170.4 129.5 L172.8 132.5" stroke="#ff0000" stroke-width="2.90" fill="none" stroke-linecap="round" stroke-linejoin="round"/>
<path d="M214.0 89.1 L220.5 95.7 L227.6 102.8 L234.7 109.3 L241.3 115.9 L248.4 122.4 L255.5 128.3 L262.6 133.1 L263.2 136.6" stroke="#ff0000" stroke-width="2.90" fill="none" stroke-linecap="round" stroke-linejoin="round"/>
<path d="M395.6 88.0 L401.5 94.5 L409.8 102.8 L418.1 109.9 L423.5 115.3 L431.8 121.2 L438.9 126.0 L444.2 127.7" stroke="#ff0000" stroke-width="2.90" fill="none" stroke-linecap="round" stroke-linejoin="round"/>
<path d="M485.4 90.3 L491.3 95.7 L498.4 101.6 L506.7 108.7 L512.1 115.3 L519.2 120.0 L526.3 126.0 L535.2 133.1" stroke="#ff0000" stroke-width="2.90" fill="none" stroke-linecap="round" stroke-linejoin="round"/>
<path d="M576.4 90.3 L582.3 96.3 L590.6 104.0 L598.9 111.1 L603.1 114.1 L610.2 120.6 L617.3 127.1 L626.2 133.7" stroke="#ff0000" stroke-width="2.90" fill="none" stroke-linecap="round" stroke-linejoin="round"/>
<path d="M667.4 90.3 L673.3 96.3 L681.6 104.0 L688.7 110.5 L694.1 116.5 L701.2 122.4 L708.3 128.3 L710.7 132.5" stroke="#ff0000" stroke-width="4.00" fill="none" stroke-linecap="round" stroke-linejoin="round"/>
<path d="M711.8 119.0 L711.8 132.0" stroke="#ff0000" stroke-width="1.90" fill="none" stroke-linecap="round" stroke-linejoin="round"/>
<path d="M715.8 117.0 L715.8 130.0" stroke="#ff0000" stroke-width="1.90" fill="none" stroke-linecap="round" stroke-linejoin="round"/>
<path d="M707.7 116.0 L707.7 124.0" stroke="#ff0000" stroke-width="1.80" fill="none" stroke-linecap="round" stroke-linejoin="round"/>
<path d="M123.0 203.8 L129.5 210.3 L137.8 218.6 L146.1 225.7 L150.3 231.7 L157.4 237.0 L163.3 241.2 L169.3 244.1 L172.2 241.8 L172.8 237.0 L172.8 231.1" stroke="#ff0000" stroke-width="2.90" fill="none" stroke-linecap="round" stroke-linejoin="round"/>
<path d="M212.8 203.2 L214.0 205.6 L220.5 212.1 L228.8 219.8 L237.1 226.9 L241.3 232.3 L248.4 237.6 L255.5 243.0 L263.2 247.7 L263.6 251.8" stroke="#ff0000" stroke-width="2.90" fill="none" stroke-linecap="round" stroke-linejoin="round"/>
<path d="M305.0 205.0 L311.5 211.5 L319.8 219.8 L328.1 226.9 L332.3 232.3 L339.4 238.2 L346.5 243.0 L354.2 248.9" stroke="#ff0000" stroke-width="2.90" fill="none" stroke-linecap="round" stroke-linejoin="round"/>
<path d="M410.2 206.2 L415.2 209.8 L420.0 214.5 L423.2 221.6 L427.3 227.6 L434.8 235.3 L439.5 240.1 L445.2 246.6" stroke="#ff0000" stroke-width="3.80" fill="none" stroke-linecap="round" stroke-linejoin="round"/>
<path d="M509.8 227.5 L511.5 234.0 L514.0 237.8 L523.0 238.3 L525.3 235.5 L525.8 240.2 L531.0 242.0 L536.0 245.0 L536.5 248.0" stroke="#ff0000" stroke-width="4.20" fill="none" stroke-linecap="round" stroke-linejoin="round"/>
<path d="M503.0 214.5 L503.2 222.0" stroke="#ff0000" stroke-width="2.00" fill="none" stroke-linecap="round" stroke-linejoin="round"/>
<path d="M577.6 203.2 L583.5 209.1 L590.6 217.4 L598.9 225.7 L604.3 232.3 L611.4 237.6 L618.5 243.0 L626.2 249.5" stroke="#ff0000" stroke-width="2.90" fill="none" stroke-linecap="round" stroke-linejoin="round"/>
<path d="M104.9 48.3a1.3 1.3 0 1 0 2.6 0a1.3 1.3 0 1 0 -2.6 0M103.3 52.9a1.3 1.3 0 1 0 2.6 0a1.3 1.3 0 1 0 -2.6 0M104.6 53.7a1.3 1.3 0 1 0 2.6 0a1.3 1.3 0 1 0 -2.6 0M110.7 63.6a1.3 1.3 0 1 0 2.6 0a1.3 1.3 0 1 0 -2.6 0M134.6 64.4a1.3 1.3 0 1 0 2.6 0a1.3 1.3 0 1 0 -2.6 0M101.3 80.0a1.3 1.3 0 1 0 2.6 0a1.3 1.3 0 1 0 -2.6 0M101.6 89.9a1.3 1.3 0 1 0 2.6 0a1.3 1.3 0 1 0 -2.6 0M111.8 71.2a1.3 1.3 0 1 0 2.6 0a1.3 1.3 0 1 0 -2.6 0M109.9 75.8a1.3 1.3 0 1 0 2.6 0a1.3 1.3 0 1 0 -2.6 0M108.7 73.6a1.3 1.3 0 1 0 2.6 0a1.3 1.3 0 1 0 -2.6 0M111.4 81.6a1.3 1.3 0 1 0 2.6 0a1.3 1.3 0 1 0 -2.6 0M107.5 77.0a1.3 1.3 0 1 0 2.6 0a1.3 1.3 0 1 0 -2.6 0M103.1 77.6a1.3 1.3 0 1 0 2.6 0a1.3 1.3 0 1 0 -2.6 0M109.4 82.4a1.3 1.3 0 1 0 2.6 0a1.3 1.3 0 1 0 -2.6 0M111.3 70.7a1.3 1.3 0 1 0 2.6 0a1.3 1.3 0 1 0 -2.6 0M106.6 77.1a1.3 1.3 0 1 0 2.6 0a1.3 1.3 0 1 0 -2.6 0M102.7 73.6a1.3 1.3 0 1 0 2.6 0a1.3 1.3 0 1 0 -2.6 0M104.3 68.0a1.3 1.3 0 1 0 2.6 0a1.3 1.3 0 1 0 -2.6 0M103.1 78.7a1.3 1.3 0 1 0 2.6 0a1.3 1.3 0 1 0 -2.6 0M103.8 70.1a1.3 1.3 0 1 0 2.6 0a1.3 1.3 0 1 0 -2.6 0M106.6 80.4a1.3 1.3 0 1 0 2.6 0a1.3 1.3 0 1 0 -2.6 0M103.3 73.4a1.3 1.3 0 1 0 2.6 0a1.3 1.3 0 1 0 -2.6 0M108.3 80.6a1.3 1.3 0 1 0 2.6 0a1.3 1.3 0 1 0 -2.6 0M111.2 80.3a1.3 1.3 0 1 0 2.6 0a1.3 1.3 0 1 0 -2.6 0M105.4 72.9a1.3 1.3 0 1 0 2.6 0a1.3 1.3 0 1 0 -2.6 0M106.3 80.6a1.3 1.3 0 1 0 2.6 0a1.3 1.3 0 1 0 -2.6 0M112.7 68.5a1.3 1.3 0 1 0 2.6 0a1.3 1.3 0 1 0 -2.6 0M104.3 69.9a1.3 1.3 0 1 0 2.6 0a1.3 1.3 0 1 0 -2.6 0M105.0 74.0a1.3 1.3 0 1 0 2.6 0a1.3 1.3 0 1 0 -2.6 0M108.8 70.4a1.3 1.3 0 1 0 2.6 0a1.3 1.3 0 1 0 -2.6 0M102.5 72.9a1.3 1.3 0 1 0 2.6 0a1.3 1.3 0 1 0 -2.6 0M106.4 75.4a1.3 1.3 0 1 0 2.6 0a1.3 1.3 0 1 0 -2.6 0M112.7 77.4a1.3 1.3 0 1 0 2.6 0a1.3 1.3 0 1 0 -2.6 0M108.0 76.2a1.3 1.3 0 1 0 2.6 0a1.3 1.3 0 1 0 -2.6 0M109.7 66.9a1.3 1.3 0 1 0 2.6 0a1.3 1.3 0 1 0 -2.6 0M112.1 78.9a1.3 1.3 0 1 0 2.6 0a1.3 1.3 0 1 0 -2.6 0M111.8 79.2a1.3 1.3 0 1 0 2.6 0a1.3 1.3 0 1 0 -2.6 0M106.7 72.6a1.3 1.3 0 1 0 2.6 0a1.3 1.3 0 1 0 -2.6 0M103.6 76.5a1.3 1.3 0 1 0 2.6 0a1.3 1.3 0 1 0 -2.6 0M103.1 67.2a1.3 1.3 0 1 0 2.6 0a1.3 1.3 0 1 0 -2.6 0M104.7 68.7a1.3 1.3 0 1 0 2.6 0a1.3 1.3 0 1 0 -2.6 0M106.1 66.9a1.3 1.3 0 1 0 2.6 0a1.3 1.3 0 1 0 -2.6 0M102.5 68.5a1.3 1.3 0 1 0 2.6 0a1.3 1.3 0 1 0 -2.6 0M103.5 72.0a1.3 1.3 0 1 0 2.6 0a1.3 1.3 0 1 0 -2.6 0M102.7 80.4a1.3 1.3 0 1 0 2.6 0a1.3 1.3 0 1 0 -2.6 0M109.0 68.5a1.3 1.3 0 1 0 2.6 0a1.3 1.3 0 1 0 -2.6 0M105.2 71.8a1.3 1.3 0 1 0 2.6 0a1.3 1.3 0 1 0 -2.6 0M106.4 68.1a1.3 1.3 0 1 0 2.6 0a1.3 1.3 0 1 0 -2.6 0M111.5 82.4a1.3 1.3 0 1 0 2.6 0a1.3 1.3 0 1 0 -2.6 0M107.4 74.0a1.3 1.3 0 1 0 2.6 0a1.3 1.3 0 1 0 -2.6 0M103.4 67.7a1.3 1.3 0 1 0 2.6 0a1.3 1.3 0 1 0 -2.6 0M106.1 70.4a1.3 1.3 0 1 0 2.6 0a1.3 1.3 0 1 0 -2.6 0M106.6 96.0a1.3 1.3 0 1 0 2.6 0a1.3 1.3 0 1 0 -2.6 0M101.3 99.9a1.3 1.3 0 1 0 2.6 0a1.3 1.3 0 1 0 -2.6 0M101.6 108.6a1.3 1.3 0 1 0 2.6 0a1.3 1.3 0 1 0 -2.6 0M132.9 117.7a1.3 1.3 0 1 0 2.6 0a1.3 1.3 0 1 0 -2.6 0M134.6 116.0a1.3 1.3 0 1 0 2.6 0a1.3 1.3 0 1 0 -2.6 0M134.6 121.8a1.3 1.3 0 1 0 2.6 0a1.3 1.3 0 1 0 -2.6 0M133.7 127.6a1.3 1.3 0 1 0 2.6 0a1.3 1.3 0 1 0 -2.6 0M160.9 119.3a1.3 1.3 0 1 0 2.6 0a1.3 1.3 0 1 0 -2.6 0M161.7 123.5a1.3 1.3 0 1 0 2.6 0a1.3 1.3 0 1 0 -2.6 0M162.5 126.7a1.3 1.3 0 1 0 2.6 0a1.3 1.3 0 1 0 -2.6 0M170.6 134.0a1.3 1.3 0 1 0 2.6 0a1.3 1.3 0 1 0 -2.6 0M171.0 132.2a1.3 1.3 0 1 0 2.6 0a1.3 1.3 0 1 0 -2.6 0M170.6 131.6a1.3 1.3 0 1 0 2.6 0a1.3 1.3 0 1 0 -2.6 0M164.8 129.4a1.3 1.3 0 1 0 2.6 0a1.3 1.3 0 1 0 -2.6 0M166.1 124.6a1.3 1.3 0 1 0 2.6 0a1.3 1.3 0 1 0 -2.6 0M162.8 127.0a1.3 1.3 0 1 0 2.6 0a1.3 1.3 0 1 0 -2.6 0M165.1 131.1a1.3 1.3 0 1 0 2.6 0a1.3 1.3 0 1 0 -2.6 0M172.0 128.7a1.3 1.3 0 1 0 2.6 0a1.3 1.3 0 1 0 -2.6 0M171.8 134.0a1.3 1.3 0 1 0 2.6 0a1.3 1.3 0 1 0 -2.6 0M172.0 127.9a1.3 1.3 0 1 0 2.6 0a1.3 1.3 0 1 0 -2.6 0M164.7 126.5a1.3 1.3 0 1 0 2.6 0a1.3 1.3 0 1 0 -2.6 0M164.5 126.3a1.3 1.3 0 1 0 2.6 0a1.3 1.3 0 1 0 -2.6 0M168.7 133.2a1.3 1.3 0 1 0 2.6 0a1.3 1.3 0 1 0 -2.6 0M170.8 129.0a1.3 1.3 0 1 0 2.6 0a1.3 1.3 0 1 0 -2.6 0M169.0 132.2a1.3 1.3 0 1 0 2.6 0a1.3 1.3 0 1 0 -2.6 0M163.4 130.8a1.3 1.3 0 1 0 2.6 0a1.3 1.3 0 1 0 -2.6 0M171.5 132.0a1.3 1.3 0 1 0 2.6 0a1.3 1.3 0 1 0 -2.6 0M170.0 129.0a1.3 1.3 0 1 0 2.6 0a1.3 1.3 0 1 0 -2.6 0M195.1 50.4a1.3 1.3 0 1 0 2.6 0a1.3 1.3 0 1 0 -2.6 0M195.6 55.8a1.3 1.3 0 1 0 2.6 0a1.3 1.3 0 1 0 -2.6 0M194.6 59.5a1.3 1.3 0 1 0 2.6 0a1.3 1.3 0 1 0 -2.6 0M193.5 63.6a1.3 1.3 0 1 0 2.6 0a1.3 1.3 0 1 0 -2.6 0M197.9 64.4a1.3 1.3 0 1 0 2.6 0a1.3 1.3 0 1 0 -2.6 0M225.2 63.6a1.3 1.3 0 1 0 2.6 0a1.3 1.3 0 1 0 -2.6 0M224.2 64.7a1.3 1.3 0 1 0 2.6 0a1.3 1.3 0 1 0 -2.6 0M196.8 70.2a1.3 1.3 0 1 0 2.6 0a1.3 1.3 0 1 0 -2.6 0M198.4 72.6a1.3 1.3 0 1 0 2.6 0a1.3 1.3 0 1 0 -2.6 0M200.9 71.8a1.3 1.3 0 1 0 2.6 0a1.3 1.3 0 1 0 -2.6 0M192.6 73.5a1.3 1.3 0 1 0 2.6 0a1.3 1.3 0 1 0 -2.6 0M197.6 75.1a1.3 1.3 0 1 0 2.6 0a1.3 1.3 0 1 0 -2.6 0M201.7 75.9a1.3 1.3 0 1 0 2.6 0a1.3 1.3 0 1 0 -2.6 0M203.3 77.6a1.3 1.3 0 1 0 2.6 0a1.3 1.3 0 1 0 -2.6 0M202.5 78.4a1.3 1.3 0 1 0 2.6 0a1.3 1.3 0 1 0 -2.6 0M200.0 82.5a1.3 1.3 0 1 0 2.6 0a1.3 1.3 0 1 0 -2.6 0M191.8 87.4a1.3 1.3 0 1 0 2.6 0a1.3 1.3 0 1 0 -2.6 0M200.4 72.6a1.3 1.3 0 1 0 2.6 0a1.3 1.3 0 1 0 -2.6 0M199.6 74.5a1.3 1.3 0 1 0 2.6 0a1.3 1.3 0 1 0 -2.6 0M199.1 73.8a1.3 1.3 0 1 0 2.6 0a1.3 1.3 0 1 0 -2.6 0M203.1 78.7a1.3 1.3 0 1 0 2.6 0a1.3 1.3 0 1 0 -2.6 0M200.4 76.0a1.3 1.3 0 1 0 2.6 0a1.3 1.3 0 1 0 -2.6 0M197.4 73.6a1.3 1.3 0 1 0 2.6 0a1.3 1.3 0 1 0 -2.6 0M195.0 70.0a1.3 1.3 0 1 0 2.6 0a1.3 1.3 0 1 0 -2.6 0M197.9 70.3a1.3 1.3 0 1 0 2.6 0a1.3 1.3 0 1 0 -2.6 0M200.4 71.6a1.3 1.3 0 1 0 2.6 0a1.3 1.3 0 1 0 -2.6 0M197.8 72.6a1.3 1.3 0 1 0 2.6 0a1.3 1.3 0 1 0 -2.6 0M199.2 72.9a1.3 1.3 0 1 0 2.6 0a1.3 1.3 0 1 0 -2.6 0M196.4 75.1a1.3 1.3 0 1 0 2.6 0a1.3 1.3 0 1 0 -2.6 0M204.0 73.8a1.3 1.3 0 1 0 2.6 0a1.3 1.3 0 1 0 -2.6 0M194.2 70.6a1.3 1.3 0 1 0 2.6 0a1.3 1.3 0 1 0 -2.6 0M203.2 78.2a1.3 1.3 0 1 0 2.6 0a1.3 1.3 0 1 0 -2.6 0M200.1 74.2a1.3 1.3 0 1 0 2.6 0a1.3 1.3 0 1 0 -2.6 0M194.5 67.8a1.3 1.3 0 1 0 2.6 0a1.3 1.3 0 1 0 -2.6 0M204.6 80.1a1.3 1.3 0 1 0 2.6 0a1.3 1.3 0 1 0 -2.6 0M203.0 78.3a1.3 1.3 0 1 0 2.6 0a1.3 1.3 0 1 0 -2.6 0M204.6 82.5a1.3 1.3 0 1 0 2.6 0a1.3 1.3 0 1 0 -2.6 0M194.2 73.6a1.3 1.3 0 1 0 2.6 0a1.3 1.3 0 1 0 -2.6 0M203.5 78.9a1.3 1.3 0 1 0 2.6 0a1.3 1.3 0 1 0 -2.6 0M199.3 75.3a1.3 1.3 0 1 0 2.6 0a1.3 1.3 0 1 0 -2.6 0M197.9 72.2a1.3 1.3 0 1 0 2.6 0a1.3 1.3 0 1 0 -2.6 0M199.9 74.9a1.3 1.3 0 1 0 2.6 0a1.3 1.3 0 1 0 -2.6 0M196.8 71.4a1.3 1.3 0 1 0 2.6 0a1.3 1.3 0 1 0 -2.6 0M193.5 93.8a1.3 1.3 0 1 0 2.6 0a1.3 1.3 0 1 0 -2.6 0M194.0 98.8a1.3 1.3 0 1 0 2.6 0a1.3 1.3 0 1 0 -2.6 0M201.7 103.2a1.3 1.3 0 1 0 2.6 0a1.3 1.3 0 1 0 -2.6 0M194.3 131.7a1.3 1.3 0 1 0 2.6 0a1.3 1.3 0 1 0 -2.6 0M223.9 122.3a1.3 1.3 0 1 0 2.6 0a1.3 1.3 0 1 0 -2.6 0M225.2 130.0a1.3 1.3 0 1 0 2.6 0a1.3 1.3 0 1 0 -2.6 0M251.9 116.0a1.3 1.3 0 1 0 2.6 0a1.3 1.3 0 1 0 -2.6 0M262.6 120.7a1.3 1.3 0 1 0 2.6 0a1.3 1.3 0 1 0 -2.6 0M223.1 104.2a1.3 1.3 0 1 0 2.6 0a1.3 1.3 0 1 0 -2.6 0M254.2 136.1a1.3 1.3 0 1 0 2.6 0a1.3 1.3 0 1 0 -2.6 0M258.0 130.9a1.3 1.3 0 1 0 2.6 0a1.3 1.3 0 1 0 -2.6 0M259.0 136.7a1.3 1.3 0 1 0 2.6 0a1.3 1.3 0 1 0 -2.6 0M256.2 128.8a1.3 1.3 0 1 0 2.6 0a1.3 1.3 0 1 0 -2.6 0M258.7 129.9a1.3 1.3 0 1 0 2.6 0a1.3 1.3 0 1 0 -2.6 0M254.6 129.2a1.3 1.3 0 1 0 2.6 0a1.3 1.3 0 1 0 -2.6 0M254.0 129.6a1.3 1.3 0 1 0 2.6 0a1.3 1.3 0 1 0 -2.6 0M256.6 130.6a1.3 1.3 0 1 0 2.6 0a1.3 1.3 0 1 0 -2.6 0M261.0 130.4a1.3 1.3 0 1 0 2.6 0a1.3 1.3 0 1 0 -2.6 0M258.5 129.3a1.3 1.3 0 1 0 2.6 0a1.3 1.3 0 1 0 -2.6 0M257.0 127.7a1.3 1.3 0 1 0 2.6 0a1.3 1.3 0 1 0 -2.6 0M256.0 127.7a1.3 1.3 0 1 0 2.6 0a1.3 1.3 0 1 0 -2.6 0M260.8 133.0a1.3 1.3 0 1 0 2.6 0a1.3 1.3 0 1 0 -2.6 0M255.4 132.3a1.3 1.3 0 1 0 2.6 0a1.3 1.3 0 1 0 -2.6 0M283.6 64.4a1.3 1.3 0 1 0 2.6 0a1.3 1.3 0 1 0 -2.6 0M291.0 65.2a1.3 1.3 0 1 0 2.6 0a1.3 1.3 0 1 0 -2.6 0M287.8 72.6a1.3 1.3 0 1 0 2.6 0a1.3 1.3 0 1 0 -2.6 0M293.5 75.1a1.3 1.3 0 1 0 2.6 0a1.3 1.3 0 1 0 -2.6 0M291.9 78.4a1.3 1.3 0 1 0 2.6 0a1.3 1.3 0 1 0 -2.6 0M284.5 80.9a1.3 1.3 0 1 0 2.6 0a1.3 1.3 0 1 0 -2.6 0M286.1 82.5a1.3 1.3 0 1 0 2.6 0a1.3 1.3 0 1 0 -2.6 0M291.0 81.7a1.3 1.3 0 1 0 2.6 0a1.3 1.3 0 1 0 -2.6 0M294.3 84.2a1.3 1.3 0 1 0 2.6 0a1.3 1.3 0 1 0 -2.6 0M313.3 57.8a1.3 1.3 0 1 0 2.6 0a1.3 1.3 0 1 0 -2.6 0M311.6 64.1a1.3 1.3 0 1 0 2.6 0a1.3 1.3 0 1 0 -2.6 0M313.3 65.2a1.3 1.3 0 1 0 2.6 0a1.3 1.3 0 1 0 -2.6 0M306.7 69.3a1.3 1.3 0 1 0 2.6 0a1.3 1.3 0 1 0 -2.6 0M308.3 67.7a1.3 1.3 0 1 0 2.6 0a1.3 1.3 0 1 0 -2.6 0M310.8 69.3a1.3 1.3 0 1 0 2.6 0a1.3 1.3 0 1 0 -2.6 0M314.1 67.7a1.3 1.3 0 1 0 2.6 0a1.3 1.3 0 1 0 -2.6 0M309.2 72.6a1.3 1.3 0 1 0 2.6 0a1.3 1.3 0 1 0 -2.6 0M312.4 73.5a1.3 1.3 0 1 0 2.6 0a1.3 1.3 0 1 0 -2.6 0M315.7 71.8a1.3 1.3 0 1 0 2.6 0a1.3 1.3 0 1 0 -2.6 0M317.4 75.1a1.3 1.3 0 1 0 2.6 0a1.3 1.3 0 1 0 -2.6 0M305.0 73.5a1.3 1.3 0 1 0 2.6 0a1.3 1.3 0 1 0 -2.6 0M306.7 78.4a1.3 1.3 0 1 0 2.6 0a1.3 1.3 0 1 0 -2.6 0M309.2 78.4a1.3 1.3 0 1 0 2.6 0a1.3 1.3 0 1 0 -2.6 0M302.6 80.0a1.3 1.3 0 1 0 2.6 0a1.3 1.3 0 1 0 -2.6 0M307.5 81.7a1.3 1.3 0 1 0 2.6 0a1.3 1.3 0 1 0 -2.6 0M313.3 74.3a1.3 1.3 0 1 0 2.6 0a1.3 1.3 0 1 0 -2.6 0M316.6 82.5a1.3 1.3 0 1 0 2.6 0a1.3 1.3 0 1 0 -2.6 0M310.8 83.3a1.3 1.3 0 1 0 2.6 0a1.3 1.3 0 1 0 -2.6 0M323.1 75.1a1.3 1.3 0 1 0 2.6 0a1.3 1.3 0 1 0 -2.6 0M321.5 80.0a1.3 1.3 0 1 0 2.6 0a1.3 1.3 0 1 0 -2.6 0M324.8 82.5a1.3 1.3 0 1 0 2.6 0a1.3 1.3 0 1 0 -2.6 0M327.3 82.5a1.3 1.3 0 1 0 2.6 0a1.3 1.3 0 1 0 -2.6 0M319.9 85.8a1.3 1.3 0 1 0 2.6 0a1.3 1.3 0 1 0 -2.6 0M324.0 87.4a1.3 1.3 0 1 0 2.6 0a1.3 1.3 0 1 0 -2.6 0M319.9 89.1a1.3 1.3 0 1 0 2.6 0a1.3 1.3 0 1 0 -2.6 0M333.0 73.5a1.3 1.3 0 1 0 2.6 0a1.3 1.3 0 1 0 -2.6 0M338.8 64.4a1.3 1.3 0 1 0 2.6 0a1.3 1.3 0 1 0 -2.6 0M338.8 70.2a1.3 1.3 0 1 0 2.6 0a1.3 1.3 0 1 0 -2.6 0M342.1 73.5a1.3 1.3 0 1 0 2.6 0a1.3 1.3 0 1 0 -2.6 0M342.9 76.7a1.3 1.3 0 1 0 2.6 0a1.3 1.3 0 1 0 -2.6 0M337.1 79.2a1.3 1.3 0 1 0 2.6 0a1.3 1.3 0 1 0 -2.6 0M340.4 80.9a1.3 1.3 0 1 0 2.6 0a1.3 1.3 0 1 0 -2.6 0M338.0 83.3a1.3 1.3 0 1 0 2.6 0a1.3 1.3 0 1 0 -2.6 0M344.5 82.5a1.3 1.3 0 1 0 2.6 0a1.3 1.3 0 1 0 -2.6 0M347.8 80.9a1.3 1.3 0 1 0 2.6 0a1.3 1.3 0 1 0 -2.6 0M349.5 84.2a1.3 1.3 0 1 0 2.6 0a1.3 1.3 0 1 0 -2.6 0M351.1 85.0a1.3 1.3 0 1 0 2.6 0a1.3 1.3 0 1 0 -2.6 0M350.3 56.2a1.3 1.3 0 1 0 2.6 0a1.3 1.3 0 1 0 -2.6 0M350.3 57.8a1.3 1.3 0 1 0 2.6 0a1.3 1.3 0 1 0 -2.6 0M351.1 63.6a1.3 1.3 0 1 0 2.6 0a1.3 1.3 0 1 0 -2.6 0M349.5 70.2a1.3 1.3 0 1 0 2.6 0a1.3 1.3 0 1 0 -2.6 0M348.7 87.4a1.3 1.3 0 1 0 2.6 0a1.3 1.3 0 1 0 -2.6 0M350.3 89.9a1.3 1.3 0 1 0 2.6 0a1.3 1.3 0 1 0 -2.6 0M288.6 100.4a1.3 1.3 0 1 0 2.6 0a1.3 1.3 0 1 0 -2.6 0M283.6 107.0a1.3 1.3 0 1 0 2.6 0a1.3 1.3 0 1 0 -2.6 0M286.1 108.6a1.3 1.3 0 1 0 2.6 0a1.3 1.3 0 1 0 -2.6 0M286.9 110.3a1.3 1.3 0 1 0 2.6 0a1.3 1.3 0 1 0 -2.6 0M292.7 104.5a1.3 1.3 0 1 0 2.6 0a1.3 1.3 0 1 0 -2.6 0M293.5 107.8a1.3 1.3 0 1 0 2.6 0a1.3 1.3 0 1 0 -2.6 0M288.6 114.4a1.3 1.3 0 1 0 2.6 0a1.3 1.3 0 1 0 -2.6 0M286.1 118.5a1.3 1.3 0 1 0 2.6 0a1.3 1.3 0 1 0 -2.6 0M303.4 109.1a1.3 1.3 0 1 0 2.6 0a1.3 1.3 0 1 0 -2.6 0M307.5 110.3a1.3 1.3 0 1 0 2.6 0a1.3 1.3 0 1 0 -2.6 0M312.4 102.1a1.3 1.3 0 1 0 2.6 0a1.3 1.3 0 1 0 -2.6 0M322.3 101.6a1.3 1.3 0 1 0 2.6 0a1.3 1.3 0 1 0 -2.6 0M320.7 111.1a1.3 1.3 0 1 0 2.6 0a1.3 1.3 0 1 0 -2.6 0M305.0 118.5a1.3 1.3 0 1 0 2.6 0a1.3 1.3 0 1 0 -2.6 0M306.7 127.9a1.3 1.3 0 1 0 2.6 0a1.3 1.3 0 1 0 -2.6 0M322.8 123.5a1.3 1.3 0 1 0 2.6 0a1.3 1.3 0 1 0 -2.6 0M313.3 133.8a1.3 1.3 0 1 0 2.6 0a1.3 1.3 0 1 0 -2.6 0M320.7 138.8a1.3 1.3 0 1 0 2.6 0a1.3 1.3 0 1 0 -2.6 0M290.2 132.5a1.3 1.3 0 1 0 2.6 0a1.3 1.3 0 1 0 -2.6 0M328.9 107.8a1.3 1.3 0 1 0 2.6 0a1.3 1.3 0 1 0 -2.6 0M330.6 110.3a1.3 1.3 0 1 0 2.6 0a1.3 1.3 0 1 0 -2.6 0M333.8 102.1a1.3 1.3 0 1 0 2.6 0a1.3 1.3 0 1 0 -2.6 0M334.7 103.7a1.3 1.3 0 1 0 2.6 0a1.3 1.3 0 1 0 -2.6 0M333.0 108.6a1.3 1.3 0 1 0 2.6 0a1.3 1.3 0 1 0 -2.6 0M336.3 109.5a1.3 1.3 0 1 0 2.6 0a1.3 1.3 0 1 0 -2.6 0M339.6 109.5a1.3 1.3 0 1 0 2.6 0a1.3 1.3 0 1 0 -2.6 0M338.0 96.3a1.3 1.3 0 1 0 2.6 0a1.3 1.3 0 1 0 -2.6 0M338.8 94.6a1.3 1.3 0 1 0 2.6 0a1.3 1.3 0 1 0 -2.6 0M344.5 115.2a1.3 1.3 0 1 0 2.6 0a1.3 1.3 0 1 0 -2.6 0M347.8 110.3a1.3 1.3 0 1 0 2.6 0a1.3 1.3 0 1 0 -2.6 0M351.1 109.5a1.3 1.3 0 1 0 2.6 0a1.3 1.3 0 1 0 -2.6 0M351.1 104.5a1.3 1.3 0 1 0 2.6 0a1.3 1.3 0 1 0 -2.6 0M351.1 97.9a1.3 1.3 0 1 0 2.6 0a1.3 1.3 0 1 0 -2.6 0M352.8 94.6a1.3 1.3 0 1 0 2.6 0a1.3 1.3 0 1 0 -2.6 0M347.8 140.7a1.3 1.3 0 1 0 2.6 0a1.3 1.3 0 1 0 -2.6 0M373.3 56.5a1.3 1.3 0 1 0 2.6 0a1.3 1.3 0 1 0 -2.6 0M376.3 63.6a1.3 1.3 0 1 0 2.6 0a1.3 1.3 0 1 0 -2.6 0M379.6 64.4a1.3 1.3 0 1 0 2.6 0a1.3 1.3 0 1 0 -2.6 0M384.5 66.0a1.3 1.3 0 1 0 2.6 0a1.3 1.3 0 1 0 -2.6 0M378.8 67.7a1.3 1.3 0 1 0 2.6 0a1.3 1.3 0 1 0 -2.6 0M382.9 68.5a1.3 1.3 0 1 0 2.6 0a1.3 1.3 0 1 0 -2.6 0M406.7 63.6a1.3 1.3 0 1 0 2.6 0a1.3 1.3 0 1 0 -2.6 0M405.9 65.7a1.3 1.3 0 1 0 2.6 0a1.3 1.3 0 1 0 -2.6 0M394.1 77.2a1.3 1.3 0 1 0 2.6 0a1.3 1.3 0 1 0 -2.6 0M393.6 82.5a1.3 1.3 0 1 0 2.6 0a1.3 1.3 0 1 0 -2.6 0M395.2 84.2a1.3 1.3 0 1 0 2.6 0a1.3 1.3 0 1 0 -2.6 0M373.8 85.0a1.3 1.3 0 1 0 2.6 0a1.3 1.3 0 1 0 -2.6 0M374.6 91.6a1.3 1.3 0 1 0 2.6 0a1.3 1.3 0 1 0 -2.6 0M394.4 87.4a1.3 1.3 0 1 0 2.6 0a1.3 1.3 0 1 0 -2.6 0M375.9 64.8a1.3 1.3 0 1 0 2.6 0a1.3 1.3 0 1 0 -2.6 0M378.7 68.2a1.3 1.3 0 1 0 2.6 0a1.3 1.3 0 1 0 -2.6 0M381.7 73.1a1.3 1.3 0 1 0 2.6 0a1.3 1.3 0 1 0 -2.6 0M383.5 75.2a1.3 1.3 0 1 0 2.6 0a1.3 1.3 0 1 0 -2.6 0M383.1 78.9a1.3 1.3 0 1 0 2.6 0a1.3 1.3 0 1 0 -2.6 0M379.6 69.8a1.3 1.3 0 1 0 2.6 0a1.3 1.3 0 1 0 -2.6 0M386.0 66.9a1.3 1.3 0 1 0 2.6 0a1.3 1.3 0 1 0 -2.6 0M383.2 75.0a1.3 1.3 0 1 0 2.6 0a1.3 1.3 0 1 0 -2.6 0M375.9 78.1a1.3 1.3 0 1 0 2.6 0a1.3 1.3 0 1 0 -2.6 0M385.0 74.7a1.3 1.3 0 1 0 2.6 0a1.3 1.3 0 1 0 -2.6 0M383.3 77.8a1.3 1.3 0 1 0 2.6 0a1.3 1.3 0 1 0 -2.6 0M377.0 73.0a1.3 1.3 0 1 0 2.6 0a1.3 1.3 0 1 0 -2.6 0M380.9 78.1a1.3 1.3 0 1 0 2.6 0a1.3 1.3 0 1 0 -2.6 0M384.1 78.0a1.3 1.3 0 1 0 2.6 0a1.3 1.3 0 1 0 -2.6 0M381.7 79.1a1.3 1.3 0 1 0 2.6 0a1.3 1.3 0 1 0 -2.6 0M382.8 75.8a1.3 1.3 0 1 0 2.6 0a1.3 1.3 0 1 0 -2.6 0M377.9 64.9a1.3 1.3 0 1 0 2.6 0a1.3 1.3 0 1 0 -2.6 0M376.9 70.3a1.3 1.3 0 1 0 2.6 0a1.3 1.3 0 1 0 -2.6 0M376.6 78.2a1.3 1.3 0 1 0 2.6 0a1.3 1.3 0 1 0 -2.6 0M381.4 74.7a1.3 1.3 0 1 0 2.6 0a1.3 1.3 0 1 0 -2.6 0M382.2 75.6a1.3 1.3 0 1 0 2.6 0a1.3 1.3 0 1 0 -2.6 0M380.7 64.5a1.3 1.3 0 1 0 2.6 0a1.3 1.3 0 1 0 -2.6 0M384.0 76.7a1.3 1.3 0 1 0 2.6 0a1.3 1.3 0 1 0 -2.6 0M380.8 73.2a1.3 1.3 0 1 0 2.6 0a1.3 1.3 0 1 0 -2.6 0M382.5 65.5a1.3 1.3 0 1 0 2.6 0a1.3 1.3 0 1 0 -2.6 0M383.3 68.6a1.3 1.3 0 1 0 2.6 0a1.3 1.3 0 1 0 -2.6 0M376.3 68.8a1.3 1.3 0 1 0 2.6 0a1.3 1.3 0 1 0 -2.6 0M383.3 67.8a1.3 1.3 0 1 0 2.6 0a1.3 1.3 0 1 0 -2.6 0M383.4 80.5a1.3 1.3 0 1 0 2.6 0a1.3 1.3 0 1 0 -2.6 0M380.7 70.7a1.3 1.3 0 1 0 2.6 0a1.3 1.3 0 1 0 -2.6 0M380.6 75.7a1.3 1.3 0 1 0 2.6 0a1.3 1.3 0 1 0 -2.6 0M383.7 74.6a1.3 1.3 0 1 0 2.6 0a1.3 1.3 0 1 0 -2.6 0M382.3 65.7a1.3 1.3 0 1 0 2.6 0a1.3 1.3 0 1 0 -2.6 0M377.0 68.6a1.3 1.3 0 1 0 2.6 0a1.3 1.3 0 1 0 -2.6 0M383.4 69.4a1.3 1.3 0 1 0 2.6 0a1.3 1.3 0 1 0 -2.6 0M375.5 102.1a1.3 1.3 0 1 0 2.6 0a1.3 1.3 0 1 0 -2.6 0M374.3 103.2a1.3 1.3 0 1 0 2.6 0a1.3 1.3 0 1 0 -2.6 0M374.6 114.9a1.3 1.3 0 1 0 2.6 0a1.3 1.3 0 1 0 -2.6 0M406.2 116.9a1.3 1.3 0 1 0 2.6 0a1.3 1.3 0 1 0 -2.6 0M405.1 121.3a1.3 1.3 0 1 0 2.6 0a1.3 1.3 0 1 0 -2.6 0M406.7 131.4a1.3 1.3 0 1 0 2.6 0a1.3 1.3 0 1 0 -2.6 0M433.1 117.7a1.3 1.3 0 1 0 2.6 0a1.3 1.3 0 1 0 -2.6 0M433.9 119.3a1.3 1.3 0 1 0 2.6 0a1.3 1.3 0 1 0 -2.6 0M442.1 126.7a1.3 1.3 0 1 0 2.6 0a1.3 1.3 0 1 0 -2.6 0M466.5 52.1a1.3 1.3 0 1 0 2.6 0a1.3 1.3 0 1 0 -2.6 0M464.3 61.4a1.3 1.3 0 1 0 2.6 0a1.3 1.3 0 1 0 -2.6 0M467.0 61.4a1.3 1.3 0 1 0 2.6 0a1.3 1.3 0 1 0 -2.6 0M471.4 61.9a1.3 1.3 0 1 0 2.6 0a1.3 1.3 0 1 0 -2.6 0M473.9 63.6a1.3 1.3 0 1 0 2.6 0a1.3 1.3 0 1 0 -2.6 0M467.3 64.4a1.3 1.3 0 1 0 2.6 0a1.3 1.3 0 1 0 -2.6 0M468.1 68.5a1.3 1.3 0 1 0 2.6 0a1.3 1.3 0 1 0 -2.6 0M471.4 68.5a1.3 1.3 0 1 0 2.6 0a1.3 1.3 0 1 0 -2.6 0M465.6 70.2a1.3 1.3 0 1 0 2.6 0a1.3 1.3 0 1 0 -2.6 0M473.9 90.7a1.3 1.3 0 1 0 2.6 0a1.3 1.3 0 1 0 -2.6 0M484.6 89.1a1.3 1.3 0 1 0 2.6 0a1.3 1.3 0 1 0 -2.6 0M487.0 91.6a1.3 1.3 0 1 0 2.6 0a1.3 1.3 0 1 0 -2.6 0M476.3 82.2a1.3 1.3 0 1 0 2.6 0a1.3 1.3 0 1 0 -2.6 0M476.0 74.6a1.3 1.3 0 1 0 2.6 0a1.3 1.3 0 1 0 -2.6 0M469.9 76.5a1.3 1.3 0 1 0 2.6 0a1.3 1.3 0 1 0 -2.6 0M477.1 80.0a1.3 1.3 0 1 0 2.6 0a1.3 1.3 0 1 0 -2.6 0M469.8 77.1a1.3 1.3 0 1 0 2.6 0a1.3 1.3 0 1 0 -2.6 0M468.8 70.2a1.3 1.3 0 1 0 2.6 0a1.3 1.3 0 1 0 -2.6 0M466.8 84.5a1.3 1.3 0 1 0 2.6 0a1.3 1.3 0 1 0 -2.6 0M468.9 86.3a1.3 1.3 0 1 0 2.6 0a1.3 1.3 0 1 0 -2.6 0M468.5 74.1a1.3 1.3 0 1 0 2.6 0a1.3 1.3 0 1 0 -2.6 0M471.5 72.8a1.3 1.3 0 1 0 2.6 0a1.3 1.3 0 1 0 -2.6 0M469.9 86.7a1.3 1.3 0 1 0 2.6 0a1.3 1.3 0 1 0 -2.6 0M475.8 84.0a1.3 1.3 0 1 0 2.6 0a1.3 1.3 0 1 0 -2.6 0M472.9 85.9a1.3 1.3 0 1 0 2.6 0a1.3 1.3 0 1 0 -2.6 0M476.5 79.3a1.3 1.3 0 1 0 2.6 0a1.3 1.3 0 1 0 -2.6 0M473.9 70.2a1.3 1.3 0 1 0 2.6 0a1.3 1.3 0 1 0 -2.6 0M474.1 77.5a1.3 1.3 0 1 0 2.6 0a1.3 1.3 0 1 0 -2.6 0M474.3 81.0a1.3 1.3 0 1 0 2.6 0a1.3 1.3 0 1 0 -2.6 0M468.9 70.2a1.3 1.3 0 1 0 2.6 0a1.3 1.3 0 1 0 -2.6 0M476.3 71.6a1.3 1.3 0 1 0 2.6 0a1.3 1.3 0 1 0 -2.6 0M471.1 75.6a1.3 1.3 0 1 0 2.6 0a1.3 1.3 0 1 0 -2.6 0M469.1 82.7a1.3 1.3 0 1 0 2.6 0a1.3 1.3 0 1 0 -2.6 0M476.9 74.0a1.3 1.3 0 1 0 2.6 0a1.3 1.3 0 1 0 -2.6 0M473.2 74.8a1.3 1.3 0 1 0 2.6 0a1.3 1.3 0 1 0 -2.6 0M472.1 76.5a1.3 1.3 0 1 0 2.6 0a1.3 1.3 0 1 0 -2.6 0M467.6 72.3a1.3 1.3 0 1 0 2.6 0a1.3 1.3 0 1 0 -2.6 0M468.0 85.7a1.3 1.3 0 1 0 2.6 0a1.3 1.3 0 1 0 -2.6 0M471.4 73.3a1.3 1.3 0 1 0 2.6 0a1.3 1.3 0 1 0 -2.6 0M476.1 87.4a1.3 1.3 0 1 0 2.6 0a1.3 1.3 0 1 0 -2.6 0M470.8 71.9a1.3 1.3 0 1 0 2.6 0a1.3 1.3 0 1 0 -2.6 0M467.9 71.0a1.3 1.3 0 1 0 2.6 0a1.3 1.3 0 1 0 -2.6 0M469.6 71.0a1.3 1.3 0 1 0 2.6 0a1.3 1.3 0 1 0 -2.6 0M468.4 74.0a1.3 1.3 0 1 0 2.6 0a1.3 1.3 0 1 0 -2.6 0M472.2 85.4a1.3 1.3 0 1 0 2.6 0a1.3 1.3 0 1 0 -2.6 0M474.3 76.8a1.3 1.3 0 1 0 2.6 0a1.3 1.3 0 1 0 -2.6 0M470.4 78.8a1.3 1.3 0 1 0 2.6 0a1.3 1.3 0 1 0 -2.6 0M465.3 102.1a1.3 1.3 0 1 0 2.6 0a1.3 1.3 0 1 0 -2.6 0M474.7 99.9a1.3 1.3 0 1 0 2.6 0a1.3 1.3 0 1 0 -2.6 0M464.8 111.9a1.3 1.3 0 1 0 2.6 0a1.3 1.3 0 1 0 -2.6 0M475.5 117.7a1.3 1.3 0 1 0 2.6 0a1.3 1.3 0 1 0 -2.6 0M497.2 116.9a1.3 1.3 0 1 0 2.6 0a1.3 1.3 0 1 0 -2.6 0M496.9 121.0a1.3 1.3 0 1 0 2.6 0a1.3 1.3 0 1 0 -2.6 0M496.1 122.6a1.3 1.3 0 1 0 2.6 0a1.3 1.3 0 1 0 -2.6 0M524.1 121.0a1.3 1.3 0 1 0 2.6 0a1.3 1.3 0 1 0 -2.6 0M524.9 128.4a1.3 1.3 0 1 0 2.6 0a1.3 1.3 0 1 0 -2.6 0M557.3 49.6a1.3 1.3 0 1 0 2.6 0a1.3 1.3 0 1 0 -2.6 0M556.5 53.7a1.3 1.3 0 1 0 2.6 0a1.3 1.3 0 1 0 -2.6 0M562.2 64.1a1.3 1.3 0 1 0 2.6 0a1.3 1.3 0 1 0 -2.6 0M565.5 69.0a1.3 1.3 0 1 0 2.6 0a1.3 1.3 0 1 0 -2.6 0M586.1 63.6a1.3 1.3 0 1 0 2.6 0a1.3 1.3 0 1 0 -2.6 0M575.4 85.0a1.3 1.3 0 1 0 2.6 0a1.3 1.3 0 1 0 -2.6 0M560.6 82.5a1.3 1.3 0 1 0 2.6 0a1.3 1.3 0 1 0 -2.6 0M563.0 87.4a1.3 1.3 0 1 0 2.6 0a1.3 1.3 0 1 0 -2.6 0M557.3 63.6a1.3 1.3 0 1 0 2.6 0a1.3 1.3 0 1 0 -2.6 0M559.4 71.3a1.3 1.3 0 1 0 2.6 0a1.3 1.3 0 1 0 -2.6 0M559.4 69.2a1.3 1.3 0 1 0 2.6 0a1.3 1.3 0 1 0 -2.6 0M558.8 70.3a1.3 1.3 0 1 0 2.6 0a1.3 1.3 0 1 0 -2.6 0M557.8 69.7a1.3 1.3 0 1 0 2.6 0a1.3 1.3 0 1 0 -2.6 0M556.1 72.5a1.3 1.3 0 1 0 2.6 0a1.3 1.3 0 1 0 -2.6 0M565.0 77.5a1.3 1.3 0 1 0 2.6 0a1.3 1.3 0 1 0 -2.6 0M555.1 62.3a1.3 1.3 0 1 0 2.6 0a1.3 1.3 0 1 0 -2.6 0M560.7 72.2a1.3 1.3 0 1 0 2.6 0a1.3 1.3 0 1 0 -2.6 0M562.6 69.7a1.3 1.3 0 1 0 2.6 0a1.3 1.3 0 1 0 -2.6 0M566.0 77.7a1.3 1.3 0 1 0 2.6 0a1.3 1.3 0 1 0 -2.6 0M557.9 68.5a1.3 1.3 0 1 0 2.6 0a1.3 1.3 0 1 0 -2.6 0M565.4 74.4a1.3 1.3 0 1 0 2.6 0a1.3 1.3 0 1 0 -2.6 0M562.7 73.0a1.3 1.3 0 1 0 2.6 0a1.3 1.3 0 1 0 -2.6 0M564.3 74.1a1.3 1.3 0 1 0 2.6 0a1.3 1.3 0 1 0 -2.6 0M560.2 67.5a1.3 1.3 0 1 0 2.6 0a1.3 1.3 0 1 0 -2.6 0M559.8 70.6a1.3 1.3 0 1 0 2.6 0a1.3 1.3 0 1 0 -2.6 0M562.2 73.9a1.3 1.3 0 1 0 2.6 0a1.3 1.3 0 1 0 -2.6 0M554.2 65.9a1.3 1.3 0 1 0 2.6 0a1.3 1.3 0 1 0 -2.6 0M560.2 73.2a1.3 1.3 0 1 0 2.6 0a1.3 1.3 0 1 0 -2.6 0M555.2 67.1a1.3 1.3 0 1 0 2.6 0a1.3 1.3 0 1 0 -2.6 0M563.8 76.7a1.3 1.3 0 1 0 2.6 0a1.3 1.3 0 1 0 -2.6 0M560.8 73.5a1.3 1.3 0 1 0 2.6 0a1.3 1.3 0 1 0 -2.6 0M565.5 78.1a1.3 1.3 0 1 0 2.6 0a1.3 1.3 0 1 0 -2.6 0M553.4 65.6a1.3 1.3 0 1 0 2.6 0a1.3 1.3 0 1 0 -2.6 0M560.0 73.9a1.3 1.3 0 1 0 2.6 0a1.3 1.3 0 1 0 -2.6 0M565.6 79.4a1.3 1.3 0 1 0 2.6 0a1.3 1.3 0 1 0 -2.6 0M557.1 71.4a1.3 1.3 0 1 0 2.6 0a1.3 1.3 0 1 0 -2.6 0M558.5 65.6a1.3 1.3 0 1 0 2.6 0a1.3 1.3 0 1 0 -2.6 0M562.2 76.9a1.3 1.3 0 1 0 2.6 0a1.3 1.3 0 1 0 -2.6 0M559.5 68.8a1.3 1.3 0 1 0 2.6 0a1.3 1.3 0 1 0 -2.6 0M558.1 67.1a1.3 1.3 0 1 0 2.6 0a1.3 1.3 0 1 0 -2.6 0M564.8 79.4a1.3 1.3 0 1 0 2.6 0a1.3 1.3 0 1 0 -2.6 0M555.9 69.7a1.3 1.3 0 1 0 2.6 0a1.3 1.3 0 1 0 -2.6 0M566.8 80.6a1.3 1.3 0 1 0 2.6 0a1.3 1.3 0 1 0 -2.6 0M558.8 68.2a1.3 1.3 0 1 0 2.6 0a1.3 1.3 0 1 0 -2.6 0M564.7 97.6a1.3 1.3 0 1 0 2.6 0a1.3 1.3 0 1 0 -2.6 0M601.4 97.9a1.3 1.3 0 1 0 2.6 0a1.3 1.3 0 1 0 -2.6 0M585.3 104.9a1.3 1.3 0 1 0 2.6 0a1.3 1.3 0 1 0 -2.6 0M587.7 117.7a1.3 1.3 0 1 0 2.6 0a1.3 1.3 0 1 0 -2.6 0M588.6 116.9a1.3 1.3 0 1 0 2.6 0a1.3 1.3 0 1 0 -2.6 0M586.6 128.4a1.3 1.3 0 1 0 2.6 0a1.3 1.3 0 1 0 -2.6 0M614.9 117.7a1.3 1.3 0 1 0 2.6 0a1.3 1.3 0 1 0 -2.6 0M614.9 132.5a1.3 1.3 0 1 0 2.6 0a1.3 1.3 0 1 0 -2.6 0M614.9 137.8a1.3 1.3 0 1 0 2.6 0a1.3 1.3 0 1 0 -2.6 0M597.6 113.6a1.3 1.3 0 1 0 2.6 0a1.3 1.3 0 1 0 -2.6 0M646.3 62.4a1.3 1.3 0 1 0 2.6 0a1.3 1.3 0 1 0 -2.6 0M648.3 63.1a1.3 1.3 0 1 0 2.6 0a1.3 1.3 0 1 0 -2.6 0M653.2 64.1a1.3 1.3 0 1 0 2.6 0a1.3 1.3 0 1 0 -2.6 0M655.7 63.1a1.3 1.3 0 1 0 2.6 0a1.3 1.3 0 1 0 -2.6 0M657.3 62.4a1.3 1.3 0 1 0 2.6 0a1.3 1.3 0 1 0 -2.6 0M677.9 63.1a1.3 1.3 0 1 0 2.6 0a1.3 1.3 0 1 0 -2.6 0M679.6 63.6a1.3 1.3 0 1 0 2.6 0a1.3 1.3 0 1 0 -2.6 0M678.2 66.0a1.3 1.3 0 1 0 2.6 0a1.3 1.3 0 1 0 -2.6 0M691.1 60.8a1.3 1.3 0 1 0 2.6 0a1.3 1.3 0 1 0 -2.6 0M646.6 80.9a1.3 1.3 0 1 0 2.6 0a1.3 1.3 0 1 0 -2.6 0M647.5 88.3a1.3 1.3 0 1 0 2.6 0a1.3 1.3 0 1 0 -2.6 0M654.9 82.5a1.3 1.3 0 1 0 2.6 0a1.3 1.3 0 1 0 -2.6 0M648.0 68.2a1.3 1.3 0 1 0 2.6 0a1.3 1.3 0 1 0 -2.6 0M658.9 77.6a1.3 1.3 0 1 0 2.6 0a1.3 1.3 0 1 0 -2.6 0M659.5 80.2a1.3 1.3 0 1 0 2.6 0a1.3 1.3 0 1 0 -2.6 0M650.6 68.4a1.3 1.3 0 1 0 2.6 0a1.3 1.3 0 1 0 -2.6 0M645.4 65.9a1.3 1.3 0 1 0 2.6 0a1.3 1.3 0 1 0 -2.6 0M649.9 73.0a1.3 1.3 0 1 0 2.6 0a1.3 1.3 0 1 0 -2.6 0M645.6 68.4a1.3 1.3 0 1 0 2.6 0a1.3 1.3 0 1 0 -2.6 0M660.6 83.2a1.3 1.3 0 1 0 2.6 0a1.3 1.3 0 1 0 -2.6 0M646.5 72.2a1.3 1.3 0 1 0 2.6 0a1.3 1.3 0 1 0 -2.6 0M655.5 78.6a1.3 1.3 0 1 0 2.6 0a1.3 1.3 0 1 0 -2.6 0M649.1 76.1a1.3 1.3 0 1 0 2.6 0a1.3 1.3 0 1 0 -2.6 0M645.9 72.2a1.3 1.3 0 1 0 2.6 0a1.3 1.3 0 1 0 -2.6 0M643.6 68.9a1.3 1.3 0 1 0 2.6 0a1.3 1.3 0 1 0 -2.6 0M655.7 77.7a1.3 1.3 0 1 0 2.6 0a1.3 1.3 0 1 0 -2.6 0M647.7 67.1a1.3 1.3 0 1 0 2.6 0a1.3 1.3 0 1 0 -2.6 0M656.2 76.4a1.3 1.3 0 1 0 2.6 0a1.3 1.3 0 1 0 -2.6 0M651.4 70.1a1.3 1.3 0 1 0 2.6 0a1.3 1.3 0 1 0 -2.6 0M648.8 69.1a1.3 1.3 0 1 0 2.6 0a1.3 1.3 0 1 0 -2.6 0M652.0 70.8a1.3 1.3 0 1 0 2.6 0a1.3 1.3 0 1 0 -2.6 0M654.5 76.8a1.3 1.3 0 1 0 2.6 0a1.3 1.3 0 1 0 -2.6 0M646.3 69.1a1.3 1.3 0 1 0 2.6 0a1.3 1.3 0 1 0 -2.6 0M659.2 79.8a1.3 1.3 0 1 0 2.6 0a1.3 1.3 0 1 0 -2.6 0M647.2 71.2a1.3 1.3 0 1 0 2.6 0a1.3 1.3 0 1 0 -2.6 0M658.5 82.6a1.3 1.3 0 1 0 2.6 0a1.3 1.3 0 1 0 -2.6 0M656.2 74.7a1.3 1.3 0 1 0 2.6 0a1.3 1.3 0 1 0 -2.6 0M652.6 76.6a1.3 1.3 0 1 0 2.6 0a1.3 1.3 0 1 0 -2.6 0M650.4 71.3a1.3 1.3 0 1 0 2.6 0a1.3 1.3 0 1 0 -2.6 0M648.3 68.4a1.3 1.3 0 1 0 2.6 0a1.3 1.3 0 1 0 -2.6 0M648.7 68.2a1.3 1.3 0 1 0 2.6 0a1.3 1.3 0 1 0 -2.6 0M653.2 71.0a1.3 1.3 0 1 0 2.6 0a1.3 1.3 0 1 0 -2.6 0M657.9 81.4a1.3 1.3 0 1 0 2.6 0a1.3 1.3 0 1 0 -2.6 0M644.4 68.2a1.3 1.3 0 1 0 2.6 0a1.3 1.3 0 1 0 -2.6 0M651.5 74.8a1.3 1.3 0 1 0 2.6 0a1.3 1.3 0 1 0 -2.6 0M652.2 73.1a1.3 1.3 0 1 0 2.6 0a1.3 1.3 0 1 0 -2.6 0M655.8 78.0a1.3 1.3 0 1 0 2.6 0a1.3 1.3 0 1 0 -2.6 0M655.6 80.7a1.3 1.3 0 1 0 2.6 0a1.3 1.3 0 1 0 -2.6 0M650.3 71.0a1.3 1.3 0 1 0 2.6 0a1.3 1.3 0 1 0 -2.6 0M648.9 71.3a1.3 1.3 0 1 0 2.6 0a1.3 1.3 0 1 0 -2.6 0M655.4 78.5a1.3 1.3 0 1 0 2.6 0a1.3 1.3 0 1 0 -2.6 0M652.7 72.3a1.3 1.3 0 1 0 2.6 0a1.3 1.3 0 1 0 -2.6 0M655.7 93.8a1.3 1.3 0 1 0 2.6 0a1.3 1.3 0 1 0 -2.6 0M666.4 100.4a1.3 1.3 0 1 0 2.6 0a1.3 1.3 0 1 0 -2.6 0M676.3 105.3a1.3 1.3 0 1 0 2.6 0a1.3 1.3 0 1 0 -2.6 0M677.1 102.9a1.3 1.3 0 1 0 2.6 0a1.3 1.3 0 1 0 -2.6 0M656.5 118.5a1.3 1.3 0 1 0 2.6 0a1.3 1.3 0 1 0 -2.6 0M677.1 118.5a1.3 1.3 0 1 0 2.6 0a1.3 1.3 0 1 0 -2.6 0M678.7 118.0a1.3 1.3 0 1 0 2.6 0a1.3 1.3 0 1 0 -2.6 0M705.9 116.0a1.3 1.3 0 1 0 2.6 0a1.3 1.3 0 1 0 -2.6 0M705.9 120.2a1.3 1.3 0 1 0 2.6 0a1.3 1.3 0 1 0 -2.6 0M705.9 122.6a1.3 1.3 0 1 0 2.6 0a1.3 1.3 0 1 0 -2.6 0M705.1 141.6a1.3 1.3 0 1 0 2.6 0a1.3 1.3 0 1 0 -2.6 0M707.6 116.2a1.3 1.3 0 1 0 2.6 0a1.3 1.3 0 1 0 -2.6 0M709.1 126.7a1.3 1.3 0 1 0 2.6 0a1.3 1.3 0 1 0 -2.6 0M707.4 120.9a1.3 1.3 0 1 0 2.6 0a1.3 1.3 0 1 0 -2.6 0M707.6 128.5a1.3 1.3 0 1 0 2.6 0a1.3 1.3 0 1 0 -2.6 0M711.8 117.0a1.3 1.3 0 1 0 2.6 0a1.3 1.3 0 1 0 -2.6 0M706.3 122.2a1.3 1.3 0 1 0 2.6 0a1.3 1.3 0 1 0 -2.6 0M711.9 126.0a1.3 1.3 0 1 0 2.6 0a1.3 1.3 0 1 0 -2.6 0M706.2 118.6a1.3 1.3 0 1 0 2.6 0a1.3 1.3 0 1 0 -2.6 0M713.7 122.5a1.3 1.3 0 1 0 2.6 0a1.3 1.3 0 1 0 -2.6 0M708.6 120.9a1.3 1.3 0 1 0 2.6 0a1.3 1.3 0 1 0 -2.6 0M716.8 120.9a1.3 1.3 0 1 0 2.6 0a1.3 1.3 0 1 0 -2.6 0M712.1 121.6a1.3 1.3 0 1 0 2.6 0a1.3 1.3 0 1 0 -2.6 0M710.2 129.6a1.3 1.3 0 1 0 2.6 0a1.3 1.3 0 1 0 -2.6 0M717.4 121.7a1.3 1.3 0 1 0 2.6 0a1.3 1.3 0 1 0 -2.6 0M707.5 127.4a1.3 1.3 0 1 0 2.6 0a1.3 1.3 0 1 0 -2.6 0M707.6 116.1a1.3 1.3 0 1 0 2.6 0a1.3 1.3 0 1 0 -2.6 0M716.2 122.7a1.3 1.3 0 1 0 2.6 0a1.3 1.3 0 1 0 -2.6 0M715.2 122.4a1.3 1.3 0 1 0 2.6 0a1.3 1.3 0 1 0 -2.6 0M716.0 123.3a1.3 1.3 0 1 0 2.6 0a1.3 1.3 0 1 0 -2.6 0M707.1 116.3a1.3 1.3 0 1 0 2.6 0a1.3 1.3 0 1 0 -2.6 0M711.9 126.1a1.3 1.3 0 1 0 2.6 0a1.3 1.3 0 1 0 -2.6 0M716.3 117.4a1.3 1.3 0 1 0 2.6 0a1.3 1.3 0 1 0 -2.6 0M712.8 121.8a1.3 1.3 0 1 0 2.6 0a1.3 1.3 0 1 0 -2.6 0M711.3 118.3a1.3 1.3 0 1 0 2.6 0a1.3 1.3 0 1 0 -2.6 0M708.6 124.2a1.3 1.3 0 1 0 2.6 0a1.3 1.3 0 1 0 -2.6 0M716.5 117.7a1.3 1.3 0 1 0 2.6 0a1.3 1.3 0 1 0 -2.6 0M103.6 164.9a1.3 1.3 0 1 0 2.6 0a1.3 1.3 0 1 0 -2.6 0M104.6 174.0a1.3 1.3 0 1 0 2.6 0a1.3 1.3 0 1 0 -2.6 0M104.1 174.8a1.3 1.3 0 1 0 2.6 0a1.3 1.3 0 1 0 -2.6 0M107.4 179.8a1.3 1.3 0 1 0 2.6 0a1.3 1.3 0 1 0 -2.6 0M111.5 178.9a1.3 1.3 0 1 0 2.6 0a1.3 1.3 0 1 0 -2.6 0M112.3 183.9a1.3 1.3 0 1 0 2.6 0a1.3 1.3 0 1 0 -2.6 0M109.0 186.3a1.3 1.3 0 1 0 2.6 0a1.3 1.3 0 1 0 -2.6 0M109.9 188.8a1.3 1.3 0 1 0 2.6 0a1.3 1.3 0 1 0 -2.6 0M106.6 190.5a1.3 1.3 0 1 0 2.6 0a1.3 1.3 0 1 0 -2.6 0M112.3 189.6a1.3 1.3 0 1 0 2.6 0a1.3 1.3 0 1 0 -2.6 0M113.2 195.4a1.3 1.3 0 1 0 2.6 0a1.3 1.3 0 1 0 -2.6 0M121.1 193.3a1.3 1.3 0 1 0 2.6 0a1.3 1.3 0 1 0 -2.6 0M134.6 179.8a1.3 1.3 0 1 0 2.6 0a1.3 1.3 0 1 0 -2.6 0M134.6 181.4a1.3 1.3 0 1 0 2.6 0a1.3 1.3 0 1 0 -2.6 0M101.6 199.5a1.3 1.3 0 1 0 2.6 0a1.3 1.3 0 1 0 -2.6 0M106.6 204.4a1.3 1.3 0 1 0 2.6 0a1.3 1.3 0 1 0 -2.6 0M110.7 201.2a1.3 1.3 0 1 0 2.6 0a1.3 1.3 0 1 0 -2.6 0M104.1 209.4a1.3 1.3 0 1 0 2.6 0a1.3 1.3 0 1 0 -2.6 0M112.2 185.0a1.3 1.3 0 1 0 2.6 0a1.3 1.3 0 1 0 -2.6 0M111.2 183.9a1.3 1.3 0 1 0 2.6 0a1.3 1.3 0 1 0 -2.6 0M108.9 195.0a1.3 1.3 0 1 0 2.6 0a1.3 1.3 0 1 0 -2.6 0M107.4 200.1a1.3 1.3 0 1 0 2.6 0a1.3 1.3 0 1 0 -2.6 0M109.1 193.8a1.3 1.3 0 1 0 2.6 0a1.3 1.3 0 1 0 -2.6 0M112.1 183.6a1.3 1.3 0 1 0 2.6 0a1.3 1.3 0 1 0 -2.6 0M113.1 194.9a1.3 1.3 0 1 0 2.6 0a1.3 1.3 0 1 0 -2.6 0M107.7 198.5a1.3 1.3 0 1 0 2.6 0a1.3 1.3 0 1 0 -2.6 0M106.5 202.6a1.3 1.3 0 1 0 2.6 0a1.3 1.3 0 1 0 -2.6 0M109.3 189.1a1.3 1.3 0 1 0 2.6 0a1.3 1.3 0 1 0 -2.6 0M111.0 190.9a1.3 1.3 0 1 0 2.6 0a1.3 1.3 0 1 0 -2.6 0M105.7 197.3a1.3 1.3 0 1 0 2.6 0a1.3 1.3 0 1 0 -2.6 0M104.5 198.9a1.3 1.3 0 1 0 2.6 0a1.3 1.3 0 1 0 -2.6 0M106.4 195.1a1.3 1.3 0 1 0 2.6 0a1.3 1.3 0 1 0 -2.6 0M103.3 210.0a1.3 1.3 0 1 0 2.6 0a1.3 1.3 0 1 0 -2.6 0M102.5 224.0a1.3 1.3 0 1 0 2.6 0a1.3 1.3 0 1 0 -2.6 0M106.6 225.6a1.3 1.3 0 1 0 2.6 0a1.3 1.3 0 1 0 -2.6 0M107.4 239.6a1.3 1.3 0 1 0 2.6 0a1.3 1.3 0 1 0 -2.6 0M113.2 242.9a1.3 1.3 0 1 0 2.6 0a1.3 1.3 0 1 0 -2.6 0M132.9 232.2a1.3 1.3 0 1 0 2.6 0a1.3 1.3 0 1 0 -2.6 0M134.6 234.7a1.3 1.3 0 1 0 2.6 0a1.3 1.3 0 1 0 -2.6 0M160.9 234.7a1.3 1.3 0 1 0 2.6 0a1.3 1.3 0 1 0 -2.6 0M160.9 250.3a1.3 1.3 0 1 0 2.6 0a1.3 1.3 0 1 0 -2.6 0M171.6 216.6a1.3 1.3 0 1 0 2.6 0a1.3 1.3 0 1 0 -2.6 0M170.8 223.2a1.3 1.3 0 1 0 2.6 0a1.3 1.3 0 1 0 -2.6 0M196.8 171.5a1.3 1.3 0 1 0 2.6 0a1.3 1.3 0 1 0 -2.6 0M195.9 173.2a1.3 1.3 0 1 0 2.6 0a1.3 1.3 0 1 0 -2.6 0M195.6 175.6a1.3 1.3 0 1 0 2.6 0a1.3 1.3 0 1 0 -2.6 0M194.0 178.1a1.3 1.3 0 1 0 2.6 0a1.3 1.3 0 1 0 -2.6 0M197.6 179.8a1.3 1.3 0 1 0 2.6 0a1.3 1.3 0 1 0 -2.6 0M198.4 181.4a1.3 1.3 0 1 0 2.6 0a1.3 1.3 0 1 0 -2.6 0M192.6 183.0a1.3 1.3 0 1 0 2.6 0a1.3 1.3 0 1 0 -2.6 0M195.9 184.7a1.3 1.3 0 1 0 2.6 0a1.3 1.3 0 1 0 -2.6 0M201.7 187.2a1.3 1.3 0 1 0 2.6 0a1.3 1.3 0 1 0 -2.6 0M192.6 190.5a1.3 1.3 0 1 0 2.6 0a1.3 1.3 0 1 0 -2.6 0M225.6 180.1a1.3 1.3 0 1 0 2.6 0a1.3 1.3 0 1 0 -2.6 0M225.6 183.0a1.3 1.3 0 1 0 2.6 0a1.3 1.3 0 1 0 -2.6 0M212.4 200.3a1.3 1.3 0 1 0 2.6 0a1.3 1.3 0 1 0 -2.6 0M194.3 205.3a1.3 1.3 0 1 0 2.6 0a1.3 1.3 0 1 0 -2.6 0M196.8 199.5a1.3 1.3 0 1 0 2.6 0a1.3 1.3 0 1 0 -2.6 0M201.7 200.3a1.3 1.3 0 1 0 2.6 0a1.3 1.3 0 1 0 -2.6 0M195.3 187.2a1.3 1.3 0 1 0 2.6 0a1.3 1.3 0 1 0 -2.6 0M196.7 185.1a1.3 1.3 0 1 0 2.6 0a1.3 1.3 0 1 0 -2.6 0M203.0 191.1a1.3 1.3 0 1 0 2.6 0a1.3 1.3 0 1 0 -2.6 0M201.1 184.7a1.3 1.3 0 1 0 2.6 0a1.3 1.3 0 1 0 -2.6 0M202.5 190.8a1.3 1.3 0 1 0 2.6 0a1.3 1.3 0 1 0 -2.6 0M198.4 190.8a1.3 1.3 0 1 0 2.6 0a1.3 1.3 0 1 0 -2.6 0M198.3 186.6a1.3 1.3 0 1 0 2.6 0a1.3 1.3 0 1 0 -2.6 0M194.6 186.6a1.3 1.3 0 1 0 2.6 0a1.3 1.3 0 1 0 -2.6 0M193.9 187.5a1.3 1.3 0 1 0 2.6 0a1.3 1.3 0 1 0 -2.6 0M201.5 190.4a1.3 1.3 0 1 0 2.6 0a1.3 1.3 0 1 0 -2.6 0M202.5 190.5a1.3 1.3 0 1 0 2.6 0a1.3 1.3 0 1 0 -2.6 0M196.3 189.2a1.3 1.3 0 1 0 2.6 0a1.3 1.3 0 1 0 -2.6 0M198.1 191.2a1.3 1.3 0 1 0 2.6 0a1.3 1.3 0 1 0 -2.6 0M199.1 186.9a1.3 1.3 0 1 0 2.6 0a1.3 1.3 0 1 0 -2.6 0M200.3 192.6a1.3 1.3 0 1 0 2.6 0a1.3 1.3 0 1 0 -2.6 0M195.8 191.9a1.3 1.3 0 1 0 2.6 0a1.3 1.3 0 1 0 -2.6 0M193.6 186.8a1.3 1.3 0 1 0 2.6 0a1.3 1.3 0 1 0 -2.6 0M196.0 190.8a1.3 1.3 0 1 0 2.6 0a1.3 1.3 0 1 0 -2.6 0M203.6 190.8a1.3 1.3 0 1 0 2.6 0a1.3 1.3 0 1 0 -2.6 0M197.0 191.9a1.3 1.3 0 1 0 2.6 0a1.3 1.3 0 1 0 -2.6 0M197.0 186.7a1.3 1.3 0 1 0 2.6 0a1.3 1.3 0 1 0 -2.6 0M203.2 189.9a1.3 1.3 0 1 0 2.6 0a1.3 1.3 0 1 0 -2.6 0M201.1 200.3a1.3 1.3 0 1 0 2.6 0a1.3 1.3 0 1 0 -2.6 0M203.2 199.4a1.3 1.3 0 1 0 2.6 0a1.3 1.3 0 1 0 -2.6 0M202.2 200.5a1.3 1.3 0 1 0 2.6 0a1.3 1.3 0 1 0 -2.6 0M202.3 199.2a1.3 1.3 0 1 0 2.6 0a1.3 1.3 0 1 0 -2.6 0M201.3 199.9a1.3 1.3 0 1 0 2.6 0a1.3 1.3 0 1 0 -2.6 0M198.2 198.1a1.3 1.3 0 1 0 2.6 0a1.3 1.3 0 1 0 -2.6 0M193.5 216.6a1.3 1.3 0 1 0 2.6 0a1.3 1.3 0 1 0 -2.6 0M224.7 233.9a1.3 1.3 0 1 0 2.6 0a1.3 1.3 0 1 0 -2.6 0M223.9 236.3a1.3 1.3 0 1 0 2.6 0a1.3 1.3 0 1 0 -2.6 0M251.9 233.9a1.3 1.3 0 1 0 2.6 0a1.3 1.3 0 1 0 -2.6 0M251.1 234.7a1.3 1.3 0 1 0 2.6 0a1.3 1.3 0 1 0 -2.6 0M262.6 252.0a1.3 1.3 0 1 0 2.6 0a1.3 1.3 0 1 0 -2.6 0M285.0 171.5a1.3 1.3 0 1 0 2.6 0a1.3 1.3 0 1 0 -2.6 0M289.4 176.5a1.3 1.3 0 1 0 2.6 0a1.3 1.3 0 1 0 -2.6 0M287.8 180.6a1.3 1.3 0 1 0 2.6 0a1.3 1.3 0 1 0 -2.6 0M291.0 178.9a1.3 1.3 0 1 0 2.6 0a1.3 1.3 0 1 0 -2.6 0M292.7 184.4a1.3 1.3 0 1 0 2.6 0a1.3 1.3 0 1 0 -2.6 0M284.5 187.2a1.3 1.3 0 1 0 2.6 0a1.3 1.3 0 1 0 -2.6 0M282.8 195.4a1.3 1.3 0 1 0 2.6 0a1.3 1.3 0 1 0 -2.6 0M286.1 195.4a1.3 1.3 0 1 0 2.6 0a1.3 1.3 0 1 0 -2.6 0M283.6 206.1a1.3 1.3 0 1 0 2.6 0a1.3 1.3 0 1 0 -2.6 0M291.0 200.3a1.3 1.3 0 1 0 2.6 0a1.3 1.3 0 1 0 -2.6 0M315.7 179.4a1.3 1.3 0 1 0 2.6 0a1.3 1.3 0 1 0 -2.6 0M316.2 181.4a1.3 1.3 0 1 0 2.6 0a1.3 1.3 0 1 0 -2.6 0M302.6 199.5a1.3 1.3 0 1 0 2.6 0a1.3 1.3 0 1 0 -2.6 0M303.4 202.0a1.3 1.3 0 1 0 2.6 0a1.3 1.3 0 1 0 -2.6 0M290.8 185.9a1.3 1.3 0 1 0 2.6 0a1.3 1.3 0 1 0 -2.6 0M294.1 187.0a1.3 1.3 0 1 0 2.6 0a1.3 1.3 0 1 0 -2.6 0M283.9 186.4a1.3 1.3 0 1 0 2.6 0a1.3 1.3 0 1 0 -2.6 0M294.3 190.1a1.3 1.3 0 1 0 2.6 0a1.3 1.3 0 1 0 -2.6 0M285.3 185.1a1.3 1.3 0 1 0 2.6 0a1.3 1.3 0 1 0 -2.6 0M284.1 195.5a1.3 1.3 0 1 0 2.6 0a1.3 1.3 0 1 0 -2.6 0M290.9 195.6a1.3 1.3 0 1 0 2.6 0a1.3 1.3 0 1 0 -2.6 0M292.1 185.7a1.3 1.3 0 1 0 2.6 0a1.3 1.3 0 1 0 -2.6 0M290.4 190.4a1.3 1.3 0 1 0 2.6 0a1.3 1.3 0 1 0 -2.6 0M293.1 197.5a1.3 1.3 0 1 0 2.6 0a1.3 1.3 0 1 0 -2.6 0M293.9 185.7a1.3 1.3 0 1 0 2.6 0a1.3 1.3 0 1 0 -2.6 0M293.6 199.0a1.3 1.3 0 1 0 2.6 0a1.3 1.3 0 1 0 -2.6 0M294.5 186.4a1.3 1.3 0 1 0 2.6 0a1.3 1.3 0 1 0 -2.6 0M286.0 186.4a1.3 1.3 0 1 0 2.6 0a1.3 1.3 0 1 0 -2.6 0M284.0 197.9a1.3 1.3 0 1 0 2.6 0a1.3 1.3 0 1 0 -2.6 0M293.0 194.6a1.3 1.3 0 1 0 2.6 0a1.3 1.3 0 1 0 -2.6 0M293.1 194.6a1.3 1.3 0 1 0 2.6 0a1.3 1.3 0 1 0 -2.6 0M286.9 186.3a1.3 1.3 0 1 0 2.6 0a1.3 1.3 0 1 0 -2.6 0M284.8 196.5a1.3 1.3 0 1 0 2.6 0a1.3 1.3 0 1 0 -2.6 0M286.0 189.7a1.3 1.3 0 1 0 2.6 0a1.3 1.3 0 1 0 -2.6 0M288.5 185.0a1.3 1.3 0 1 0 2.6 0a1.3 1.3 0 1 0 -2.6 0M286.6 189.1a1.3 1.3 0 1 0 2.6 0a1.3 1.3 0 1 0 -2.6 0M291.9 190.4a1.3 1.3 0 1 0 2.6 0a1.3 1.3 0 1 0 -2.6 0M287.3 199.8a1.3 1.3 0 1 0 2.6 0a1.3 1.3 0 1 0 -2.6 0M289.4 198.0a1.3 1.3 0 1 0 2.6 0a1.3 1.3 0 1 0 -2.6 0M290.8 185.2a1.3 1.3 0 1 0 2.6 0a1.3 1.3 0 1 0 -2.6 0M288.4 191.5a1.3 1.3 0 1 0 2.6 0a1.3 1.3 0 1 0 -2.6 0M292.5 190.1a1.3 1.3 0 1 0 2.6 0a1.3 1.3 0 1 0 -2.6 0M291.8 193.1a1.3 1.3 0 1 0 2.6 0a1.3 1.3 0 1 0 -2.6 0M286.1 198.2a1.3 1.3 0 1 0 2.6 0a1.3 1.3 0 1 0 -2.6 0M284.7 197.5a1.3 1.3 0 1 0 2.6 0a1.3 1.3 0 1 0 -2.6 0M285.6 184.7a1.3 1.3 0 1 0 2.6 0a1.3 1.3 0 1 0 -2.6 0M286.0 196.6a1.3 1.3 0 1 0 2.6 0a1.3 1.3 0 1 0 -2.6 0M294.9 184.8a1.3 1.3 0 1 0 2.6 0a1.3 1.3 0 1 0 -2.6 0M289.3 192.4a1.3 1.3 0 1 0 2.6 0a1.3 1.3 0 1 0 -2.6 0M282.8 210.8a1.3 1.3 0 1 0 2.6 0a1.3 1.3 0 1 0 -2.6 0M294.3 214.9a1.3 1.3 0 1 0 2.6 0a1.3 1.3 0 1 0 -2.6 0M293.5 238.8a1.3 1.3 0 1 0 2.6 0a1.3 1.3 0 1 0 -2.6 0M294.3 244.6a1.3 1.3 0 1 0 2.6 0a1.3 1.3 0 1 0 -2.6 0M314.9 226.5a1.3 1.3 0 1 0 2.6 0a1.3 1.3 0 1 0 -2.6 0M315.7 236.0a1.3 1.3 0 1 0 2.6 0a1.3 1.3 0 1 0 -2.6 0M314.6 237.2a1.3 1.3 0 1 0 2.6 0a1.3 1.3 0 1 0 -2.6 0M315.7 244.2a1.3 1.3 0 1 0 2.6 0a1.3 1.3 0 1 0 -2.6 0M342.9 234.7a1.3 1.3 0 1 0 2.6 0a1.3 1.3 0 1 0 -2.6 0M342.9 258.6a1.3 1.3 0 1 0 2.6 0a1.3 1.3 0 1 0 -2.6 0M329.7 236.3a1.3 1.3 0 1 0 2.6 0a1.3 1.3 0 1 0 -2.6 0M376.6 167.9a1.3 1.3 0 1 0 2.6 0a1.3 1.3 0 1 0 -2.6 0M377.6 190.5a1.3 1.3 0 1 0 2.6 0a1.3 1.3 0 1 0 -2.6 0M382.0 194.6a1.3 1.3 0 1 0 2.6 0a1.3 1.3 0 1 0 -2.6 0M381.6 199.2a1.3 1.3 0 1 0 2.6 0a1.3 1.3 0 1 0 -2.6 0M419.1 186.0a1.3 1.3 0 1 0 2.6 0a1.3 1.3 0 1 0 -2.6 0M394.4 163.3a1.3 1.3 0 1 0 2.6 0a1.3 1.3 0 1 0 -2.6 0M396.9 162.5a1.3 1.3 0 1 0 2.6 0a1.3 1.3 0 1 0 -2.6 0M400.2 163.3a1.3 1.3 0 1 0 2.6 0a1.3 1.3 0 1 0 -2.6 0M409.1 177.9a1.3 1.3 0 1 0 2.6 0a1.3 1.3 0 1 0 -2.6 0M402.8 167.3a1.3 1.3 0 1 0 2.6 0a1.3 1.3 0 1 0 -2.6 0M403.8 173.5a1.3 1.3 0 1 0 2.6 0a1.3 1.3 0 1 0 -2.6 0M397.7 162.2a1.3 1.3 0 1 0 2.6 0a1.3 1.3 0 1 0 -2.6 0M407.3 175.4a1.3 1.3 0 1 0 2.6 0a1.3 1.3 0 1 0 -2.6 0M406.1 173.7a1.3 1.3 0 1 0 2.6 0a1.3 1.3 0 1 0 -2.6 0M402.6 168.4a1.3 1.3 0 1 0 2.6 0a1.3 1.3 0 1 0 -2.6 0M396.0 167.7a1.3 1.3 0 1 0 2.6 0a1.3 1.3 0 1 0 -2.6 0M408.7 176.2a1.3 1.3 0 1 0 2.6 0a1.3 1.3 0 1 0 -2.6 0M396.8 167.8a1.3 1.3 0 1 0 2.6 0a1.3 1.3 0 1 0 -2.6 0M395.8 165.6a1.3 1.3 0 1 0 2.6 0a1.3 1.3 0 1 0 -2.6 0M410.3 176.6a1.3 1.3 0 1 0 2.6 0a1.3 1.3 0 1 0 -2.6 0M411.6 178.2a1.3 1.3 0 1 0 2.6 0a1.3 1.3 0 1 0 -2.6 0M411.4 174.7a1.3 1.3 0 1 0 2.6 0a1.3 1.3 0 1 0 -2.6 0M401.9 171.3a1.3 1.3 0 1 0 2.6 0a1.3 1.3 0 1 0 -2.6 0M395.9 165.4a1.3 1.3 0 1 0 2.6 0a1.3 1.3 0 1 0 -2.6 0M391.6 164.4a1.3 1.3 0 1 0 2.6 0a1.3 1.3 0 1 0 -2.6 0M403.0 172.9a1.3 1.3 0 1 0 2.6 0a1.3 1.3 0 1 0 -2.6 0M403.1 171.2a1.3 1.3 0 1 0 2.6 0a1.3 1.3 0 1 0 -2.6 0M400.3 164.4a1.3 1.3 0 1 0 2.6 0a1.3 1.3 0 1 0 -2.6 0M398.3 167.4a1.3 1.3 0 1 0 2.6 0a1.3 1.3 0 1 0 -2.6 0M401.2 171.5a1.3 1.3 0 1 0 2.6 0a1.3 1.3 0 1 0 -2.6 0M409.2 173.1a1.3 1.3 0 1 0 2.6 0a1.3 1.3 0 1 0 -2.6 0M407.2 173.1a1.3 1.3 0 1 0 2.6 0a1.3 1.3 0 1 0 -2.6 0M400.4 171.5a1.3 1.3 0 1 0 2.6 0a1.3 1.3 0 1 0 -2.6 0M392.5 165.1a1.3 1.3 0 1 0 2.6 0a1.3 1.3 0 1 0 -2.6 0M405.0 172.2a1.3 1.3 0 1 0 2.6 0a1.3 1.3 0 1 0 -2.6 0M398.5 169.4a1.3 1.3 0 1 0 2.6 0a1.3 1.3 0 1 0 -2.6 0M398.8 164.7a1.3 1.3 0 1 0 2.6 0a1.3 1.3 0 1 0 -2.6 0M395.0 162.3a1.3 1.3 0 1 0 2.6 0a1.3 1.3 0 1 0 -2.6 0M395.4 168.4a1.3 1.3 0 1 0 2.6 0a1.3 1.3 0 1 0 -2.6 0M393.2 162.3a1.3 1.3 0 1 0 2.6 0a1.3 1.3 0 1 0 -2.6 0M409.1 173.5a1.3 1.3 0 1 0 2.6 0a1.3 1.3 0 1 0 -2.6 0M393.3 162.6a1.3 1.3 0 1 0 2.6 0a1.3 1.3 0 1 0 -2.6 0M403.4 173.1a1.3 1.3 0 1 0 2.6 0a1.3 1.3 0 1 0 -2.6 0M406.1 174.8a1.3 1.3 0 1 0 2.6 0a1.3 1.3 0 1 0 -2.6 0M410.6 179.6a1.3 1.3 0 1 0 2.6 0a1.3 1.3 0 1 0 -2.6 0M400.4 167.3a1.3 1.3 0 1 0 2.6 0a1.3 1.3 0 1 0 -2.6 0M410.2 178.0a1.3 1.3 0 1 0 2.6 0a1.3 1.3 0 1 0 -2.6 0M398.1 166.5a1.3 1.3 0 1 0 2.6 0a1.3 1.3 0 1 0 -2.6 0M398.3 169.9a1.3 1.3 0 1 0 2.6 0a1.3 1.3 0 1 0 -2.6 0M399.5 168.8a1.3 1.3 0 1 0 2.6 0a1.3 1.3 0 1 0 -2.6 0M408.4 172.9a1.3 1.3 0 1 0 2.6 0a1.3 1.3 0 1 0 -2.6 0M397.9 163.7a1.3 1.3 0 1 0 2.6 0a1.3 1.3 0 1 0 -2.6 0M399.4 167.6a1.3 1.3 0 1 0 2.6 0a1.3 1.3 0 1 0 -2.6 0M406.2 173.2a1.3 1.3 0 1 0 2.6 0a1.3 1.3 0 1 0 -2.6 0M404.0 175.5a1.3 1.3 0 1 0 2.6 0a1.3 1.3 0 1 0 -2.6 0M397.5 165.0a1.3 1.3 0 1 0 2.6 0a1.3 1.3 0 1 0 -2.6 0M406.2 175.2a1.3 1.3 0 1 0 2.6 0a1.3 1.3 0 1 0 -2.6 0M405.5 173.1a1.3 1.3 0 1 0 2.6 0a1.3 1.3 0 1 0 -2.6 0M408.8 204.9a1.3 1.3 0 1 0 2.6 0a1.3 1.3 0 1 0 -2.6 0M407.9 205.6a1.3 1.3 0 1 0 2.6 0a1.3 1.3 0 1 0 -2.6 0M413.1 206.2a1.3 1.3 0 1 0 2.6 0a1.3 1.3 0 1 0 -2.6 0M408.0 208.9a1.3 1.3 0 1 0 2.6 0a1.3 1.3 0 1 0 -2.6 0M413.3 205.3a1.3 1.3 0 1 0 2.6 0a1.3 1.3 0 1 0 -2.6 0M414.1 207.4a1.3 1.3 0 1 0 2.6 0a1.3 1.3 0 1 0 -2.6 0M413.2 207.7a1.3 1.3 0 1 0 2.6 0a1.3 1.3 0 1 0 -2.6 0M414.1 208.3a1.3 1.3 0 1 0 2.6 0a1.3 1.3 0 1 0 -2.6 0M413.6 205.4a1.3 1.3 0 1 0 2.6 0a1.3 1.3 0 1 0 -2.6 0M412.4 207.1a1.3 1.3 0 1 0 2.6 0a1.3 1.3 0 1 0 -2.6 0M375.5 228.4a1.3 1.3 0 1 0 2.6 0a1.3 1.3 0 1 0 -2.6 0M433.1 249.8a1.3 1.3 0 1 0 2.6 0a1.3 1.3 0 1 0 -2.6 0M433.9 256.1a1.3 1.3 0 1 0 2.6 0a1.3 1.3 0 1 0 -2.6 0M437.9 237.2a1.3 1.3 0 1 0 2.6 0a1.3 1.3 0 1 0 -2.6 0M439.3 238.7a1.3 1.3 0 1 0 2.6 0a1.3 1.3 0 1 0 -2.6 0M433.2 234.5a1.3 1.3 0 1 0 2.6 0a1.3 1.3 0 1 0 -2.6 0M432.0 237.9a1.3 1.3 0 1 0 2.6 0a1.3 1.3 0 1 0 -2.6 0M431.2 237.6a1.3 1.3 0 1 0 2.6 0a1.3 1.3 0 1 0 -2.6 0M432.0 237.9a1.3 1.3 0 1 0 2.6 0a1.3 1.3 0 1 0 -2.6 0M435.5 238.5a1.3 1.3 0 1 0 2.6 0a1.3 1.3 0 1 0 -2.6 0M439.1 231.5a1.3 1.3 0 1 0 2.6 0a1.3 1.3 0 1 0 -2.6 0M438.9 237.6a1.3 1.3 0 1 0 2.6 0a1.3 1.3 0 1 0 -2.6 0M436.2 240.2a1.3 1.3 0 1 0 2.6 0a1.3 1.3 0 1 0 -2.6 0M438.9 236.3a1.3 1.3 0 1 0 2.6 0a1.3 1.3 0 1 0 -2.6 0M434.7 244.0a1.3 1.3 0 1 0 2.6 0a1.3 1.3 0 1 0 -2.6 0M431.4 239.8a1.3 1.3 0 1 0 2.6 0a1.3 1.3 0 1 0 -2.6 0M436.9 231.8a1.3 1.3 0 1 0 2.6 0a1.3 1.3 0 1 0 -2.6 0M436.6 240.4a1.3 1.3 0 1 0 2.6 0a1.3 1.3 0 1 0 -2.6 0M474.7 174.0a1.3 1.3 0 1 0 2.6 0a1.3 1.3 0 1 0 -2.6 0M473.0 181.1a1.3 1.3 0 1 0 2.6 0a1.3 1.3 0 1 0 -2.6 0M473.9 182.2a1.3 1.3 0 1 0 2.6 0a1.3 1.3 0 1 0 -2.6 0M474.7 184.7a1.3 1.3 0 1 0 2.6 0a1.3 1.3 0 1 0 -2.6 0M475.5 186.3a1.3 1.3 0 1 0 2.6 0a1.3 1.3 0 1 0 -2.6 0M473.9 187.2a1.3 1.3 0 1 0 2.6 0a1.3 1.3 0 1 0 -2.6 0M475.2 188.0a1.3 1.3 0 1 0 2.6 0a1.3 1.3 0 1 0 -2.6 0M473.0 192.9a1.3 1.3 0 1 0 2.6 0a1.3 1.3 0 1 0 -2.6 0M496.9 180.6a1.3 1.3 0 1 0 2.6 0a1.3 1.3 0 1 0 -2.6 0M497.7 182.2a1.3 1.3 0 1 0 2.6 0a1.3 1.3 0 1 0 -2.6 0M524.1 187.7a1.3 1.3 0 1 0 2.6 0a1.3 1.3 0 1 0 -2.6 0M473.0 207.4a1.3 1.3 0 1 0 2.6 0a1.3 1.3 0 1 0 -2.6 0M475.5 208.1a1.3 1.3 0 1 0 2.6 0a1.3 1.3 0 1 0 -2.6 0M472.2 213.6a1.3 1.3 0 1 0 2.6 0a1.3 1.3 0 1 0 -2.6 0M472.6 214.9a1.3 1.3 0 1 0 2.6 0a1.3 1.3 0 1 0 -2.6 0M476.3 217.9a1.3 1.3 0 1 0 2.6 0a1.3 1.3 0 1 0 -2.6 0M487.9 220.7a1.3 1.3 0 1 0 2.6 0a1.3 1.3 0 1 0 -2.6 0M489.5 221.9a1.3 1.3 0 1 0 2.6 0a1.3 1.3 0 1 0 -2.6 0M487.0 221.5a1.3 1.3 0 1 0 2.6 0a1.3 1.3 0 1 0 -2.6 0M496.1 222.3a1.3 1.3 0 1 0 2.6 0a1.3 1.3 0 1 0 -2.6 0M485.4 229.8a1.3 1.3 0 1 0 2.6 0a1.3 1.3 0 1 0 -2.6 0M496.9 233.9a1.3 1.3 0 1 0 2.6 0a1.3 1.3 0 1 0 -2.6 0M497.7 243.7a1.3 1.3 0 1 0 2.6 0a1.3 1.3 0 1 0 -2.6 0M497.2 248.7a1.3 1.3 0 1 0 2.6 0a1.3 1.3 0 1 0 -2.6 0M507.8 218.2a1.3 1.3 0 1 0 2.6 0a1.3 1.3 0 1 0 -2.6 0M508.3 220.4a1.3 1.3 0 1 0 2.6 0a1.3 1.3 0 1 0 -2.6 0M503.8 225.2a1.3 1.3 0 1 0 2.6 0a1.3 1.3 0 1 0 -2.6 0M499.7 223.0a1.3 1.3 0 1 0 2.6 0a1.3 1.3 0 1 0 -2.6 0M505.0 218.3a1.3 1.3 0 1 0 2.6 0a1.3 1.3 0 1 0 -2.6 0M507.2 218.6a1.3 1.3 0 1 0 2.6 0a1.3 1.3 0 1 0 -2.6 0M503.7 220.6a1.3 1.3 0 1 0 2.6 0a1.3 1.3 0 1 0 -2.6 0M506.4 216.7a1.3 1.3 0 1 0 2.6 0a1.3 1.3 0 1 0 -2.6 0M503.3 219.3a1.3 1.3 0 1 0 2.6 0a1.3 1.3 0 1 0 -2.6 0M504.4 224.3a1.3 1.3 0 1 0 2.6 0a1.3 1.3 0 1 0 -2.6 0M502.0 224.3a1.3 1.3 0 1 0 2.6 0a1.3 1.3 0 1 0 -2.6 0M503.0 220.3a1.3 1.3 0 1 0 2.6 0a1.3 1.3 0 1 0 -2.6 0M501.8 220.4a1.3 1.3 0 1 0 2.6 0a1.3 1.3 0 1 0 -2.6 0M508.2 222.2a1.3 1.3 0 1 0 2.6 0a1.3 1.3 0 1 0 -2.6 0M506.6 218.2a1.3 1.3 0 1 0 2.6 0a1.3 1.3 0 1 0 -2.6 0M502.3 217.8a1.3 1.3 0 1 0 2.6 0a1.3 1.3 0 1 0 -2.6 0M504.7 222.0a1.3 1.3 0 1 0 2.6 0a1.3 1.3 0 1 0 -2.6 0M506.5 214.6a1.3 1.3 0 1 0 2.6 0a1.3 1.3 0 1 0 -2.6 0M505.9 225.0a1.3 1.3 0 1 0 2.6 0a1.3 1.3 0 1 0 -2.6 0M504.3 214.7a1.3 1.3 0 1 0 2.6 0a1.3 1.3 0 1 0 -2.6 0M502.1 214.2a1.3 1.3 0 1 0 2.6 0a1.3 1.3 0 1 0 -2.6 0M501.1 225.5a1.3 1.3 0 1 0 2.6 0a1.3 1.3 0 1 0 -2.6 0M504.9 222.2a1.3 1.3 0 1 0 2.6 0a1.3 1.3 0 1 0 -2.6 0M506.5 225.3a1.3 1.3 0 1 0 2.6 0a1.3 1.3 0 1 0 -2.6 0M504.9 221.7a1.3 1.3 0 1 0 2.6 0a1.3 1.3 0 1 0 -2.6 0M556.5 163.3a1.3 1.3 0 1 0 2.6 0a1.3 1.3 0 1 0 -2.6 0M557.3 171.9a1.3 1.3 0 1 0 2.6 0a1.3 1.3 0 1 0 -2.6 0M557.3 174.8a1.3 1.3 0 1 0 2.6 0a1.3 1.3 0 1 0 -2.6 0M564.7 178.9a1.3 1.3 0 1 0 2.6 0a1.3 1.3 0 1 0 -2.6 0M566.3 183.0a1.3 1.3 0 1 0 2.6 0a1.3 1.3 0 1 0 -2.6 0M555.6 179.8a1.3 1.3 0 1 0 2.6 0a1.3 1.3 0 1 0 -2.6 0M587.7 180.1a1.3 1.3 0 1 0 2.6 0a1.3 1.3 0 1 0 -2.6 0M588.6 181.4a1.3 1.3 0 1 0 2.6 0a1.3 1.3 0 1 0 -2.6 0M575.4 198.7a1.3 1.3 0 1 0 2.6 0a1.3 1.3 0 1 0 -2.6 0M557.3 206.1a1.3 1.3 0 1 0 2.6 0a1.3 1.3 0 1 0 -2.6 0M556.5 208.6a1.3 1.3 0 1 0 2.6 0a1.3 1.3 0 1 0 -2.6 0M559.8 190.0a1.3 1.3 0 1 0 2.6 0a1.3 1.3 0 1 0 -2.6 0M563.5 193.8a1.3 1.3 0 1 0 2.6 0a1.3 1.3 0 1 0 -2.6 0M562.9 192.3a1.3 1.3 0 1 0 2.6 0a1.3 1.3 0 1 0 -2.6 0M562.0 196.6a1.3 1.3 0 1 0 2.6 0a1.3 1.3 0 1 0 -2.6 0M562.2 189.3a1.3 1.3 0 1 0 2.6 0a1.3 1.3 0 1 0 -2.6 0M566.3 191.1a1.3 1.3 0 1 0 2.6 0a1.3 1.3 0 1 0 -2.6 0M560.5 190.2a1.3 1.3 0 1 0 2.6 0a1.3 1.3 0 1 0 -2.6 0M563.3 194.8a1.3 1.3 0 1 0 2.6 0a1.3 1.3 0 1 0 -2.6 0M558.1 178.6a1.3 1.3 0 1 0 2.6 0a1.3 1.3 0 1 0 -2.6 0M557.7 181.0a1.3 1.3 0 1 0 2.6 0a1.3 1.3 0 1 0 -2.6 0M565.9 199.8a1.3 1.3 0 1 0 2.6 0a1.3 1.3 0 1 0 -2.6 0M564.0 198.3a1.3 1.3 0 1 0 2.6 0a1.3 1.3 0 1 0 -2.6 0M560.2 183.5a1.3 1.3 0 1 0 2.6 0a1.3 1.3 0 1 0 -2.6 0M565.3 193.8a1.3 1.3 0 1 0 2.6 0a1.3 1.3 0 1 0 -2.6 0M555.0 178.5a1.3 1.3 0 1 0 2.6 0a1.3 1.3 0 1 0 -2.6 0M562.0 189.0a1.3 1.3 0 1 0 2.6 0a1.3 1.3 0 1 0 -2.6 0M566.7 201.7a1.3 1.3 0 1 0 2.6 0a1.3 1.3 0 1 0 -2.6 0M554.2 176.3a1.3 1.3 0 1 0 2.6 0a1.3 1.3 0 1 0 -2.6 0M555.7 182.3a1.3 1.3 0 1 0 2.6 0a1.3 1.3 0 1 0 -2.6 0M558.6 180.9a1.3 1.3 0 1 0 2.6 0a1.3 1.3 0 1 0 -2.6 0M555.0 181.0a1.3 1.3 0 1 0 2.6 0a1.3 1.3 0 1 0 -2.6 0M560.3 188.2a1.3 1.3 0 1 0 2.6 0a1.3 1.3 0 1 0 -2.6 0M563.4 199.4a1.3 1.3 0 1 0 2.6 0a1.3 1.3 0 1 0 -2.6 0M561.6 194.4a1.3 1.3 0 1 0 2.6 0a1.3 1.3 0 1 0 -2.6 0M567.1 196.6a1.3 1.3 0 1 0 2.6 0a1.3 1.3 0 1 0 -2.6 0M562.0 192.6a1.3 1.3 0 1 0 2.6 0a1.3 1.3 0 1 0 -2.6 0M566.1 199.5a1.3 1.3 0 1 0 2.6 0a1.3 1.3 0 1 0 -2.6 0M556.3 183.8a1.3 1.3 0 1 0 2.6 0a1.3 1.3 0 1 0 -2.6 0M564.2 197.9a1.3 1.3 0 1 0 2.6 0a1.3 1.3 0 1 0 -2.6 0M561.7 187.8a1.3 1.3 0 1 0 2.6 0a1.3 1.3 0 1 0 -2.6 0M561.0 193.1a1.3 1.3 0 1 0 2.6 0a1.3 1.3 0 1 0 -2.6 0M564.9 198.1a1.3 1.3 0 1 0 2.6 0a1.3 1.3 0 1 0 -2.6 0M556.9 185.5a1.3 1.3 0 1 0 2.6 0a1.3 1.3 0 1 0 -2.6 0M565.4 198.0a1.3 1.3 0 1 0 2.6 0a1.3 1.3 0 1 0 -2.6 0M566.4 195.9a1.3 1.3 0 1 0 2.6 0a1.3 1.3 0 1 0 -2.6 0M561.8 195.1a1.3 1.3 0 1 0 2.6 0a1.3 1.3 0 1 0 -2.6 0M563.6 195.0a1.3 1.3 0 1 0 2.6 0a1.3 1.3 0 1 0 -2.6 0M561.3 187.6a1.3 1.3 0 1 0 2.6 0a1.3 1.3 0 1 0 -2.6 0M565.6 200.1a1.3 1.3 0 1 0 2.6 0a1.3 1.3 0 1 0 -2.6 0M566.6 203.1a1.3 1.3 0 1 0 2.6 0a1.3 1.3 0 1 0 -2.6 0M557.0 210.8a1.3 1.3 0 1 0 2.6 0a1.3 1.3 0 1 0 -2.6 0M557.0 213.3a1.3 1.3 0 1 0 2.6 0a1.3 1.3 0 1 0 -2.6 0M575.4 210.5a1.3 1.3 0 1 0 2.6 0a1.3 1.3 0 1 0 -2.6 0M587.7 235.5a1.3 1.3 0 1 0 2.6 0a1.3 1.3 0 1 0 -2.6 0M586.9 237.2a1.3 1.3 0 1 0 2.6 0a1.3 1.3 0 1 0 -2.6 0M614.9 234.7a1.3 1.3 0 1 0 2.6 0a1.3 1.3 0 1 0 -2.6 0M625.6 250.3a1.3 1.3 0 1 0 2.6 0a1.3 1.3 0 1 0 -2.6 0M504.3 223.5a1.3 1.3 0 1 0 2.6 0a1.3 1.3 0 1 0 -2.6 0M502.4 226.0a1.3 1.3 0 1 0 2.6 0a1.3 1.3 0 1 0 -2.6 0M503.8 227.9a1.3 1.3 0 1 0 2.6 0a1.3 1.3 0 1 0 -2.6 0M506.7 226.4a1.3 1.3 0 1 0 2.6 0a1.3 1.3 0 1 0 -2.6 0M508.4 219.9a1.3 1.3 0 1 0 2.6 0a1.3 1.3 0 1 0 -2.6 0M500.5 219.3a1.3 1.3 0 1 0 2.6 0a1.3 1.3 0 1 0 -2.6 0M501.7 218.0a1.3 1.3 0 1 0 2.6 0a1.3 1.3 0 1 0 -2.6 0M500.6 223.4a1.3 1.3 0 1 0 2.6 0a1.3 1.3 0 1 0 -2.6 0M507.6 222.3a1.3 1.3 0 1 0 2.6 0a1.3 1.3 0 1 0 -2.6 0M508.3 227.5a1.3 1.3 0 1 0 2.6 0a1.3 1.3 0 1 0 -2.6 0M500.7 223.9a1.3 1.3 0 1 0 2.6 0a1.3 1.3 0 1 0 -2.6 0M503.6 218.4a1.3 1.3 0 1 0 2.6 0a1.3 1.3 0 1 0 -2.6 0M508.4 220.0a1.3 1.3 0 1 0 2.6 0a1.3 1.3 0 1 0 -2.6 0M505.0 224.4a1.3 1.3 0 1 0 2.6 0a1.3 1.3 0 1 0 -2.6 0M508.3 224.7a1.3 1.3 0 1 0 2.6 0a1.3 1.3 0 1 0 -2.6 0M503.5 222.2a1.3 1.3 0 1 0 2.6 0a1.3 1.3 0 1 0 -2.6 0M501.6 228.1a1.3 1.3 0 1 0 2.6 0a1.3 1.3 0 1 0 -2.6 0M508.6 219.5a1.3 1.3 0 1 0 2.6 0a1.3 1.3 0 1 0 -2.6 0M500.5 219.9a1.3 1.3 0 1 0 2.6 0a1.3 1.3 0 1 0 -2.6 0M503.2 227.4a1.3 1.3 0 1 0 2.6 0a1.3 1.3 0 1 0 -2.6 0M507.9 226.6a1.3 1.3 0 1 0 2.6 0a1.3 1.3 0 1 0 -2.6 0M500.6 226.0a1.3 1.3 0 1 0 2.6 0a1.3 1.3 0 1 0 -2.6 0M506.2 224.4a1.3 1.3 0 1 0 2.6 0a1.3 1.3 0 1 0 -2.6 0M508.6 217.6a1.3 1.3 0 1 0 2.6 0a1.3 1.3 0 1 0 -2.6 0M501.4 225.7a1.3 1.3 0 1 0 2.6 0a1.3 1.3 0 1 0 -2.6 0M508.2 224.8a1.3 1.3 0 1 0 2.6 0a1.3 1.3 0 1 0 -2.6 0M502.7 223.8a1.3 1.3 0 1 0 2.6 0a1.3 1.3 0 1 0 -2.6 0M506.6 218.2a1.3 1.3 0 1 0 2.6 0a1.3 1.3 0 1 0 -2.6 0M123.9 91.0a1.3 1.3 0 1 0 2.6 0a1.3 1.3 0 1 0 -2.6 0M126.1 93.2a1.3 1.3 0 1 0 2.6 0a1.3 1.3 0 1 0 -2.6 0M122.9 91.0a1.3 1.3 0 1 0 2.6 0a1.3 1.3 0 1 0 -2.6 0M125.1 90.8a1.3 1.3 0 1 0 2.6 0a1.3 1.3 0 1 0 -2.6 0M121.3 89.1a1.3 1.3 0 1 0 2.6 0a1.3 1.3 0 1 0 -2.6 0M126.6 93.5a1.3 1.3 0 1 0 2.6 0a1.3 1.3 0 1 0 -2.6 0M122.7 90.4a1.3 1.3 0 1 0 2.6 0a1.3 1.3 0 1 0 -2.6 0M129.2 98.5a1.3 1.3 0 1 0 2.6 0a1.3 1.3 0 1 0 -2.6 0M128.8 95.6a1.3 1.3 0 1 0 2.6 0a1.3 1.3 0 1 0 -2.6 0M126.6 95.0a1.3 1.3 0 1 0 2.6 0a1.3 1.3 0 1 0 -2.6 0M131.8 98.6a1.3 1.3 0 1 0 2.6 0a1.3 1.3 0 1 0 -2.6 0M127.8 95.7a1.3 1.3 0 1 0 2.6 0a1.3 1.3 0 1 0 -2.6 0M132.6 101.2a1.3 1.3 0 1 0 2.6 0a1.3 1.3 0 1 0 -2.6 0M130.5 96.6a1.3 1.3 0 1 0 2.6 0a1.3 1.3 0 1 0 -2.6 0M133.5 100.3a1.3 1.3 0 1 0 2.6 0a1.3 1.3 0 1 0 -2.6 0M127.0 95.5a1.3 1.3 0 1 0 2.6 0a1.3 1.3 0 1 0 -2.6 0M133.7 102.8a1.3 1.3 0 1 0 2.6 0a1.3 1.3 0 1 0 -2.6 0M139.1 106.6a1.3 1.3 0 1 0 2.6 0a1.3 1.3 0 1 0 -2.6 0M139.2 106.8a1.3 1.3 0 1 0 2.6 0a1.3 1.3 0 1 0 -2.6 0M142.2 109.7a1.3 1.3 0 1 0 2.6 0a1.3 1.3 0 1 0 -2.6 0M136.8 104.9a1.3 1.3 0 1 0 2.6 0a1.3 1.3 0 1 0 -2.6 0M136.9 105.2a1.3 1.3 0 1 0 2.6 0a1.3 1.3 0 1 0 -2.6 0M140.9 108.9a1.3 1.3 0 1 0 2.6 0a1.3 1.3 0 1 0 -2.6 0M140.2 108.0a1.3 1.3 0 1 0 2.6 0a1.3 1.3 0 1 0 -2.6 0M136.1 105.3a1.3 1.3 0 1 0 2.6 0a1.3 1.3 0 1 0 -2.6 0M145.5 112.4a1.3 1.3 0 1 0 2.6 0a1.3 1.3 0 1 0 -2.6 0M145.3 112.0a1.3 1.3 0 1 0 2.6 0a1.3 1.3 0 1 0 -2.6 0M147.3 113.3a1.3 1.3 0 1 0 2.6 0a1.3 1.3 0 1 0 -2.6 0M146.1 113.2a1.3 1.3 0 1 0 2.6 0a1.3 1.3 0 1 0 -2.6 0M145.0 112.0a1.3 1.3 0 1 0 2.6 0a1.3 1.3 0 1 0 -2.6 0M145.1 112.0a1.3 1.3 0 1 0 2.6 0a1.3 1.3 0 1 0 -2.6 0M150.5 116.5a1.3 1.3 0 1 0 2.6 0a1.3 1.3 0 1 0 -2.6 0M149.4 114.0a1.3 1.3 0 1 0 2.6 0a1.3 1.3 0 1 0 -2.6 0M149.3 114.3a1.3 1.3 0 1 0 2.6 0a1.3 1.3 0 1 0 -2.6 0M151.9 117.1a1.3 1.3 0 1 0 2.6 0a1.3 1.3 0 1 0 -2.6 0M153.9 118.2a1.3 1.3 0 1 0 2.6 0a1.3 1.3 0 1 0 -2.6 0M154.8 118.7a1.3 1.3 0 1 0 2.6 0a1.3 1.3 0 1 0 -2.6 0M153.5 118.9a1.3 1.3 0 1 0 2.6 0a1.3 1.3 0 1 0 -2.6 0M159.4 121.3a1.3 1.3 0 1 0 2.6 0a1.3 1.3 0 1 0 -2.6 0M159.9 124.3a1.3 1.3 0 1 0 2.6 0a1.3 1.3 0 1 0 -2.6 0M157.3 121.3a1.3 1.3 0 1 0 2.6 0a1.3 1.3 0 1 0 -2.6 0M157.6 122.2a1.3 1.3 0 1 0 2.6 0a1.3 1.3 0 1 0 -2.6 0M161.6 125.1a1.3 1.3 0 1 0 2.6 0a1.3 1.3 0 1 0 -2.6 0M161.5 122.7a1.3 1.3 0 1 0 2.6 0a1.3 1.3 0 1 0 -2.6 0M160.5 124.6a1.3 1.3 0 1 0 2.6 0a1.3 1.3 0 1 0 -2.6 0M161.5 124.8a1.3 1.3 0 1 0 2.6 0a1.3 1.3 0 1 0 -2.6 0M168.6 129.2a1.3 1.3 0 1 0 2.6 0a1.3 1.3 0 1 0 -2.6 0M166.1 128.3a1.3 1.3 0 1 0 2.6 0a1.3 1.3 0 1 0 -2.6 0M164.7 126.3a1.3 1.3 0 1 0 2.6 0a1.3 1.3 0 1 0 -2.6 0M165.1 126.8a1.3 1.3 0 1 0 2.6 0a1.3 1.3 0 1 0 -2.6 0M165.4 127.5a1.3 1.3 0 1 0 2.6 0a1.3 1.3 0 1 0 -2.6 0M168.9 129.4a1.3 1.3 0 1 0 2.6 0a1.3 1.3 0 1 0 -2.6 0M167.1 129.1a1.3 1.3 0 1 0 2.6 0a1.3 1.3 0 1 0 -2.6 0M171.3 131.7a1.3 1.3 0 1 0 2.6 0a1.3 1.3 0 1 0 -2.6 0M171.1 132.2a1.3 1.3 0 1 0 2.6 0a1.3 1.3 0 1 0 -2.6 0M170.7 131.4a1.3 1.3 0 1 0 2.6 0a1.3 1.3 0 1 0 -2.6 0M216.6 92.5a1.3 1.3 0 1 0 2.6 0a1.3 1.3 0 1 0 -2.6 0M217.6 94.6a1.3 1.3 0 1 0 2.6 0a1.3 1.3 0 1 0 -2.6 0M218.7 94.2a1.3 1.3 0 1 0 2.6 0a1.3 1.3 0 1 0 -2.6 0M213.9 90.3a1.3 1.3 0 1 0 2.6 0a1.3 1.3 0 1 0 -2.6 0M214.3 91.5a1.3 1.3 0 1 0 2.6 0a1.3 1.3 0 1 0 -2.6 0M216.0 93.4a1.3 1.3 0 1 0 2.6 0a1.3 1.3 0 1 0 -2.6 0M212.9 90.0a1.3 1.3 0 1 0 2.6 0a1.3 1.3 0 1 0 -2.6 0M218.4 94.5a1.3 1.3 0 1 0 2.6 0a1.3 1.3 0 1 0 -2.6 0M224.9 101.9a1.3 1.3 0 1 0 2.6 0a1.3 1.3 0 1 0 -2.6 0M222.3 98.6a1.3 1.3 0 1 0 2.6 0a1.3 1.3 0 1 0 -2.6 0M225.5 102.3a1.3 1.3 0 1 0 2.6 0a1.3 1.3 0 1 0 -2.6 0M223.2 99.7a1.3 1.3 0 1 0 2.6 0a1.3 1.3 0 1 0 -2.6 0M222.0 99.9a1.3 1.3 0 1 0 2.6 0a1.3 1.3 0 1 0 -2.6 0M223.4 99.2a1.3 1.3 0 1 0 2.6 0a1.3 1.3 0 1 0 -2.6 0M226.8 102.2a1.3 1.3 0 1 0 2.6 0a1.3 1.3 0 1 0 -2.6 0M224.1 100.5a1.3 1.3 0 1 0 2.6 0a1.3 1.3 0 1 0 -2.6 0M222.3 98.1a1.3 1.3 0 1 0 2.6 0a1.3 1.3 0 1 0 -2.6 0M228.3 105.6a1.3 1.3 0 1 0 2.6 0a1.3 1.3 0 1 0 -2.6 0M233.3 108.7a1.3 1.3 0 1 0 2.6 0a1.3 1.3 0 1 0 -2.6 0M227.5 102.9a1.3 1.3 0 1 0 2.6 0a1.3 1.3 0 1 0 -2.6 0M229.4 104.7a1.3 1.3 0 1 0 2.6 0a1.3 1.3 0 1 0 -2.6 0M230.1 106.9a1.3 1.3 0 1 0 2.6 0a1.3 1.3 0 1 0 -2.6 0M232.1 109.0a1.3 1.3 0 1 0 2.6 0a1.3 1.3 0 1 0 -2.6 0M229.5 105.5a1.3 1.3 0 1 0 2.6 0a1.3 1.3 0 1 0 -2.6 0M230.3 107.3a1.3 1.3 0 1 0 2.6 0a1.3 1.3 0 1 0 -2.6 0M236.9 112.8a1.3 1.3 0 1 0 2.6 0a1.3 1.3 0 1 0 -2.6 0M238.6 114.9a1.3 1.3 0 1 0 2.6 0a1.3 1.3 0 1 0 -2.6 0M239.5 116.1a1.3 1.3 0 1 0 2.6 0a1.3 1.3 0 1 0 -2.6 0M239.1 114.5a1.3 1.3 0 1 0 2.6 0a1.3 1.3 0 1 0 -2.6 0M239.3 115.2a1.3 1.3 0 1 0 2.6 0a1.3 1.3 0 1 0 -2.6 0M237.4 114.4a1.3 1.3 0 1 0 2.6 0a1.3 1.3 0 1 0 -2.6 0M240.5 113.9a1.3 1.3 0 1 0 2.6 0a1.3 1.3 0 1 0 -2.6 0M236.0 112.3a1.3 1.3 0 1 0 2.6 0a1.3 1.3 0 1 0 -2.6 0M243.3 119.5a1.3 1.3 0 1 0 2.6 0a1.3 1.3 0 1 0 -2.6 0M243.5 119.3a1.3 1.3 0 1 0 2.6 0a1.3 1.3 0 1 0 -2.6 0M244.2 120.3a1.3 1.3 0 1 0 2.6 0a1.3 1.3 0 1 0 -2.6 0M245.1 118.9a1.3 1.3 0 1 0 2.6 0a1.3 1.3 0 1 0 -2.6 0M243.4 121.2a1.3 1.3 0 1 0 2.6 0a1.3 1.3 0 1 0 -2.6 0M240.9 115.5a1.3 1.3 0 1 0 2.6 0a1.3 1.3 0 1 0 -2.6 0M241.8 118.3a1.3 1.3 0 1 0 2.6 0a1.3 1.3 0 1 0 -2.6 0M244.5 120.8a1.3 1.3 0 1 0 2.6 0a1.3 1.3 0 1 0 -2.6 0M253.1 127.4a1.3 1.3 0 1 0 2.6 0a1.3 1.3 0 1 0 -2.6 0M251.4 125.7a1.3 1.3 0 1 0 2.6 0a1.3 1.3 0 1 0 -2.6 0M250.9 125.1a1.3 1.3 0 1 0 2.6 0a1.3 1.3 0 1 0 -2.6 0M251.1 125.6a1.3 1.3 0 1 0 2.6 0a1.3 1.3 0 1 0 -2.6 0M250.3 126.2a1.3 1.3 0 1 0 2.6 0a1.3 1.3 0 1 0 -2.6 0M254.6 127.8a1.3 1.3 0 1 0 2.6 0a1.3 1.3 0 1 0 -2.6 0M248.2 122.9a1.3 1.3 0 1 0 2.6 0a1.3 1.3 0 1 0 -2.6 0M248.2 123.3a1.3 1.3 0 1 0 2.6 0a1.3 1.3 0 1 0 -2.6 0M255.1 128.5a1.3 1.3 0 1 0 2.6 0a1.3 1.3 0 1 0 -2.6 0M256.1 128.1a1.3 1.3 0 1 0 2.6 0a1.3 1.3 0 1 0 -2.6 0M258.6 131.1a1.3 1.3 0 1 0 2.6 0a1.3 1.3 0 1 0 -2.6 0M259.9 132.2a1.3 1.3 0 1 0 2.6 0a1.3 1.3 0 1 0 -2.6 0M259.6 132.0a1.3 1.3 0 1 0 2.6 0a1.3 1.3 0 1 0 -2.6 0M256.6 129.7a1.3 1.3 0 1 0 2.6 0a1.3 1.3 0 1 0 -2.6 0M255.7 128.6a1.3 1.3 0 1 0 2.6 0a1.3 1.3 0 1 0 -2.6 0M260.4 134.2a1.3 1.3 0 1 0 2.6 0a1.3 1.3 0 1 0 -2.6 0M260.9 135.3a1.3 1.3 0 1 0 2.6 0a1.3 1.3 0 1 0 -2.6 0M262.1 134.2a1.3 1.3 0 1 0 2.6 0a1.3 1.3 0 1 0 -2.6 0M399.2 94.3a1.3 1.3 0 1 0 2.6 0a1.3 1.3 0 1 0 -2.6 0M398.2 93.7a1.3 1.3 0 1 0 2.6 0a1.3 1.3 0 1 0 -2.6 0M395.7 88.3a1.3 1.3 0 1 0 2.6 0a1.3 1.3 0 1 0 -2.6 0M395.2 90.4a1.3 1.3 0 1 0 2.6 0a1.3 1.3 0 1 0 -2.6 0M398.1 92.4a1.3 1.3 0 1 0 2.6 0a1.3 1.3 0 1 0 -2.6 0M397.0 89.7a1.3 1.3 0 1 0 2.6 0a1.3 1.3 0 1 0 -2.6 0M398.1 92.9a1.3 1.3 0 1 0 2.6 0a1.3 1.3 0 1 0 -2.6 0M402.0 96.8a1.3 1.3 0 1 0 2.6 0a1.3 1.3 0 1 0 -2.6 0M405.8 99.4a1.3 1.3 0 1 0 2.6 0a1.3 1.3 0 1 0 -2.6 0M401.0 96.8a1.3 1.3 0 1 0 2.6 0a1.3 1.3 0 1 0 -2.6 0M405.6 101.3a1.3 1.3 0 1 0 2.6 0a1.3 1.3 0 1 0 -2.6 0M406.0 100.5a1.3 1.3 0 1 0 2.6 0a1.3 1.3 0 1 0 -2.6 0M401.5 95.9a1.3 1.3 0 1 0 2.6 0a1.3 1.3 0 1 0 -2.6 0M402.0 96.0a1.3 1.3 0 1 0 2.6 0a1.3 1.3 0 1 0 -2.6 0M400.1 95.2a1.3 1.3 0 1 0 2.6 0a1.3 1.3 0 1 0 -2.6 0M403.0 96.9a1.3 1.3 0 1 0 2.6 0a1.3 1.3 0 1 0 -2.6 0M407.4 101.3a1.3 1.3 0 1 0 2.6 0a1.3 1.3 0 1 0 -2.6 0M413.3 106.8a1.3 1.3 0 1 0 2.6 0a1.3 1.3 0 1 0 -2.6 0M412.4 105.5a1.3 1.3 0 1 0 2.6 0a1.3 1.3 0 1 0 -2.6 0M414.2 107.6a1.3 1.3 0 1 0 2.6 0a1.3 1.3 0 1 0 -2.6 0M415.4 108.7a1.3 1.3 0 1 0 2.6 0a1.3 1.3 0 1 0 -2.6 0M415.0 108.3a1.3 1.3 0 1 0 2.6 0a1.3 1.3 0 1 0 -2.6 0M415.5 109.0a1.3 1.3 0 1 0 2.6 0a1.3 1.3 0 1 0 -2.6 0M413.2 107.5a1.3 1.3 0 1 0 2.6 0a1.3 1.3 0 1 0 -2.6 0M409.3 103.7a1.3 1.3 0 1 0 2.6 0a1.3 1.3 0 1 0 -2.6 0M414.8 108.7a1.3 1.3 0 1 0 2.6 0a1.3 1.3 0 1 0 -2.6 0M419.9 114.9a1.3 1.3 0 1 0 2.6 0a1.3 1.3 0 1 0 -2.6 0M417.4 110.2a1.3 1.3 0 1 0 2.6 0a1.3 1.3 0 1 0 -2.6 0M421.3 113.5a1.3 1.3 0 1 0 2.6 0a1.3 1.3 0 1 0 -2.6 0M421.3 114.3a1.3 1.3 0 1 0 2.6 0a1.3 1.3 0 1 0 -2.6 0M421.7 115.2a1.3 1.3 0 1 0 2.6 0a1.3 1.3 0 1 0 -2.6 0M418.5 112.8a1.3 1.3 0 1 0 2.6 0a1.3 1.3 0 1 0 -2.6 0M428.6 119.3a1.3 1.3 0 1 0 2.6 0a1.3 1.3 0 1 0 -2.6 0M429.4 119.8a1.3 1.3 0 1 0 2.6 0a1.3 1.3 0 1 0 -2.6 0M422.9 115.2a1.3 1.3 0 1 0 2.6 0a1.3 1.3 0 1 0 -2.6 0M428.4 118.9a1.3 1.3 0 1 0 2.6 0a1.3 1.3 0 1 0 -2.6 0M429.7 121.0a1.3 1.3 0 1 0 2.6 0a1.3 1.3 0 1 0 -2.6 0M423.3 116.1a1.3 1.3 0 1 0 2.6 0a1.3 1.3 0 1 0 -2.6 0M428.1 119.3a1.3 1.3 0 1 0 2.6 0a1.3 1.3 0 1 0 -2.6 0M428.9 120.0a1.3 1.3 0 1 0 2.6 0a1.3 1.3 0 1 0 -2.6 0M429.8 121.7a1.3 1.3 0 1 0 2.6 0a1.3 1.3 0 1 0 -2.6 0M435.3 123.9a1.3 1.3 0 1 0 2.6 0a1.3 1.3 0 1 0 -2.6 0M431.0 121.4a1.3 1.3 0 1 0 2.6 0a1.3 1.3 0 1 0 -2.6 0M433.2 122.6a1.3 1.3 0 1 0 2.6 0a1.3 1.3 0 1 0 -2.6 0M432.6 122.9a1.3 1.3 0 1 0 2.6 0a1.3 1.3 0 1 0 -2.6 0M431.6 121.6a1.3 1.3 0 1 0 2.6 0a1.3 1.3 0 1 0 -2.6 0M432.7 121.6a1.3 1.3 0 1 0 2.6 0a1.3 1.3 0 1 0 -2.6 0M432.6 121.8a1.3 1.3 0 1 0 2.6 0a1.3 1.3 0 1 0 -2.6 0M442.6 127.5a1.3 1.3 0 1 0 2.6 0a1.3 1.3 0 1 0 -2.6 0M439.6 126.2a1.3 1.3 0 1 0 2.6 0a1.3 1.3 0 1 0 -2.6 0M438.0 127.4a1.3 1.3 0 1 0 2.6 0a1.3 1.3 0 1 0 -2.6 0M440.8 126.4a1.3 1.3 0 1 0 2.6 0a1.3 1.3 0 1 0 -2.6 0M440.2 127.9a1.3 1.3 0 1 0 2.6 0a1.3 1.3 0 1 0 -2.6 0M488.3 94.7a1.3 1.3 0 1 0 2.6 0a1.3 1.3 0 1 0 -2.6 0M487.1 94.1a1.3 1.3 0 1 0 2.6 0a1.3 1.3 0 1 0 -2.6 0M486.7 92.9a1.3 1.3 0 1 0 2.6 0a1.3 1.3 0 1 0 -2.6 0M485.6 90.0a1.3 1.3 0 1 0 2.6 0a1.3 1.3 0 1 0 -2.6 0M486.0 91.7a1.3 1.3 0 1 0 2.6 0a1.3 1.3 0 1 0 -2.6 0M484.2 90.9a1.3 1.3 0 1 0 2.6 0a1.3 1.3 0 1 0 -2.6 0M485.5 92.1a1.3 1.3 0 1 0 2.6 0a1.3 1.3 0 1 0 -2.6 0M492.6 99.1a1.3 1.3 0 1 0 2.6 0a1.3 1.3 0 1 0 -2.6 0M491.0 96.1a1.3 1.3 0 1 0 2.6 0a1.3 1.3 0 1 0 -2.6 0M492.2 98.3a1.3 1.3 0 1 0 2.6 0a1.3 1.3 0 1 0 -2.6 0M491.1 96.8a1.3 1.3 0 1 0 2.6 0a1.3 1.3 0 1 0 -2.6 0M497.0 101.6a1.3 1.3 0 1 0 2.6 0a1.3 1.3 0 1 0 -2.6 0M494.8 100.8a1.3 1.3 0 1 0 2.6 0a1.3 1.3 0 1 0 -2.6 0M496.6 101.9a1.3 1.3 0 1 0 2.6 0a1.3 1.3 0 1 0 -2.6 0M493.6 99.5a1.3 1.3 0 1 0 2.6 0a1.3 1.3 0 1 0 -2.6 0M500.4 105.0a1.3 1.3 0 1 0 2.6 0a1.3 1.3 0 1 0 -2.6 0M498.7 102.9a1.3 1.3 0 1 0 2.6 0a1.3 1.3 0 1 0 -2.6 0M504.7 108.1a1.3 1.3 0 1 0 2.6 0a1.3 1.3 0 1 0 -2.6 0M503.1 105.4a1.3 1.3 0 1 0 2.6 0a1.3 1.3 0 1 0 -2.6 0M503.2 105.4a1.3 1.3 0 1 0 2.6 0a1.3 1.3 0 1 0 -2.6 0M499.2 103.4a1.3 1.3 0 1 0 2.6 0a1.3 1.3 0 1 0 -2.6 0M497.1 102.1a1.3 1.3 0 1 0 2.6 0a1.3 1.3 0 1 0 -2.6 0M503.3 107.3a1.3 1.3 0 1 0 2.6 0a1.3 1.3 0 1 0 -2.6 0M498.9 102.6a1.3 1.3 0 1 0 2.6 0a1.3 1.3 0 1 0 -2.6 0M508.2 113.4a1.3 1.3 0 1 0 2.6 0a1.3 1.3 0 1 0 -2.6 0M507.2 109.1a1.3 1.3 0 1 0 2.6 0a1.3 1.3 0 1 0 -2.6 0M509.2 114.2a1.3 1.3 0 1 0 2.6 0a1.3 1.3 0 1 0 -2.6 0M507.9 110.3a1.3 1.3 0 1 0 2.6 0a1.3 1.3 0 1 0 -2.6 0M506.2 110.1a1.3 1.3 0 1 0 2.6 0a1.3 1.3 0 1 0 -2.6 0M507.8 110.8a1.3 1.3 0 1 0 2.6 0a1.3 1.3 0 1 0 -2.6 0M509.0 111.8a1.3 1.3 0 1 0 2.6 0a1.3 1.3 0 1 0 -2.6 0M512.0 117.2a1.3 1.3 0 1 0 2.6 0a1.3 1.3 0 1 0 -2.6 0M511.5 114.8a1.3 1.3 0 1 0 2.6 0a1.3 1.3 0 1 0 -2.6 0M516.8 118.8a1.3 1.3 0 1 0 2.6 0a1.3 1.3 0 1 0 -2.6 0M515.1 119.7a1.3 1.3 0 1 0 2.6 0a1.3 1.3 0 1 0 -2.6 0M514.8 116.9a1.3 1.3 0 1 0 2.6 0a1.3 1.3 0 1 0 -2.6 0M514.2 117.9a1.3 1.3 0 1 0 2.6 0a1.3 1.3 0 1 0 -2.6 0M514.7 118.4a1.3 1.3 0 1 0 2.6 0a1.3 1.3 0 1 0 -2.6 0M518.6 120.4a1.3 1.3 0 1 0 2.6 0a1.3 1.3 0 1 0 -2.6 0M521.3 122.4a1.3 1.3 0 1 0 2.6 0a1.3 1.3 0 1 0 -2.6 0M524.7 125.9a1.3 1.3 0 1 0 2.6 0a1.3 1.3 0 1 0 -2.6 0M521.0 122.7a1.3 1.3 0 1 0 2.6 0a1.3 1.3 0 1 0 -2.6 0M519.3 121.1a1.3 1.3 0 1 0 2.6 0a1.3 1.3 0 1 0 -2.6 0M523.9 125.0a1.3 1.3 0 1 0 2.6 0a1.3 1.3 0 1 0 -2.6 0M523.9 125.2a1.3 1.3 0 1 0 2.6 0a1.3 1.3 0 1 0 -2.6 0M520.3 121.2a1.3 1.3 0 1 0 2.6 0a1.3 1.3 0 1 0 -2.6 0M531.3 130.2a1.3 1.3 0 1 0 2.6 0a1.3 1.3 0 1 0 -2.6 0M528.1 128.4a1.3 1.3 0 1 0 2.6 0a1.3 1.3 0 1 0 -2.6 0M529.3 128.6a1.3 1.3 0 1 0 2.6 0a1.3 1.3 0 1 0 -2.6 0M533.7 131.6a1.3 1.3 0 1 0 2.6 0a1.3 1.3 0 1 0 -2.6 0M526.6 127.0a1.3 1.3 0 1 0 2.6 0a1.3 1.3 0 1 0 -2.6 0M529.6 130.5a1.3 1.3 0 1 0 2.6 0a1.3 1.3 0 1 0 -2.6 0M528.0 128.5a1.3 1.3 0 1 0 2.6 0a1.3 1.3 0 1 0 -2.6 0M527.7 128.5a1.3 1.3 0 1 0 2.6 0a1.3 1.3 0 1 0 -2.6 0M528.2 130.3a1.3 1.3 0 1 0 2.6 0a1.3 1.3 0 1 0 -2.6 0M532.9 131.9a1.3 1.3 0 1 0 2.6 0a1.3 1.3 0 1 0 -2.6 0M579.8 95.2a1.3 1.3 0 1 0 2.6 0a1.3 1.3 0 1 0 -2.6 0M577.1 92.3a1.3 1.3 0 1 0 2.6 0a1.3 1.3 0 1 0 -2.6 0M576.9 90.3a1.3 1.3 0 1 0 2.6 0a1.3 1.3 0 1 0 -2.6 0M579.8 95.1a1.3 1.3 0 1 0 2.6 0a1.3 1.3 0 1 0 -2.6 0M575.0 90.9a1.3 1.3 0 1 0 2.6 0a1.3 1.3 0 1 0 -2.6 0M578.3 95.1a1.3 1.3 0 1 0 2.6 0a1.3 1.3 0 1 0 -2.6 0M577.7 92.4a1.3 1.3 0 1 0 2.6 0a1.3 1.3 0 1 0 -2.6 0M588.0 102.8a1.3 1.3 0 1 0 2.6 0a1.3 1.3 0 1 0 -2.6 0M583.8 99.8a1.3 1.3 0 1 0 2.6 0a1.3 1.3 0 1 0 -2.6 0M582.1 96.4a1.3 1.3 0 1 0 2.6 0a1.3 1.3 0 1 0 -2.6 0M583.5 99.0a1.3 1.3 0 1 0 2.6 0a1.3 1.3 0 1 0 -2.6 0M585.0 101.8a1.3 1.3 0 1 0 2.6 0a1.3 1.3 0 1 0 -2.6 0M581.2 96.9a1.3 1.3 0 1 0 2.6 0a1.3 1.3 0 1 0 -2.6 0M584.5 100.3a1.3 1.3 0 1 0 2.6 0a1.3 1.3 0 1 0 -2.6 0M586.1 100.4a1.3 1.3 0 1 0 2.6 0a1.3 1.3 0 1 0 -2.6 0M580.8 96.6a1.3 1.3 0 1 0 2.6 0a1.3 1.3 0 1 0 -2.6 0M585.9 100.7a1.3 1.3 0 1 0 2.6 0a1.3 1.3 0 1 0 -2.6 0M593.0 107.3a1.3 1.3 0 1 0 2.6 0a1.3 1.3 0 1 0 -2.6 0M597.3 111.3a1.3 1.3 0 1 0 2.6 0a1.3 1.3 0 1 0 -2.6 0M594.8 108.8a1.3 1.3 0 1 0 2.6 0a1.3 1.3 0 1 0 -2.6 0M591.6 105.9a1.3 1.3 0 1 0 2.6 0a1.3 1.3 0 1 0 -2.6 0M591.0 106.4a1.3 1.3 0 1 0 2.6 0a1.3 1.3 0 1 0 -2.6 0M595.0 106.8a1.3 1.3 0 1 0 2.6 0a1.3 1.3 0 1 0 -2.6 0M597.7 110.8a1.3 1.3 0 1 0 2.6 0a1.3 1.3 0 1 0 -2.6 0M590.2 103.5a1.3 1.3 0 1 0 2.6 0a1.3 1.3 0 1 0 -2.6 0M596.8 109.9a1.3 1.3 0 1 0 2.6 0a1.3 1.3 0 1 0 -2.6 0M601.2 112.9a1.3 1.3 0 1 0 2.6 0a1.3 1.3 0 1 0 -2.6 0M599.5 111.6a1.3 1.3 0 1 0 2.6 0a1.3 1.3 0 1 0 -2.6 0M598.6 112.2a1.3 1.3 0 1 0 2.6 0a1.3 1.3 0 1 0 -2.6 0M602.3 112.9a1.3 1.3 0 1 0 2.6 0a1.3 1.3 0 1 0 -2.6 0M606.9 118.3a1.3 1.3 0 1 0 2.6 0a1.3 1.3 0 1 0 -2.6 0M606.4 119.7a1.3 1.3 0 1 0 2.6 0a1.3 1.3 0 1 0 -2.6 0M605.7 117.1a1.3 1.3 0 1 0 2.6 0a1.3 1.3 0 1 0 -2.6 0M606.0 117.4a1.3 1.3 0 1 0 2.6 0a1.3 1.3 0 1 0 -2.6 0M604.3 117.1a1.3 1.3 0 1 0 2.6 0a1.3 1.3 0 1 0 -2.6 0M603.9 116.4a1.3 1.3 0 1 0 2.6 0a1.3 1.3 0 1 0 -2.6 0M609.2 120.1a1.3 1.3 0 1 0 2.6 0a1.3 1.3 0 1 0 -2.6 0M603.5 115.7a1.3 1.3 0 1 0 2.6 0a1.3 1.3 0 1 0 -2.6 0M610.7 122.0a1.3 1.3 0 1 0 2.6 0a1.3 1.3 0 1 0 -2.6 0M608.8 120.9a1.3 1.3 0 1 0 2.6 0a1.3 1.3 0 1 0 -2.6 0M615.5 125.8a1.3 1.3 0 1 0 2.6 0a1.3 1.3 0 1 0 -2.6 0M612.8 124.4a1.3 1.3 0 1 0 2.6 0a1.3 1.3 0 1 0 -2.6 0M611.0 122.7a1.3 1.3 0 1 0 2.6 0a1.3 1.3 0 1 0 -2.6 0M610.9 122.7a1.3 1.3 0 1 0 2.6 0a1.3 1.3 0 1 0 -2.6 0M611.2 122.5a1.3 1.3 0 1 0 2.6 0a1.3 1.3 0 1 0 -2.6 0M616.1 126.1a1.3 1.3 0 1 0 2.6 0a1.3 1.3 0 1 0 -2.6 0M618.6 129.9a1.3 1.3 0 1 0 2.6 0a1.3 1.3 0 1 0 -2.6 0M617.0 127.3a1.3 1.3 0 1 0 2.6 0a1.3 1.3 0 1 0 -2.6 0M618.6 127.0a1.3 1.3 0 1 0 2.6 0a1.3 1.3 0 1 0 -2.6 0M619.7 128.7a1.3 1.3 0 1 0 2.6 0a1.3 1.3 0 1 0 -2.6 0M623.6 131.3a1.3 1.3 0 1 0 2.6 0a1.3 1.3 0 1 0 -2.6 0M616.3 128.0a1.3 1.3 0 1 0 2.6 0a1.3 1.3 0 1 0 -2.6 0M620.1 130.6a1.3 1.3 0 1 0 2.6 0a1.3 1.3 0 1 0 -2.6 0M618.5 128.6a1.3 1.3 0 1 0 2.6 0a1.3 1.3 0 1 0 -2.6 0M616.1 127.5a1.3 1.3 0 1 0 2.6 0a1.3 1.3 0 1 0 -2.6 0M667.7 93.6a1.3 1.3 0 1 0 2.6 0a1.3 1.3 0 1 0 -2.6 0M667.8 92.6a1.3 1.3 0 1 0 2.6 0a1.3 1.3 0 1 0 -2.6 0M669.4 92.9a1.3 1.3 0 1 0 2.6 0a1.3 1.3 0 1 0 -2.6 0M669.1 92.8a1.3 1.3 0 1 0 2.6 0a1.3 1.3 0 1 0 -2.6 0M665.5 91.1a1.3 1.3 0 1 0 2.6 0a1.3 1.3 0 1 0 -2.6 0M672.3 95.9a1.3 1.3 0 1 0 2.6 0a1.3 1.3 0 1 0 -2.6 0M667.2 89.9a1.3 1.3 0 1 0 2.6 0a1.3 1.3 0 1 0 -2.6 0M675.4 98.2a1.3 1.3 0 1 0 2.6 0a1.3 1.3 0 1 0 -2.6 0M672.6 97.2a1.3 1.3 0 1 0 2.6 0a1.3 1.3 0 1 0 -2.6 0M678.1 102.5a1.3 1.3 0 1 0 2.6 0a1.3 1.3 0 1 0 -2.6 0M672.5 97.3a1.3 1.3 0 1 0 2.6 0a1.3 1.3 0 1 0 -2.6 0M677.0 99.8a1.3 1.3 0 1 0 2.6 0a1.3 1.3 0 1 0 -2.6 0M677.7 99.9a1.3 1.3 0 1 0 2.6 0a1.3 1.3 0 1 0 -2.6 0M677.3 100.6a1.3 1.3 0 1 0 2.6 0a1.3 1.3 0 1 0 -2.6 0M674.8 98.8a1.3 1.3 0 1 0 2.6 0a1.3 1.3 0 1 0 -2.6 0M678.4 101.3a1.3 1.3 0 1 0 2.6 0a1.3 1.3 0 1 0 -2.6 0M678.3 102.3a1.3 1.3 0 1 0 2.6 0a1.3 1.3 0 1 0 -2.6 0M686.3 108.5a1.3 1.3 0 1 0 2.6 0a1.3 1.3 0 1 0 -2.6 0M687.7 109.9a1.3 1.3 0 1 0 2.6 0a1.3 1.3 0 1 0 -2.6 0M683.9 107.6a1.3 1.3 0 1 0 2.6 0a1.3 1.3 0 1 0 -2.6 0M686.9 110.2a1.3 1.3 0 1 0 2.6 0a1.3 1.3 0 1 0 -2.6 0M683.6 107.2a1.3 1.3 0 1 0 2.6 0a1.3 1.3 0 1 0 -2.6 0M684.9 108.4a1.3 1.3 0 1 0 2.6 0a1.3 1.3 0 1 0 -2.6 0M687.9 109.8a1.3 1.3 0 1 0 2.6 0a1.3 1.3 0 1 0 -2.6 0M681.9 105.5a1.3 1.3 0 1 0 2.6 0a1.3 1.3 0 1 0 -2.6 0M687.8 110.4a1.3 1.3 0 1 0 2.6 0a1.3 1.3 0 1 0 -2.6 0M687.4 112.0a1.3 1.3 0 1 0 2.6 0a1.3 1.3 0 1 0 -2.6 0M690.1 114.1a1.3 1.3 0 1 0 2.6 0a1.3 1.3 0 1 0 -2.6 0M687.8 112.1a1.3 1.3 0 1 0 2.6 0a1.3 1.3 0 1 0 -2.6 0M688.4 111.2a1.3 1.3 0 1 0 2.6 0a1.3 1.3 0 1 0 -2.6 0M688.5 111.5a1.3 1.3 0 1 0 2.6 0a1.3 1.3 0 1 0 -2.6 0M689.7 110.1a1.3 1.3 0 1 0 2.6 0a1.3 1.3 0 1 0 -2.6 0M692.9 116.8a1.3 1.3 0 1 0 2.6 0a1.3 1.3 0 1 0 -2.6 0M700.2 121.8a1.3 1.3 0 1 0 2.6 0a1.3 1.3 0 1 0 -2.6 0M696.7 119.0a1.3 1.3 0 1 0 2.6 0a1.3 1.3 0 1 0 -2.6 0M698.9 120.8a1.3 1.3 0 1 0 2.6 0a1.3 1.3 0 1 0 -2.6 0M696.6 118.6a1.3 1.3 0 1 0 2.6 0a1.3 1.3 0 1 0 -2.6 0M692.5 118.4a1.3 1.3 0 1 0 2.6 0a1.3 1.3 0 1 0 -2.6 0M697.3 121.7a1.3 1.3 0 1 0 2.6 0a1.3 1.3 0 1 0 -2.6 0M695.3 119.3a1.3 1.3 0 1 0 2.6 0a1.3 1.3 0 1 0 -2.6 0M705.4 128.3a1.3 1.3 0 1 0 2.6 0a1.3 1.3 0 1 0 -2.6 0M702.5 125.1a1.3 1.3 0 1 0 2.6 0a1.3 1.3 0 1 0 -2.6 0M705.7 128.7a1.3 1.3 0 1 0 2.6 0a1.3 1.3 0 1 0 -2.6 0M701.8 123.4a1.3 1.3 0 1 0 2.6 0a1.3 1.3 0 1 0 -2.6 0M701.7 123.8a1.3 1.3 0 1 0 2.6 0a1.3 1.3 0 1 0 -2.6 0M700.9 124.5a1.3 1.3 0 1 0 2.6 0a1.3 1.3 0 1 0 -2.6 0M701.3 123.7a1.3 1.3 0 1 0 2.6 0a1.3 1.3 0 1 0 -2.6 0M702.8 123.2a1.3 1.3 0 1 0 2.6 0a1.3 1.3 0 1 0 -2.6 0M709.2 132.6a1.3 1.3 0 1 0 2.6 0a1.3 1.3 0 1 0 -2.6 0M706.4 129.5a1.3 1.3 0 1 0 2.6 0a1.3 1.3 0 1 0 -2.6 0M708.7 132.2a1.3 1.3 0 1 0 2.6 0a1.3 1.3 0 1 0 -2.6 0M709.2 131.2a1.3 1.3 0 1 0 2.6 0a1.3 1.3 0 1 0 -2.6 0M127.2 209.4a1.3 1.3 0 1 0 2.6 0a1.3 1.3 0 1 0 -2.6 0M126.2 205.9a1.3 1.3 0 1 0 2.6 0a1.3 1.3 0 1 0 -2.6 0M124.0 204.5a1.3 1.3 0 1 0 2.6 0a1.3 1.3 0 1 0 -2.6 0M125.8 207.9a1.3 1.3 0 1 0 2.6 0a1.3 1.3 0 1 0 -2.6 0M126.8 208.0a1.3 1.3 0 1 0 2.6 0a1.3 1.3 0 1 0 -2.6 0M124.9 205.7a1.3 1.3 0 1 0 2.6 0a1.3 1.3 0 1 0 -2.6 0M126.2 208.1a1.3 1.3 0 1 0 2.6 0a1.3 1.3 0 1 0 -2.6 0M124.2 205.5a1.3 1.3 0 1 0 2.6 0a1.3 1.3 0 1 0 -2.6 0M130.5 211.7a1.3 1.3 0 1 0 2.6 0a1.3 1.3 0 1 0 -2.6 0M133.4 215.3a1.3 1.3 0 1 0 2.6 0a1.3 1.3 0 1 0 -2.6 0M131.1 215.2a1.3 1.3 0 1 0 2.6 0a1.3 1.3 0 1 0 -2.6 0M134.7 215.8a1.3 1.3 0 1 0 2.6 0a1.3 1.3 0 1 0 -2.6 0M130.1 212.1a1.3 1.3 0 1 0 2.6 0a1.3 1.3 0 1 0 -2.6 0M128.9 212.0a1.3 1.3 0 1 0 2.6 0a1.3 1.3 0 1 0 -2.6 0M132.8 214.4a1.3 1.3 0 1 0 2.6 0a1.3 1.3 0 1 0 -2.6 0M132.4 214.8a1.3 1.3 0 1 0 2.6 0a1.3 1.3 0 1 0 -2.6 0M129.9 211.4a1.3 1.3 0 1 0 2.6 0a1.3 1.3 0 1 0 -2.6 0M135.6 216.5a1.3 1.3 0 1 0 2.6 0a1.3 1.3 0 1 0 -2.6 0M143.2 224.6a1.3 1.3 0 1 0 2.6 0a1.3 1.3 0 1 0 -2.6 0M143.8 225.0a1.3 1.3 0 1 0 2.6 0a1.3 1.3 0 1 0 -2.6 0M139.8 221.2a1.3 1.3 0 1 0 2.6 0a1.3 1.3 0 1 0 -2.6 0M143.3 224.6a1.3 1.3 0 1 0 2.6 0a1.3 1.3 0 1 0 -2.6 0M138.0 219.5a1.3 1.3 0 1 0 2.6 0a1.3 1.3 0 1 0 -2.6 0M138.3 220.7a1.3 1.3 0 1 0 2.6 0a1.3 1.3 0 1 0 -2.6 0M142.9 224.6a1.3 1.3 0 1 0 2.6 0a1.3 1.3 0 1 0 -2.6 0M141.0 222.1a1.3 1.3 0 1 0 2.6 0a1.3 1.3 0 1 0 -2.6 0M139.7 221.5a1.3 1.3 0 1 0 2.6 0a1.3 1.3 0 1 0 -2.6 0M149.2 231.5a1.3 1.3 0 1 0 2.6 0a1.3 1.3 0 1 0 -2.6 0M147.3 228.2a1.3 1.3 0 1 0 2.6 0a1.3 1.3 0 1 0 -2.6 0M148.1 230.5a1.3 1.3 0 1 0 2.6 0a1.3 1.3 0 1 0 -2.6 0M148.0 229.6a1.3 1.3 0 1 0 2.6 0a1.3 1.3 0 1 0 -2.6 0M146.7 227.6a1.3 1.3 0 1 0 2.6 0a1.3 1.3 0 1 0 -2.6 0M146.4 227.9a1.3 1.3 0 1 0 2.6 0a1.3 1.3 0 1 0 -2.6 0M151.5 233.4a1.3 1.3 0 1 0 2.6 0a1.3 1.3 0 1 0 -2.6 0M150.4 232.8a1.3 1.3 0 1 0 2.6 0a1.3 1.3 0 1 0 -2.6 0M152.8 235.0a1.3 1.3 0 1 0 2.6 0a1.3 1.3 0 1 0 -2.6 0M154.0 235.6a1.3 1.3 0 1 0 2.6 0a1.3 1.3 0 1 0 -2.6 0M151.1 233.0a1.3 1.3 0 1 0 2.6 0a1.3 1.3 0 1 0 -2.6 0M154.7 236.5a1.3 1.3 0 1 0 2.6 0a1.3 1.3 0 1 0 -2.6 0M150.1 231.5a1.3 1.3 0 1 0 2.6 0a1.3 1.3 0 1 0 -2.6 0M157.8 237.1a1.3 1.3 0 1 0 2.6 0a1.3 1.3 0 1 0 -2.6 0M158.5 239.0a1.3 1.3 0 1 0 2.6 0a1.3 1.3 0 1 0 -2.6 0M158.8 237.9a1.3 1.3 0 1 0 2.6 0a1.3 1.3 0 1 0 -2.6 0M156.7 236.7a1.3 1.3 0 1 0 2.6 0a1.3 1.3 0 1 0 -2.6 0M160.2 240.2a1.3 1.3 0 1 0 2.6 0a1.3 1.3 0 1 0 -2.6 0M158.3 237.6a1.3 1.3 0 1 0 2.6 0a1.3 1.3 0 1 0 -2.6 0M166.6 244.0a1.3 1.3 0 1 0 2.6 0a1.3 1.3 0 1 0 -2.6 0M164.4 241.7a1.3 1.3 0 1 0 2.6 0a1.3 1.3 0 1 0 -2.6 0M167.3 244.4a1.3 1.3 0 1 0 2.6 0a1.3 1.3 0 1 0 -2.6 0M162.7 242.6a1.3 1.3 0 1 0 2.6 0a1.3 1.3 0 1 0 -2.6 0M164.3 242.1a1.3 1.3 0 1 0 2.6 0a1.3 1.3 0 1 0 -2.6 0M169.9 242.5a1.3 1.3 0 1 0 2.6 0a1.3 1.3 0 1 0 -2.6 0M170.3 242.5a1.3 1.3 0 1 0 2.6 0a1.3 1.3 0 1 0 -2.6 0M168.6 242.6a1.3 1.3 0 1 0 2.6 0a1.3 1.3 0 1 0 -2.6 0M171.3 237.5a1.3 1.3 0 1 0 2.6 0a1.3 1.3 0 1 0 -2.6 0M172.2 238.3a1.3 1.3 0 1 0 2.6 0a1.3 1.3 0 1 0 -2.6 0M171.3 239.6a1.3 1.3 0 1 0 2.6 0a1.3 1.3 0 1 0 -2.6 0M171.5 239.6a1.3 1.3 0 1 0 2.6 0a1.3 1.3 0 1 0 -2.6 0M170.9 234.2a1.3 1.3 0 1 0 2.6 0a1.3 1.3 0 1 0 -2.6 0M170.8 231.7a1.3 1.3 0 1 0 2.6 0a1.3 1.3 0 1 0 -2.6 0M171.8 234.0a1.3 1.3 0 1 0 2.6 0a1.3 1.3 0 1 0 -2.6 0M171.0 232.1a1.3 1.3 0 1 0 2.6 0a1.3 1.3 0 1 0 -2.6 0M170.6 234.6a1.3 1.3 0 1 0 2.6 0a1.3 1.3 0 1 0 -2.6 0M212.2 203.8a1.3 1.3 0 1 0 2.6 0a1.3 1.3 0 1 0 -2.6 0M212.7 205.3a1.3 1.3 0 1 0 2.6 0a1.3 1.3 0 1 0 -2.6 0M214.7 207.8a1.3 1.3 0 1 0 2.6 0a1.3 1.3 0 1 0 -2.6 0M218.1 210.6a1.3 1.3 0 1 0 2.6 0a1.3 1.3 0 1 0 -2.6 0M219.2 211.9a1.3 1.3 0 1 0 2.6 0a1.3 1.3 0 1 0 -2.6 0M215.1 208.1a1.3 1.3 0 1 0 2.6 0a1.3 1.3 0 1 0 -2.6 0M216.8 209.9a1.3 1.3 0 1 0 2.6 0a1.3 1.3 0 1 0 -2.6 0M212.7 206.8a1.3 1.3 0 1 0 2.6 0a1.3 1.3 0 1 0 -2.6 0M215.8 208.6a1.3 1.3 0 1 0 2.6 0a1.3 1.3 0 1 0 -2.6 0M217.6 209.5a1.3 1.3 0 1 0 2.6 0a1.3 1.3 0 1 0 -2.6 0M220.0 213.1a1.3 1.3 0 1 0 2.6 0a1.3 1.3 0 1 0 -2.6 0M227.1 219.0a1.3 1.3 0 1 0 2.6 0a1.3 1.3 0 1 0 -2.6 0M227.0 220.3a1.3 1.3 0 1 0 2.6 0a1.3 1.3 0 1 0 -2.6 0M221.8 214.1a1.3 1.3 0 1 0 2.6 0a1.3 1.3 0 1 0 -2.6 0M222.1 214.8a1.3 1.3 0 1 0 2.6 0a1.3 1.3 0 1 0 -2.6 0M227.4 218.7a1.3 1.3 0 1 0 2.6 0a1.3 1.3 0 1 0 -2.6 0M220.8 211.9a1.3 1.3 0 1 0 2.6 0a1.3 1.3 0 1 0 -2.6 0M224.1 216.8a1.3 1.3 0 1 0 2.6 0a1.3 1.3 0 1 0 -2.6 0M223.5 216.5a1.3 1.3 0 1 0 2.6 0a1.3 1.3 0 1 0 -2.6 0M221.3 214.3a1.3 1.3 0 1 0 2.6 0a1.3 1.3 0 1 0 -2.6 0M234.7 226.3a1.3 1.3 0 1 0 2.6 0a1.3 1.3 0 1 0 -2.6 0M235.4 226.1a1.3 1.3 0 1 0 2.6 0a1.3 1.3 0 1 0 -2.6 0M228.7 219.0a1.3 1.3 0 1 0 2.6 0a1.3 1.3 0 1 0 -2.6 0M231.0 221.5a1.3 1.3 0 1 0 2.6 0a1.3 1.3 0 1 0 -2.6 0M235.4 226.4a1.3 1.3 0 1 0 2.6 0a1.3 1.3 0 1 0 -2.6 0M230.4 222.0a1.3 1.3 0 1 0 2.6 0a1.3 1.3 0 1 0 -2.6 0M231.2 223.0a1.3 1.3 0 1 0 2.6 0a1.3 1.3 0 1 0 -2.6 0M228.3 221.9a1.3 1.3 0 1 0 2.6 0a1.3 1.3 0 1 0 -2.6 0M234.1 225.3a1.3 1.3 0 1 0 2.6 0a1.3 1.3 0 1 0 -2.6 0M238.0 230.1a1.3 1.3 0 1 0 2.6 0a1.3 1.3 0 1 0 -2.6 0M237.0 226.8a1.3 1.3 0 1 0 2.6 0a1.3 1.3 0 1 0 -2.6 0M238.6 229.9a1.3 1.3 0 1 0 2.6 0a1.3 1.3 0 1 0 -2.6 0M237.1 229.9a1.3 1.3 0 1 0 2.6 0a1.3 1.3 0 1 0 -2.6 0M236.1 227.5a1.3 1.3 0 1 0 2.6 0a1.3 1.3 0 1 0 -2.6 0M238.1 230.7a1.3 1.3 0 1 0 2.6 0a1.3 1.3 0 1 0 -2.6 0M242.1 234.7a1.3 1.3 0 1 0 2.6 0a1.3 1.3 0 1 0 -2.6 0M242.8 234.1a1.3 1.3 0 1 0 2.6 0a1.3 1.3 0 1 0 -2.6 0M241.4 232.9a1.3 1.3 0 1 0 2.6 0a1.3 1.3 0 1 0 -2.6 0M247.0 236.8a1.3 1.3 0 1 0 2.6 0a1.3 1.3 0 1 0 -2.6 0M245.6 237.8a1.3 1.3 0 1 0 2.6 0a1.3 1.3 0 1 0 -2.6 0M243.3 235.0a1.3 1.3 0 1 0 2.6 0a1.3 1.3 0 1 0 -2.6 0M246.1 237.1a1.3 1.3 0 1 0 2.6 0a1.3 1.3 0 1 0 -2.6 0M248.4 237.6a1.3 1.3 0 1 0 2.6 0a1.3 1.3 0 1 0 -2.6 0M247.9 238.3a1.3 1.3 0 1 0 2.6 0a1.3 1.3 0 1 0 -2.6 0M250.2 240.4a1.3 1.3 0 1 0 2.6 0a1.3 1.3 0 1 0 -2.6 0M250.3 240.9a1.3 1.3 0 1 0 2.6 0a1.3 1.3 0 1 0 -2.6 0M249.6 239.7a1.3 1.3 0 1 0 2.6 0a1.3 1.3 0 1 0 -2.6 0M248.2 239.2a1.3 1.3 0 1 0 2.6 0a1.3 1.3 0 1 0 -2.6 0M248.0 238.4a1.3 1.3 0 1 0 2.6 0a1.3 1.3 0 1 0 -2.6 0M249.9 241.3a1.3 1.3 0 1 0 2.6 0a1.3 1.3 0 1 0 -2.6 0M260.3 248.5a1.3 1.3 0 1 0 2.6 0a1.3 1.3 0 1 0 -2.6 0M257.9 245.4a1.3 1.3 0 1 0 2.6 0a1.3 1.3 0 1 0 -2.6 0M260.8 246.0a1.3 1.3 0 1 0 2.6 0a1.3 1.3 0 1 0 -2.6 0M256.2 243.7a1.3 1.3 0 1 0 2.6 0a1.3 1.3 0 1 0 -2.6 0M259.8 246.8a1.3 1.3 0 1 0 2.6 0a1.3 1.3 0 1 0 -2.6 0M254.2 243.5a1.3 1.3 0 1 0 2.6 0a1.3 1.3 0 1 0 -2.6 0M257.5 244.4a1.3 1.3 0 1 0 2.6 0a1.3 1.3 0 1 0 -2.6 0M261.1 247.1a1.3 1.3 0 1 0 2.6 0a1.3 1.3 0 1 0 -2.6 0M262.3 248.0a1.3 1.3 0 1 0 2.6 0a1.3 1.3 0 1 0 -2.6 0M262.4 250.1a1.3 1.3 0 1 0 2.6 0a1.3 1.3 0 1 0 -2.6 0M262.3 250.9a1.3 1.3 0 1 0 2.6 0a1.3 1.3 0 1 0 -2.6 0M304.7 206.4a1.3 1.3 0 1 0 2.6 0a1.3 1.3 0 1 0 -2.6 0M305.1 207.2a1.3 1.3 0 1 0 2.6 0a1.3 1.3 0 1 0 -2.6 0M305.3 206.3a1.3 1.3 0 1 0 2.6 0a1.3 1.3 0 1 0 -2.6 0M310.2 210.0a1.3 1.3 0 1 0 2.6 0a1.3 1.3 0 1 0 -2.6 0M306.9 207.0a1.3 1.3 0 1 0 2.6 0a1.3 1.3 0 1 0 -2.6 0M306.4 208.8a1.3 1.3 0 1 0 2.6 0a1.3 1.3 0 1 0 -2.6 0M310.3 211.3a1.3 1.3 0 1 0 2.6 0a1.3 1.3 0 1 0 -2.6 0M304.8 206.4a1.3 1.3 0 1 0 2.6 0a1.3 1.3 0 1 0 -2.6 0M314.8 215.6a1.3 1.3 0 1 0 2.6 0a1.3 1.3 0 1 0 -2.6 0M309.7 212.0a1.3 1.3 0 1 0 2.6 0a1.3 1.3 0 1 0 -2.6 0M313.0 216.2a1.3 1.3 0 1 0 2.6 0a1.3 1.3 0 1 0 -2.6 0M316.9 218.2a1.3 1.3 0 1 0 2.6 0a1.3 1.3 0 1 0 -2.6 0M310.6 212.8a1.3 1.3 0 1 0 2.6 0a1.3 1.3 0 1 0 -2.6 0M314.4 216.4a1.3 1.3 0 1 0 2.6 0a1.3 1.3 0 1 0 -2.6 0M313.7 214.2a1.3 1.3 0 1 0 2.6 0a1.3 1.3 0 1 0 -2.6 0M317.4 219.7a1.3 1.3 0 1 0 2.6 0a1.3 1.3 0 1 0 -2.6 0M311.2 211.7a1.3 1.3 0 1 0 2.6 0a1.3 1.3 0 1 0 -2.6 0M316.4 215.6a1.3 1.3 0 1 0 2.6 0a1.3 1.3 0 1 0 -2.6 0M321.1 222.8a1.3 1.3 0 1 0 2.6 0a1.3 1.3 0 1 0 -2.6 0M324.3 224.2a1.3 1.3 0 1 0 2.6 0a1.3 1.3 0 1 0 -2.6 0M323.1 223.2a1.3 1.3 0 1 0 2.6 0a1.3 1.3 0 1 0 -2.6 0M323.7 225.1a1.3 1.3 0 1 0 2.6 0a1.3 1.3 0 1 0 -2.6 0M321.8 222.1a1.3 1.3 0 1 0 2.6 0a1.3 1.3 0 1 0 -2.6 0M325.9 227.6a1.3 1.3 0 1 0 2.6 0a1.3 1.3 0 1 0 -2.6 0M323.9 225.0a1.3 1.3 0 1 0 2.6 0a1.3 1.3 0 1 0 -2.6 0M323.8 223.0a1.3 1.3 0 1 0 2.6 0a1.3 1.3 0 1 0 -2.6 0M325.7 226.4a1.3 1.3 0 1 0 2.6 0a1.3 1.3 0 1 0 -2.6 0M329.9 230.8a1.3 1.3 0 1 0 2.6 0a1.3 1.3 0 1 0 -2.6 0M328.3 228.6a1.3 1.3 0 1 0 2.6 0a1.3 1.3 0 1 0 -2.6 0M326.4 228.4a1.3 1.3 0 1 0 2.6 0a1.3 1.3 0 1 0 -2.6 0M327.7 227.4a1.3 1.3 0 1 0 2.6 0a1.3 1.3 0 1 0 -2.6 0M329.4 230.0a1.3 1.3 0 1 0 2.6 0a1.3 1.3 0 1 0 -2.6 0M328.5 229.0a1.3 1.3 0 1 0 2.6 0a1.3 1.3 0 1 0 -2.6 0M336.5 236.5a1.3 1.3 0 1 0 2.6 0a1.3 1.3 0 1 0 -2.6 0M336.7 236.5a1.3 1.3 0 1 0 2.6 0a1.3 1.3 0 1 0 -2.6 0M333.5 233.5a1.3 1.3 0 1 0 2.6 0a1.3 1.3 0 1 0 -2.6 0M338.1 237.9a1.3 1.3 0 1 0 2.6 0a1.3 1.3 0 1 0 -2.6 0M335.4 236.4a1.3 1.3 0 1 0 2.6 0a1.3 1.3 0 1 0 -2.6 0M334.3 233.9a1.3 1.3 0 1 0 2.6 0a1.3 1.3 0 1 0 -2.6 0M338.0 237.8a1.3 1.3 0 1 0 2.6 0a1.3 1.3 0 1 0 -2.6 0M333.6 233.2a1.3 1.3 0 1 0 2.6 0a1.3 1.3 0 1 0 -2.6 0M339.8 238.1a1.3 1.3 0 1 0 2.6 0a1.3 1.3 0 1 0 -2.6 0M344.0 241.6a1.3 1.3 0 1 0 2.6 0a1.3 1.3 0 1 0 -2.6 0M340.3 240.3a1.3 1.3 0 1 0 2.6 0a1.3 1.3 0 1 0 -2.6 0M344.0 242.9a1.3 1.3 0 1 0 2.6 0a1.3 1.3 0 1 0 -2.6 0M339.3 239.0a1.3 1.3 0 1 0 2.6 0a1.3 1.3 0 1 0 -2.6 0M340.5 239.4a1.3 1.3 0 1 0 2.6 0a1.3 1.3 0 1 0 -2.6 0M338.6 238.3a1.3 1.3 0 1 0 2.6 0a1.3 1.3 0 1 0 -2.6 0M352.3 249.2a1.3 1.3 0 1 0 2.6 0a1.3 1.3 0 1 0 -2.6 0M352.5 248.8a1.3 1.3 0 1 0 2.6 0a1.3 1.3 0 1 0 -2.6 0M352.2 249.0a1.3 1.3 0 1 0 2.6 0a1.3 1.3 0 1 0 -2.6 0M346.9 243.9a1.3 1.3 0 1 0 2.6 0a1.3 1.3 0 1 0 -2.6 0M345.7 244.1a1.3 1.3 0 1 0 2.6 0a1.3 1.3 0 1 0 -2.6 0M347.5 244.1a1.3 1.3 0 1 0 2.6 0a1.3 1.3 0 1 0 -2.6 0M352.4 249.0a1.3 1.3 0 1 0 2.6 0a1.3 1.3 0 1 0 -2.6 0M347.0 244.9a1.3 1.3 0 1 0 2.6 0a1.3 1.3 0 1 0 -2.6 0M409.3 205.7a1.3 1.3 0 1 0 2.6 0a1.3 1.3 0 1 0 -2.6 0M411.8 208.8a1.3 1.3 0 1 0 2.6 0a1.3 1.3 0 1 0 -2.6 0M408.9 206.8a1.3 1.3 0 1 0 2.6 0a1.3 1.3 0 1 0 -2.6 0M412.0 206.6a1.3 1.3 0 1 0 2.6 0a1.3 1.3 0 1 0 -2.6 0M409.4 205.9a1.3 1.3 0 1 0 2.6 0a1.3 1.3 0 1 0 -2.6 0M417.6 214.0a1.3 1.3 0 1 0 2.6 0a1.3 1.3 0 1 0 -2.6 0M416.7 213.0a1.3 1.3 0 1 0 2.6 0a1.3 1.3 0 1 0 -2.6 0M415.9 211.0a1.3 1.3 0 1 0 2.6 0a1.3 1.3 0 1 0 -2.6 0M414.3 211.5a1.3 1.3 0 1 0 2.6 0a1.3 1.3 0 1 0 -2.6 0M417.4 213.8a1.3 1.3 0 1 0 2.6 0a1.3 1.3 0 1 0 -2.6 0M416.7 214.7a1.3 1.3 0 1 0 2.6 0a1.3 1.3 0 1 0 -2.6 0M419.1 218.9a1.3 1.3 0 1 0 2.6 0a1.3 1.3 0 1 0 -2.6 0M418.5 214.8a1.3 1.3 0 1 0 2.6 0a1.3 1.3 0 1 0 -2.6 0M420.6 218.0a1.3 1.3 0 1 0 2.6 0a1.3 1.3 0 1 0 -2.6 0M420.6 219.0a1.3 1.3 0 1 0 2.6 0a1.3 1.3 0 1 0 -2.6 0M421.7 219.3a1.3 1.3 0 1 0 2.6 0a1.3 1.3 0 1 0 -2.6 0M420.7 218.0a1.3 1.3 0 1 0 2.6 0a1.3 1.3 0 1 0 -2.6 0M420.4 218.8a1.3 1.3 0 1 0 2.6 0a1.3 1.3 0 1 0 -2.6 0M424.6 228.5a1.3 1.3 0 1 0 2.6 0a1.3 1.3 0 1 0 -2.6 0M424.6 226.8a1.3 1.3 0 1 0 2.6 0a1.3 1.3 0 1 0 -2.6 0M426.1 227.4a1.3 1.3 0 1 0 2.6 0a1.3 1.3 0 1 0 -2.6 0M422.6 221.8a1.3 1.3 0 1 0 2.6 0a1.3 1.3 0 1 0 -2.6 0M423.7 224.4a1.3 1.3 0 1 0 2.6 0a1.3 1.3 0 1 0 -2.6 0M424.9 225.6a1.3 1.3 0 1 0 2.6 0a1.3 1.3 0 1 0 -2.6 0M429.2 229.6a1.3 1.3 0 1 0 2.6 0a1.3 1.3 0 1 0 -2.6 0M427.8 228.7a1.3 1.3 0 1 0 2.6 0a1.3 1.3 0 1 0 -2.6 0M427.2 229.4a1.3 1.3 0 1 0 2.6 0a1.3 1.3 0 1 0 -2.6 0M432.2 232.6a1.3 1.3 0 1 0 2.6 0a1.3 1.3 0 1 0 -2.6 0M427.5 229.1a1.3 1.3 0 1 0 2.6 0a1.3 1.3 0 1 0 -2.6 0M431.1 233.2a1.3 1.3 0 1 0 2.6 0a1.3 1.3 0 1 0 -2.6 0M429.8 232.3a1.3 1.3 0 1 0 2.6 0a1.3 1.3 0 1 0 -2.6 0M430.3 234.0a1.3 1.3 0 1 0 2.6 0a1.3 1.3 0 1 0 -2.6 0M433.3 234.7a1.3 1.3 0 1 0 2.6 0a1.3 1.3 0 1 0 -2.6 0M438.0 239.6a1.3 1.3 0 1 0 2.6 0a1.3 1.3 0 1 0 -2.6 0M434.7 234.7a1.3 1.3 0 1 0 2.6 0a1.3 1.3 0 1 0 -2.6 0M433.3 237.5a1.3 1.3 0 1 0 2.6 0a1.3 1.3 0 1 0 -2.6 0M436.8 238.9a1.3 1.3 0 1 0 2.6 0a1.3 1.3 0 1 0 -2.6 0M436.5 238.3a1.3 1.3 0 1 0 2.6 0a1.3 1.3 0 1 0 -2.6 0M433.7 236.6a1.3 1.3 0 1 0 2.6 0a1.3 1.3 0 1 0 -2.6 0M441.3 244.7a1.3 1.3 0 1 0 2.6 0a1.3 1.3 0 1 0 -2.6 0M438.5 240.4a1.3 1.3 0 1 0 2.6 0a1.3 1.3 0 1 0 -2.6 0M440.0 240.5a1.3 1.3 0 1 0 2.6 0a1.3 1.3 0 1 0 -2.6 0M441.7 246.3a1.3 1.3 0 1 0 2.6 0a1.3 1.3 0 1 0 -2.6 0M440.6 243.3a1.3 1.3 0 1 0 2.6 0a1.3 1.3 0 1 0 -2.6 0M438.9 241.3a1.3 1.3 0 1 0 2.6 0a1.3 1.3 0 1 0 -2.6 0M444.5 243.5a1.3 1.3 0 1 0 2.6 0a1.3 1.3 0 1 0 -2.6 0M509.5 227.6a1.3 1.3 0 1 0 2.6 0a1.3 1.3 0 1 0 -2.6 0M509.5 231.9a1.3 1.3 0 1 0 2.6 0a1.3 1.3 0 1 0 -2.6 0M509.6 232.2a1.3 1.3 0 1 0 2.6 0a1.3 1.3 0 1 0 -2.6 0M508.4 232.3a1.3 1.3 0 1 0 2.6 0a1.3 1.3 0 1 0 -2.6 0M508.1 230.9a1.3 1.3 0 1 0 2.6 0a1.3 1.3 0 1 0 -2.6 0M508.0 231.8a1.3 1.3 0 1 0 2.6 0a1.3 1.3 0 1 0 -2.6 0M510.2 234.3a1.3 1.3 0 1 0 2.6 0a1.3 1.3 0 1 0 -2.6 0M508.5 236.4a1.3 1.3 0 1 0 2.6 0a1.3 1.3 0 1 0 -2.6 0M510.8 235.7a1.3 1.3 0 1 0 2.6 0a1.3 1.3 0 1 0 -2.6 0M513.2 235.5a1.3 1.3 0 1 0 2.6 0a1.3 1.3 0 1 0 -2.6 0M519.4 238.6a1.3 1.3 0 1 0 2.6 0a1.3 1.3 0 1 0 -2.6 0M521.5 238.4a1.3 1.3 0 1 0 2.6 0a1.3 1.3 0 1 0 -2.6 0M519.9 238.5a1.3 1.3 0 1 0 2.6 0a1.3 1.3 0 1 0 -2.6 0M514.9 238.0a1.3 1.3 0 1 0 2.6 0a1.3 1.3 0 1 0 -2.6 0M521.1 238.5a1.3 1.3 0 1 0 2.6 0a1.3 1.3 0 1 0 -2.6 0M521.0 239.6a1.3 1.3 0 1 0 2.6 0a1.3 1.3 0 1 0 -2.6 0M518.4 238.7a1.3 1.3 0 1 0 2.6 0a1.3 1.3 0 1 0 -2.6 0M514.1 237.5a1.3 1.3 0 1 0 2.6 0a1.3 1.3 0 1 0 -2.6 0M521.8 238.3a1.3 1.3 0 1 0 2.6 0a1.3 1.3 0 1 0 -2.6 0M523.6 235.3a1.3 1.3 0 1 0 2.6 0a1.3 1.3 0 1 0 -2.6 0M523.8 236.7a1.3 1.3 0 1 0 2.6 0a1.3 1.3 0 1 0 -2.6 0M522.5 236.4a1.3 1.3 0 1 0 2.6 0a1.3 1.3 0 1 0 -2.6 0M523.0 238.0a1.3 1.3 0 1 0 2.6 0a1.3 1.3 0 1 0 -2.6 0M523.4 239.8a1.3 1.3 0 1 0 2.6 0a1.3 1.3 0 1 0 -2.6 0M522.7 240.0a1.3 1.3 0 1 0 2.6 0a1.3 1.3 0 1 0 -2.6 0M527.4 241.2a1.3 1.3 0 1 0 2.6 0a1.3 1.3 0 1 0 -2.6 0M529.2 240.5a1.3 1.3 0 1 0 2.6 0a1.3 1.3 0 1 0 -2.6 0M527.6 241.3a1.3 1.3 0 1 0 2.6 0a1.3 1.3 0 1 0 -2.6 0M528.6 241.9a1.3 1.3 0 1 0 2.6 0a1.3 1.3 0 1 0 -2.6 0M532.4 243.8a1.3 1.3 0 1 0 2.6 0a1.3 1.3 0 1 0 -2.6 0M531.2 242.8a1.3 1.3 0 1 0 2.6 0a1.3 1.3 0 1 0 -2.6 0M533.4 244.3a1.3 1.3 0 1 0 2.6 0a1.3 1.3 0 1 0 -2.6 0M529.4 242.8a1.3 1.3 0 1 0 2.6 0a1.3 1.3 0 1 0 -2.6 0M532.8 242.1a1.3 1.3 0 1 0 2.6 0a1.3 1.3 0 1 0 -2.6 0M535.1 245.3a1.3 1.3 0 1 0 2.6 0a1.3 1.3 0 1 0 -2.6 0M535.4 246.2a1.3 1.3 0 1 0 2.6 0a1.3 1.3 0 1 0 -2.6 0M501.2 215.3a1.3 1.3 0 1 0 2.6 0a1.3 1.3 0 1 0 -2.6 0M501.9 217.1a1.3 1.3 0 1 0 2.6 0a1.3 1.3 0 1 0 -2.6 0M501.8 215.2a1.3 1.3 0 1 0 2.6 0a1.3 1.3 0 1 0 -2.6 0M502.7 220.8a1.3 1.3 0 1 0 2.6 0a1.3 1.3 0 1 0 -2.6 0M502.0 215.3a1.3 1.3 0 1 0 2.6 0a1.3 1.3 0 1 0 -2.6 0M501.6 220.2a1.3 1.3 0 1 0 2.6 0a1.3 1.3 0 1 0 -2.6 0M578.0 204.7a1.3 1.3 0 1 0 2.6 0a1.3 1.3 0 1 0 -2.6 0M580.7 207.8a1.3 1.3 0 1 0 2.6 0a1.3 1.3 0 1 0 -2.6 0M577.9 205.2a1.3 1.3 0 1 0 2.6 0a1.3 1.3 0 1 0 -2.6 0M578.9 205.4a1.3 1.3 0 1 0 2.6 0a1.3 1.3 0 1 0 -2.6 0M581.1 207.0a1.3 1.3 0 1 0 2.6 0a1.3 1.3 0 1 0 -2.6 0M576.5 204.1a1.3 1.3 0 1 0 2.6 0a1.3 1.3 0 1 0 -2.6 0M581.4 207.9a1.3 1.3 0 1 0 2.6 0a1.3 1.3 0 1 0 -2.6 0M582.3 209.5a1.3 1.3 0 1 0 2.6 0a1.3 1.3 0 1 0 -2.6 0M588.6 215.9a1.3 1.3 0 1 0 2.6 0a1.3 1.3 0 1 0 -2.6 0M588.1 215.6a1.3 1.3 0 1 0 2.6 0a1.3 1.3 0 1 0 -2.6 0M582.6 208.9a1.3 1.3 0 1 0 2.6 0a1.3 1.3 0 1 0 -2.6 0M583.3 210.9a1.3 1.3 0 1 0 2.6 0a1.3 1.3 0 1 0 -2.6 0M587.0 214.4a1.3 1.3 0 1 0 2.6 0a1.3 1.3 0 1 0 -2.6 0M586.5 213.8a1.3 1.3 0 1 0 2.6 0a1.3 1.3 0 1 0 -2.6 0M583.5 210.1a1.3 1.3 0 1 0 2.6 0a1.3 1.3 0 1 0 -2.6 0M582.4 210.3a1.3 1.3 0 1 0 2.6 0a1.3 1.3 0 1 0 -2.6 0M594.8 222.8a1.3 1.3 0 1 0 2.6 0a1.3 1.3 0 1 0 -2.6 0M594.0 222.2a1.3 1.3 0 1 0 2.6 0a1.3 1.3 0 1 0 -2.6 0M589.3 217.7a1.3 1.3 0 1 0 2.6 0a1.3 1.3 0 1 0 -2.6 0M595.6 225.3a1.3 1.3 0 1 0 2.6 0a1.3 1.3 0 1 0 -2.6 0M591.5 221.3a1.3 1.3 0 1 0 2.6 0a1.3 1.3 0 1 0 -2.6 0M594.8 223.9a1.3 1.3 0 1 0 2.6 0a1.3 1.3 0 1 0 -2.6 0M590.8 220.1a1.3 1.3 0 1 0 2.6 0a1.3 1.3 0 1 0 -2.6 0M592.6 220.2a1.3 1.3 0 1 0 2.6 0a1.3 1.3 0 1 0 -2.6 0M591.4 219.4a1.3 1.3 0 1 0 2.6 0a1.3 1.3 0 1 0 -2.6 0M596.0 223.9a1.3 1.3 0 1 0 2.6 0a1.3 1.3 0 1 0 -2.6 0M601.3 231.1a1.3 1.3 0 1 0 2.6 0a1.3 1.3 0 1 0 -2.6 0M598.7 227.3a1.3 1.3 0 1 0 2.6 0a1.3 1.3 0 1 0 -2.6 0M599.3 228.5a1.3 1.3 0 1 0 2.6 0a1.3 1.3 0 1 0 -2.6 0M599.9 227.8a1.3 1.3 0 1 0 2.6 0a1.3 1.3 0 1 0 -2.6 0M602.7 231.1a1.3 1.3 0 1 0 2.6 0a1.3 1.3 0 1 0 -2.6 0M598.4 225.6a1.3 1.3 0 1 0 2.6 0a1.3 1.3 0 1 0 -2.6 0M599.7 226.6a1.3 1.3 0 1 0 2.6 0a1.3 1.3 0 1 0 -2.6 0M603.4 232.2a1.3 1.3 0 1 0 2.6 0a1.3 1.3 0 1 0 -2.6 0M606.2 234.8a1.3 1.3 0 1 0 2.6 0a1.3 1.3 0 1 0 -2.6 0M607.9 236.3a1.3 1.3 0 1 0 2.6 0a1.3 1.3 0 1 0 -2.6 0M606.3 235.0a1.3 1.3 0 1 0 2.6 0a1.3 1.3 0 1 0 -2.6 0M604.2 233.3a1.3 1.3 0 1 0 2.6 0a1.3 1.3 0 1 0 -2.6 0M603.4 233.5a1.3 1.3 0 1 0 2.6 0a1.3 1.3 0 1 0 -2.6 0M603.8 232.3a1.3 1.3 0 1 0 2.6 0a1.3 1.3 0 1 0 -2.6 0M616.4 243.1a1.3 1.3 0 1 0 2.6 0a1.3 1.3 0 1 0 -2.6 0M613.8 240.9a1.3 1.3 0 1 0 2.6 0a1.3 1.3 0 1 0 -2.6 0M615.3 241.8a1.3 1.3 0 1 0 2.6 0a1.3 1.3 0 1 0 -2.6 0M613.4 241.5a1.3 1.3 0 1 0 2.6 0a1.3 1.3 0 1 0 -2.6 0M616.9 241.3a1.3 1.3 0 1 0 2.6 0a1.3 1.3 0 1 0 -2.6 0M610.4 238.8a1.3 1.3 0 1 0 2.6 0a1.3 1.3 0 1 0 -2.6 0M612.0 238.7a1.3 1.3 0 1 0 2.6 0a1.3 1.3 0 1 0 -2.6 0M611.1 238.8a1.3 1.3 0 1 0 2.6 0a1.3 1.3 0 1 0 -2.6 0M618.1 243.3a1.3 1.3 0 1 0 2.6 0a1.3 1.3 0 1 0 -2.6 0M618.8 245.2a1.3 1.3 0 1 0 2.6 0a1.3 1.3 0 1 0 -2.6 0M623.0 247.5a1.3 1.3 0 1 0 2.6 0a1.3 1.3 0 1 0 -2.6 0M618.1 243.1a1.3 1.3 0 1 0 2.6 0a1.3 1.3 0 1 0 -2.6 0M618.7 244.5a1.3 1.3 0 1 0 2.6 0a1.3 1.3 0 1 0 -2.6 0M622.4 247.2a1.3 1.3 0 1 0 2.6 0a1.3 1.3 0 1 0 -2.6 0M624.6 249.6a1.3 1.3 0 1 0 2.6 0a1.3 1.3 0 1 0 -2.6 0M620.9 246.2a1.3 1.3 0 1 0 2.6 0a1.3 1.3 0 1 0 -2.6 0M622.2 247.3a1.3 1.3 0 1 0 2.6 0a1.3 1.3 0 1 0 -2.6 0" fill="#ff0000"/>
<rect x="0" y="290" width="800" height="14" fill="#dadada"/>
<rect x="0" y="289.2" width="800" height="0.8" fill="#ececec"/>
<g>
<rect x="1" y="291" width="11.2" height="11.2" fill="#f3f3f3"/><rect x="12.2" y="291" width="0.7" height="11.6" fill="#c9c9c9"/><rect x="1" y="302.2" width="11.9" height="0.6" fill="#c9c9c9"/>
<rect x="13.9" y="291" width="10.8" height="11.2" fill="#f3f3f3"/><rect x="24.7" y="291" width="0.7" height="11.6" fill="#c9c9c9"/><rect x="13.9" y="302.2" width="11.5" height="0.6" fill="#c9c9c9"/>
<rect x="26.5" y="291" width="10.6" height="11.2" fill="#f3f3f3"/><rect x="37.1" y="291" width="0.7" height="11.6" fill="#c9c9c9"/><rect x="26.5" y="302.2" width="11.3" height="0.6" fill="#c9c9c9"/>
<rect x="39" y="291" width="1.8" height="12" fill="#cdcdcd"/>
<rect x="43" y="291" width="11.3" height="11.2" fill="#f3f3f3"/><rect x="54.3" y="291" width="0.7" height="11.6" fill="#c9c9c9"/><rect x="43" y="302.2" width="12" height="0.6" fill="#c9c9c9"/>
<rect x="55.9" y="291" width="11.1" height="11.2" fill="#f3f3f3"/><rect x="67" y="291" width="0.7" height="11.6" fill="#c9c9c9"/><rect x="55.9" y="302.2" width="11.8" height="0.6" fill="#c9c9c9"/>
<rect x="68.8" y="291" width="10.8" height="11.2" fill="#f3f3f3"/><rect x="79.6" y="291" width="0.7" height="11.6" fill="#c9c9c9"/><rect x="68.8" y="302.2" width="11.5" height="0.6" fill="#c9c9c9"/>
<rect x="81.3" y="291" width="1.8" height="12" fill="#cdcdcd"/>
<rect x="85.6" y="291" width="10.6" height="11.2" fill="#f3f3f3"/><rect x="96.2" y="291" width="0.7" height="11.6" fill="#c9c9c9"/><rect x="85.6" y="302.2" width="11.3" height="0.6" fill="#c9c9c9"/>
<path d="M7.3 293.6L2.9 297.6H4.2V300.9H6.3V298.9H8.1V300.9H10.2V297.6H11.3L9.9 296.3V294.3H9V295.5Z" fill="#000"/>
<path d="M23.5 296.9H17.6M20.2 293.9L16.9 296.9L20.2 299.9" stroke="#000" stroke-width="1.5" fill="none" stroke-linecap="round" stroke-linejoin="round"/>
<path d="M28.3 296.9H34.4M31.6 293.9L34.9 296.9L31.6 299.9" stroke="#000" stroke-width="1.5" fill="none" stroke-linecap="round" stroke-linejoin="round"/>
<path d="M45.1 296.9H53.2M49.1 292.9V300.9" stroke="#000" stroke-width="1.1"/>
<path d="M44.7 296.9l1.5-1.5v3zM53.6 296.9l-1.5-1.5v3zM49.1 292.4l-1.5 1.5h3zM49.1 301.4l-1.5-1.5h3z" fill="#000"/>
<circle cx="61" cy="296.3" r="2.9" fill="none" stroke="#000" stroke-width="1.1"/>
<path d="M63.2 298.5L65.6 300.9" stroke="#000" stroke-width="1.3" stroke-linecap="round"/>
<path d="M70.2 294.8H78.8M70.2 297.1H78.8M70.2 299.6H78.8" stroke="#222" stroke-width="0.8"/>
<circle cx="72.6" cy="294.8" r="1.1" fill="#000"/><circle cx="76.6" cy="297.1" r="1.1" fill="#000"/><circle cx="72.8" cy="299.6" r="1.1" fill="#000"/>
<path d="M87.3 293.1H94L95.6 294.7V300.8H87.3Z" fill="#3a3a3a"/>
<rect x="88.6" y="293.5" width="4.6" height="2.4" fill="#f3f3f3"/><rect x="88.9" y="293.6" width="1.6" height="2" fill="#111"/>
<rect x="88.6" y="298" width="5.6" height="2.2" fill="#f3f3f3"/>
</g>
</svg>
</body></html>
